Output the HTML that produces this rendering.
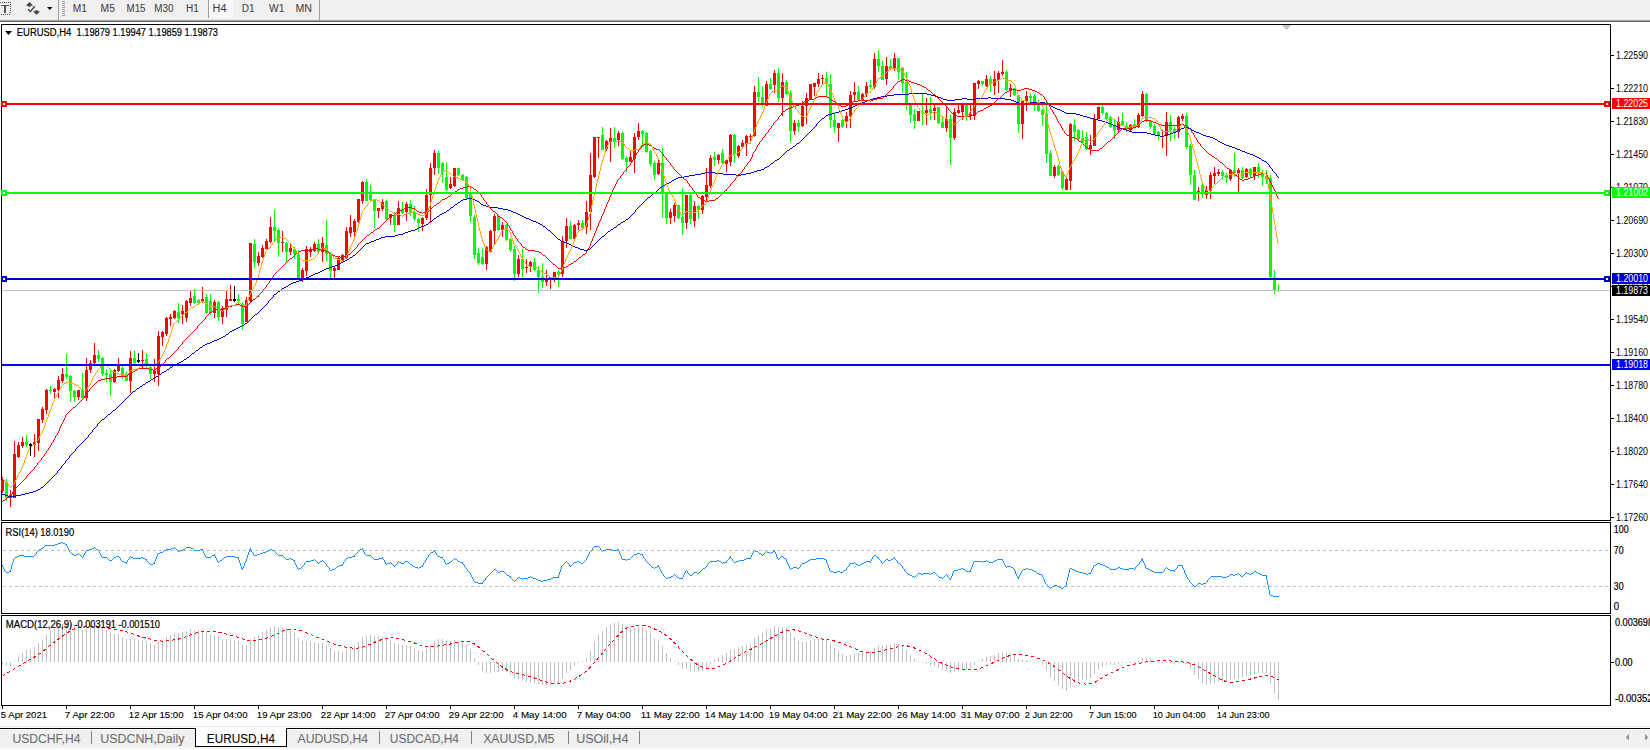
<!DOCTYPE html><html><head><meta charset="utf-8"><style>
html,body{margin:0;padding:0;width:1650px;height:750px;overflow:hidden;background:#fff}
svg{position:absolute;left:0;top:0;display:block}
text{font-family:"Liberation Sans",sans-serif}
</style></head><body>
<svg width="1650" height="750" viewBox="0 0 1650 750" shape-rendering="crispEdges">
<defs><clipPath id="cm"><rect x="2" y="25" width="1608" height="495"/></clipPath>
<clipPath id="cr"><rect x="2" y="523" width="1608" height="90"/></clipPath>
<clipPath id="cc"><rect x="2" y="616" width="1608" height="89"/></clipPath>
<clipPath id="ax"><rect x="1611" y="0" width="39" height="750"/></clipPath></defs>

<rect x="0" y="0" width="1650" height="20" fill="#f0f0f0"/>
<rect x="0" y="20" width="1650" height="1" fill="#a0a0a0"/><rect x="0" y="21" width="1650" height="1" fill="#696969"/>
<g fill="#555">
<rect x="0" y="2" width="1" height="1"/>
<rect x="2" y="2" width="1" height="1"/>
<rect x="4" y="2" width="1" height="1"/>
<rect x="6" y="2" width="1" height="1"/>
<rect x="8" y="2" width="1" height="1"/>
<rect x="10" y="2" width="1" height="1"/>
<rect x="1" y="14" width="1" height="1"/>
<rect x="3" y="14" width="1" height="1"/>
<rect x="5" y="14" width="1" height="1"/>
<rect x="7" y="14" width="1" height="1"/>
<rect x="9" y="14" width="1" height="1"/>
<rect x="10" y="4" width="1" height="1"/>
<rect x="10" y="6" width="1" height="1"/>
<rect x="10" y="8" width="1" height="1"/>
<rect x="10" y="10" width="1" height="1"/>
<rect x="10" y="12" width="1" height="1"/>
<rect x="1" y="5" width="8" height="1"/><rect x="4" y="5" width="2" height="8"/>
</g>
<path d="M25.8,5.7 L29.5,2 L33.2,5.7 Z M28.3,5.5 h2.4 v1.2 h-2.4 Z M35.2,10.2 h2.4 v1.2 h-2.4 Z M32.9,11.2 L40.1,11.2 L36.5,14.8 Z" fill="#444" shape-rendering="auto"/>
<polyline points="28.1,9.2 30.4,11.5 34.8,6.3" fill="none" stroke="#444" stroke-width="1.4" shape-rendering="auto"/>
<path d="M47,7 L52.5,7 L49.75,10 Z" fill="#000" shape-rendering="auto"/>
<rect x="58" y="0" width="1" height="20" fill="#a0a0a0"/>
<rect x="62" y="1" width="3" height="1" fill="#a0a0a0"/>
<rect x="62" y="3" width="3" height="1" fill="#a0a0a0"/>
<rect x="62" y="5" width="3" height="1" fill="#a0a0a0"/>
<rect x="62" y="7" width="3" height="1" fill="#a0a0a0"/>
<rect x="62" y="9" width="3" height="1" fill="#a0a0a0"/>
<rect x="62" y="11" width="3" height="1" fill="#a0a0a0"/>
<rect x="62" y="13" width="3" height="1" fill="#a0a0a0"/>
<rect x="62" y="15" width="3" height="1" fill="#a0a0a0"/>
<rect x="208" y="0" width="1" height="18" fill="#a0a0a0"/><rect x="209" y="0" width="24" height="18" fill="#f8f8f8"/>
<rect x="319" y="0" width="1" height="20" fill="#a0a0a0"/>
<text x="72.8" y="12" font-size="10" fill="#404040" stroke="#404040" stroke-width="0.05" textLength="14.2" lengthAdjust="spacingAndGlyphs" shape-rendering="auto" >M1</text>
<text x="100.6" y="12" font-size="10" fill="#404040" stroke="#404040" stroke-width="0.05" textLength="14.3" lengthAdjust="spacingAndGlyphs" shape-rendering="auto" >M5</text>
<text x="126.6" y="12" font-size="10" fill="#404040" stroke="#404040" stroke-width="0.05" textLength="18.9" lengthAdjust="spacingAndGlyphs" shape-rendering="auto" >M15</text>
<text x="154.3" y="12" font-size="10" fill="#404040" stroke="#404040" stroke-width="0.05" textLength="19.2" lengthAdjust="spacingAndGlyphs" shape-rendering="auto" >M30</text>
<text x="186.0" y="12" font-size="10" fill="#404040" stroke="#404040" stroke-width="0.05" textLength="12.8" lengthAdjust="spacingAndGlyphs" shape-rendering="auto" >H1</text>
<text x="212.60000000000002" y="12" font-size="10" fill="#404040" stroke="#404040" stroke-width="0.05" textLength="13.9" lengthAdjust="spacingAndGlyphs" shape-rendering="auto" >H4</text>
<text x="241.70000000000002" y="12" font-size="10" fill="#404040" stroke="#404040" stroke-width="0.05" textLength="12.8" lengthAdjust="spacingAndGlyphs" shape-rendering="auto" >D1</text>
<text x="269.1" y="12" font-size="10" fill="#404040" stroke="#404040" stroke-width="0.05" textLength="15.4" lengthAdjust="spacingAndGlyphs" shape-rendering="auto" >W1</text>
<text x="295.5" y="12" font-size="10" fill="#404040" stroke="#404040" stroke-width="0.05" textLength="16.5" lengthAdjust="spacingAndGlyphs" shape-rendering="auto" >MN</text>
<rect x="1" y="24" width="1610" height="1" fill="#000"/><rect x="1" y="520" width="1610" height="1" fill="#000"/>
<rect x="1" y="24" width="1" height="497" fill="#000"/><rect x="1610" y="24" width="1" height="497" fill="#000"/>
<rect x="1" y="522" width="1610" height="1" fill="#000"/><rect x="1" y="613" width="1610" height="1" fill="#000"/>
<rect x="1" y="522" width="1" height="92" fill="#000"/><rect x="1610" y="522" width="1" height="92" fill="#000"/>
<rect x="1" y="615" width="1610" height="1" fill="#000"/><rect x="1" y="705" width="1610" height="1" fill="#000"/>
<rect x="1" y="615" width="1" height="91" fill="#000"/><rect x="1610" y="615" width="1" height="91" fill="#000"/>
<path d="M1282,25 L1291,25 L1286.5,30 Z" fill="#c0c0c0" shape-rendering="auto"/>
<rect x="2" y="477" width="1" height="16" fill="#ff0000"/>
<rect x="1" y="480" width="3" height="11" fill="#ff0000"/>
<rect x="6" y="479" width="1" height="22" fill="#00ff00"/>
<rect x="5" y="482" width="3" height="16" fill="#00ff00"/>
<rect x="10" y="490" width="1" height="17" fill="#ff0000"/>
<rect x="9" y="495" width="3" height="3" fill="#ff0000"/>
<rect x="14" y="441" width="1" height="57" fill="#ff0000"/>
<rect x="13" y="454" width="3" height="44" fill="#ff0000"/>
<rect x="18" y="442" width="1" height="16" fill="#ff0000"/>
<rect x="17" y="445" width="3" height="12" fill="#ff0000"/>
<rect x="22" y="437" width="1" height="11" fill="#ff0000"/>
<rect x="21" y="442" width="3" height="4" fill="#ff0000"/>
<rect x="26" y="435" width="1" height="12" fill="#00ff00"/>
<rect x="25" y="442" width="3" height="3" fill="#00ff00"/>
<rect x="30" y="444" width="1" height="1" fill="#00ff00"/>
<rect x="29" y="444" width="3" height="1" fill="#00ff00"/>
<rect x="34" y="434" width="1" height="23" fill="#ff0000"/>
<rect x="33" y="442" width="3" height="3" fill="#ff0000"/>
<rect x="38" y="419" width="1" height="32" fill="#ff0000"/>
<rect x="37" y="419" width="3" height="24" fill="#ff0000"/>
<rect x="42" y="407" width="1" height="16" fill="#ff0000"/>
<rect x="41" y="409" width="3" height="11" fill="#ff0000"/>
<rect x="46" y="389" width="1" height="25" fill="#ff0000"/>
<rect x="45" y="390" width="3" height="20" fill="#ff0000"/>
<rect x="50" y="386" width="1" height="8" fill="#00ff00"/>
<rect x="49" y="390" width="3" height="1" fill="#00ff00"/>
<rect x="54" y="388" width="1" height="10" fill="#ff0000"/>
<rect x="53" y="389" width="3" height="3" fill="#ff0000"/>
<rect x="58" y="376" width="1" height="22" fill="#ff0000"/>
<rect x="57" y="380" width="3" height="10" fill="#ff0000"/>
<rect x="62" y="368" width="1" height="15" fill="#ff0000"/>
<rect x="61" y="374" width="3" height="7" fill="#ff0000"/>
<rect x="66" y="354" width="1" height="25" fill="#00ff00"/>
<rect x="65" y="374" width="3" height="3" fill="#00ff00"/>
<rect x="70" y="375" width="1" height="27" fill="#00ff00"/>
<rect x="69" y="376" width="3" height="15" fill="#00ff00"/>
<rect x="74" y="390" width="1" height="12" fill="#00ff00"/>
<rect x="73" y="391" width="3" height="6" fill="#00ff00"/>
<rect x="78" y="390" width="1" height="10" fill="#ff0000"/>
<rect x="77" y="390" width="3" height="7" fill="#ff0000"/>
<rect x="82" y="373" width="1" height="25" fill="#00ff00"/>
<rect x="81" y="390" width="3" height="8" fill="#00ff00"/>
<rect x="86" y="358" width="1" height="43" fill="#ff0000"/>
<rect x="85" y="370" width="3" height="28" fill="#ff0000"/>
<rect x="90" y="360" width="1" height="13" fill="#ff0000"/>
<rect x="89" y="363" width="3" height="7" fill="#ff0000"/>
<rect x="94" y="343" width="1" height="21" fill="#ff0000"/>
<rect x="93" y="355" width="3" height="8" fill="#ff0000"/>
<rect x="98" y="350" width="1" height="12" fill="#00ff00"/>
<rect x="97" y="355" width="3" height="4" fill="#00ff00"/>
<rect x="102" y="357" width="1" height="19" fill="#00ff00"/>
<rect x="101" y="358" width="3" height="16" fill="#00ff00"/>
<rect x="106" y="369" width="1" height="13" fill="#00ff00"/>
<rect x="105" y="373" width="3" height="2" fill="#00ff00"/>
<rect x="110" y="369" width="1" height="27" fill="#00ff00"/>
<rect x="109" y="374" width="3" height="8" fill="#00ff00"/>
<rect x="114" y="369" width="1" height="14" fill="#ff0000"/>
<rect x="113" y="370" width="3" height="12" fill="#ff0000"/>
<rect x="118" y="358" width="1" height="14" fill="#ff0000"/>
<rect x="117" y="366" width="3" height="5" fill="#ff0000"/>
<rect x="122" y="366" width="1" height="13" fill="#00ff00"/>
<rect x="121" y="368" width="3" height="9" fill="#00ff00"/>
<rect x="126" y="372" width="1" height="9" fill="#00ff00"/>
<rect x="125" y="374" width="3" height="7" fill="#00ff00"/>
<rect x="130" y="351" width="1" height="42" fill="#ff0000"/>
<rect x="129" y="358" width="3" height="23" fill="#ff0000"/>
<rect x="134" y="351" width="1" height="14" fill="#00ff00"/>
<rect x="133" y="358" width="3" height="5" fill="#00ff00"/>
<rect x="138" y="353" width="1" height="9" fill="#00ff00"/>
<rect x="137" y="361" width="3" height="1" fill="#00ff00"/>
<rect x="142" y="350" width="1" height="19" fill="#ff0000"/>
<rect x="141" y="360" width="3" height="1" fill="#ff0000"/>
<rect x="146" y="353" width="1" height="16" fill="#00ff00"/>
<rect x="145" y="359" width="3" height="5" fill="#00ff00"/>
<rect x="150" y="366" width="1" height="13" fill="#00ff00"/>
<rect x="149" y="367" width="3" height="7" fill="#00ff00"/>
<rect x="154" y="359" width="1" height="23" fill="#ff0000"/>
<rect x="153" y="371" width="3" height="3" fill="#ff0000"/>
<rect x="158" y="331" width="1" height="55" fill="#ff0000"/>
<rect x="157" y="336" width="3" height="38" fill="#ff0000"/>
<rect x="162" y="331" width="1" height="15" fill="#ff0000"/>
<rect x="161" y="332" width="3" height="5" fill="#ff0000"/>
<rect x="166" y="317" width="1" height="19" fill="#ff0000"/>
<rect x="165" y="318" width="3" height="16" fill="#ff0000"/>
<rect x="170" y="314" width="1" height="12" fill="#ff0000"/>
<rect x="169" y="317" width="3" height="2" fill="#ff0000"/>
<rect x="174" y="310" width="1" height="9" fill="#ff0000"/>
<rect x="173" y="311" width="3" height="7" fill="#ff0000"/>
<rect x="178" y="303" width="1" height="20" fill="#00ff00"/>
<rect x="177" y="312" width="3" height="6" fill="#00ff00"/>
<rect x="182" y="305" width="1" height="19" fill="#ff0000"/>
<rect x="181" y="311" width="3" height="3" fill="#ff0000"/>
<rect x="186" y="300" width="1" height="22" fill="#ff0000"/>
<rect x="185" y="301" width="3" height="17" fill="#ff0000"/>
<rect x="190" y="291" width="1" height="15" fill="#ff0000"/>
<rect x="189" y="298" width="3" height="5" fill="#ff0000"/>
<rect x="194" y="289" width="1" height="15" fill="#00ff00"/>
<rect x="193" y="296" width="3" height="7" fill="#00ff00"/>
<rect x="198" y="299" width="1" height="6" fill="#00ff00"/>
<rect x="197" y="300" width="3" height="3" fill="#00ff00"/>
<rect x="202" y="287" width="1" height="16" fill="#ff0000"/>
<rect x="201" y="299" width="3" height="3" fill="#ff0000"/>
<rect x="206" y="294" width="1" height="20" fill="#00ff00"/>
<rect x="205" y="297" width="3" height="16" fill="#00ff00"/>
<rect x="210" y="294" width="1" height="21" fill="#00ff00"/>
<rect x="209" y="301" width="3" height="12" fill="#00ff00"/>
<rect x="214" y="300" width="1" height="18" fill="#ff0000"/>
<rect x="213" y="302" width="3" height="11" fill="#ff0000"/>
<rect x="218" y="301" width="1" height="20" fill="#00ff00"/>
<rect x="217" y="302" width="3" height="15" fill="#00ff00"/>
<rect x="222" y="306" width="1" height="18" fill="#ff0000"/>
<rect x="221" y="309" width="3" height="8" fill="#ff0000"/>
<rect x="226" y="290" width="1" height="27" fill="#ff0000"/>
<rect x="225" y="299" width="3" height="11" fill="#ff0000"/>
<rect x="230" y="285" width="1" height="16" fill="#ff0000"/>
<rect x="229" y="299" width="3" height="2" fill="#ff0000"/>
<rect x="234" y="286" width="1" height="16" fill="#00ff00"/>
<rect x="233" y="299" width="3" height="1" fill="#00ff00"/>
<rect x="238" y="294" width="1" height="10" fill="#00ff00"/>
<rect x="237" y="299" width="3" height="2" fill="#00ff00"/>
<rect x="242" y="302" width="1" height="28" fill="#00ff00"/>
<rect x="241" y="304" width="3" height="20" fill="#00ff00"/>
<rect x="246" y="297" width="1" height="25" fill="#ff0000"/>
<rect x="245" y="300" width="3" height="22" fill="#ff0000"/>
<rect x="250" y="243" width="1" height="59" fill="#ff0000"/>
<rect x="249" y="243" width="3" height="58" fill="#ff0000"/>
<rect x="254" y="239" width="1" height="29" fill="#00ff00"/>
<rect x="253" y="244" width="3" height="18" fill="#00ff00"/>
<rect x="258" y="252" width="1" height="14" fill="#ff0000"/>
<rect x="257" y="256" width="3" height="7" fill="#ff0000"/>
<rect x="262" y="245" width="1" height="13" fill="#ff0000"/>
<rect x="261" y="248" width="3" height="9" fill="#ff0000"/>
<rect x="266" y="239" width="1" height="10" fill="#ff0000"/>
<rect x="265" y="241" width="3" height="8" fill="#ff0000"/>
<rect x="270" y="217" width="1" height="26" fill="#ff0000"/>
<rect x="269" y="227" width="3" height="15" fill="#ff0000"/>
<rect x="274" y="210" width="1" height="32" fill="#00ff00"/>
<rect x="273" y="227" width="3" height="4" fill="#00ff00"/>
<rect x="278" y="228" width="1" height="29" fill="#00ff00"/>
<rect x="277" y="230" width="3" height="13" fill="#00ff00"/>
<rect x="282" y="231" width="1" height="21" fill="#ff0000"/>
<rect x="281" y="242" width="3" height="1" fill="#ff0000"/>
<rect x="286" y="242" width="1" height="20" fill="#00ff00"/>
<rect x="285" y="243" width="3" height="9" fill="#00ff00"/>
<rect x="290" y="243" width="1" height="12" fill="#ff0000"/>
<rect x="289" y="248" width="3" height="4" fill="#ff0000"/>
<rect x="294" y="247" width="1" height="12" fill="#00ff00"/>
<rect x="293" y="249" width="3" height="5" fill="#00ff00"/>
<rect x="298" y="250" width="1" height="28" fill="#00ff00"/>
<rect x="297" y="254" width="3" height="24" fill="#00ff00"/>
<rect x="302" y="268" width="1" height="14" fill="#ff0000"/>
<rect x="301" y="270" width="3" height="8" fill="#ff0000"/>
<rect x="306" y="246" width="1" height="30" fill="#ff0000"/>
<rect x="305" y="249" width="3" height="22" fill="#ff0000"/>
<rect x="310" y="247" width="1" height="10" fill="#ff0000"/>
<rect x="309" y="249" width="3" height="3" fill="#ff0000"/>
<rect x="314" y="242" width="1" height="10" fill="#ff0000"/>
<rect x="313" y="244" width="3" height="7" fill="#ff0000"/>
<rect x="318" y="239" width="1" height="15" fill="#00ff00"/>
<rect x="317" y="244" width="3" height="8" fill="#00ff00"/>
<rect x="322" y="237" width="1" height="25" fill="#ff0000"/>
<rect x="321" y="243" width="3" height="9" fill="#ff0000"/>
<rect x="326" y="220" width="1" height="41" fill="#00ff00"/>
<rect x="325" y="245" width="3" height="9" fill="#00ff00"/>
<rect x="330" y="252" width="1" height="26" fill="#00ff00"/>
<rect x="329" y="254" width="3" height="17" fill="#00ff00"/>
<rect x="334" y="266" width="1" height="12" fill="#ff0000"/>
<rect x="333" y="268" width="3" height="3" fill="#ff0000"/>
<rect x="338" y="257" width="1" height="13" fill="#ff0000"/>
<rect x="337" y="258" width="3" height="12" fill="#ff0000"/>
<rect x="342" y="254" width="1" height="7" fill="#ff0000"/>
<rect x="341" y="255" width="3" height="5" fill="#ff0000"/>
<rect x="346" y="227" width="1" height="32" fill="#ff0000"/>
<rect x="345" y="231" width="3" height="27" fill="#ff0000"/>
<rect x="350" y="215" width="1" height="22" fill="#ff0000"/>
<rect x="349" y="227" width="3" height="6" fill="#ff0000"/>
<rect x="354" y="219" width="1" height="18" fill="#ff0000"/>
<rect x="353" y="221" width="3" height="11" fill="#ff0000"/>
<rect x="358" y="199" width="1" height="24" fill="#ff0000"/>
<rect x="357" y="199" width="3" height="23" fill="#ff0000"/>
<rect x="362" y="181" width="1" height="23" fill="#ff0000"/>
<rect x="361" y="182" width="3" height="19" fill="#ff0000"/>
<rect x="366" y="179" width="1" height="22" fill="#00ff00"/>
<rect x="365" y="182" width="3" height="19" fill="#00ff00"/>
<rect x="370" y="185" width="1" height="17" fill="#00ff00"/>
<rect x="369" y="192" width="3" height="8" fill="#00ff00"/>
<rect x="374" y="199" width="1" height="29" fill="#00ff00"/>
<rect x="373" y="199" width="3" height="12" fill="#00ff00"/>
<rect x="378" y="208" width="1" height="10" fill="#ff0000"/>
<rect x="377" y="208" width="3" height="3" fill="#ff0000"/>
<rect x="382" y="199" width="1" height="12" fill="#ff0000"/>
<rect x="381" y="202" width="3" height="7" fill="#ff0000"/>
<rect x="386" y="200" width="1" height="20" fill="#00ff00"/>
<rect x="385" y="201" width="3" height="18" fill="#00ff00"/>
<rect x="390" y="214" width="1" height="11" fill="#ff0000"/>
<rect x="389" y="214" width="3" height="4" fill="#ff0000"/>
<rect x="394" y="212" width="1" height="20" fill="#00ff00"/>
<rect x="393" y="215" width="3" height="10" fill="#00ff00"/>
<rect x="398" y="201" width="1" height="24" fill="#ff0000"/>
<rect x="397" y="208" width="3" height="17" fill="#ff0000"/>
<rect x="402" y="202" width="1" height="12" fill="#00ff00"/>
<rect x="401" y="209" width="3" height="4" fill="#00ff00"/>
<rect x="406" y="202" width="1" height="19" fill="#ff0000"/>
<rect x="405" y="204" width="3" height="8" fill="#ff0000"/>
<rect x="410" y="200" width="1" height="16" fill="#00ff00"/>
<rect x="409" y="204" width="3" height="8" fill="#00ff00"/>
<rect x="414" y="206" width="1" height="15" fill="#00ff00"/>
<rect x="413" y="212" width="3" height="7" fill="#00ff00"/>
<rect x="418" y="218" width="1" height="14" fill="#00ff00"/>
<rect x="417" y="219" width="3" height="4" fill="#00ff00"/>
<rect x="422" y="217" width="1" height="14" fill="#ff0000"/>
<rect x="421" y="218" width="3" height="6" fill="#ff0000"/>
<rect x="426" y="189" width="1" height="31" fill="#ff0000"/>
<rect x="425" y="195" width="3" height="23" fill="#ff0000"/>
<rect x="430" y="163" width="1" height="60" fill="#ff0000"/>
<rect x="429" y="168" width="3" height="27" fill="#ff0000"/>
<rect x="434" y="150" width="1" height="25" fill="#ff0000"/>
<rect x="433" y="153" width="3" height="15" fill="#ff0000"/>
<rect x="438" y="151" width="1" height="23" fill="#00ff00"/>
<rect x="437" y="153" width="3" height="15" fill="#00ff00"/>
<rect x="442" y="162" width="1" height="21" fill="#00ff00"/>
<rect x="441" y="163" width="3" height="9" fill="#00ff00"/>
<rect x="446" y="162" width="1" height="29" fill="#00ff00"/>
<rect x="445" y="177" width="3" height="13" fill="#00ff00"/>
<rect x="450" y="177" width="1" height="12" fill="#ff0000"/>
<rect x="449" y="184" width="3" height="4" fill="#ff0000"/>
<rect x="454" y="168" width="1" height="19" fill="#ff0000"/>
<rect x="453" y="168" width="3" height="18" fill="#ff0000"/>
<rect x="458" y="168" width="1" height="8" fill="#00ff00"/>
<rect x="457" y="168" width="3" height="7" fill="#00ff00"/>
<rect x="462" y="174" width="1" height="7" fill="#00ff00"/>
<rect x="461" y="175" width="3" height="5" fill="#00ff00"/>
<rect x="466" y="176" width="1" height="23" fill="#00ff00"/>
<rect x="465" y="177" width="3" height="21" fill="#00ff00"/>
<rect x="470" y="193" width="1" height="29" fill="#00ff00"/>
<rect x="469" y="194" width="3" height="22" fill="#00ff00"/>
<rect x="474" y="215" width="1" height="44" fill="#00ff00"/>
<rect x="473" y="217" width="3" height="38" fill="#00ff00"/>
<rect x="478" y="248" width="1" height="17" fill="#00ff00"/>
<rect x="477" y="253" width="3" height="10" fill="#00ff00"/>
<rect x="482" y="249" width="1" height="16" fill="#00ff00"/>
<rect x="481" y="257" width="3" height="7" fill="#00ff00"/>
<rect x="486" y="246" width="1" height="24" fill="#ff0000"/>
<rect x="485" y="247" width="3" height="17" fill="#ff0000"/>
<rect x="490" y="230" width="1" height="23" fill="#ff0000"/>
<rect x="489" y="231" width="3" height="21" fill="#ff0000"/>
<rect x="494" y="214" width="1" height="31" fill="#ff0000"/>
<rect x="493" y="216" width="3" height="15" fill="#ff0000"/>
<rect x="498" y="215" width="1" height="16" fill="#00ff00"/>
<rect x="497" y="216" width="3" height="14" fill="#00ff00"/>
<rect x="502" y="222" width="1" height="15" fill="#ff0000"/>
<rect x="501" y="225" width="3" height="5" fill="#ff0000"/>
<rect x="506" y="224" width="1" height="17" fill="#00ff00"/>
<rect x="505" y="225" width="3" height="15" fill="#00ff00"/>
<rect x="510" y="238" width="1" height="14" fill="#00ff00"/>
<rect x="509" y="239" width="3" height="11" fill="#00ff00"/>
<rect x="514" y="246" width="1" height="35" fill="#00ff00"/>
<rect x="513" y="249" width="3" height="25" fill="#00ff00"/>
<rect x="518" y="255" width="1" height="22" fill="#ff0000"/>
<rect x="517" y="259" width="3" height="15" fill="#ff0000"/>
<rect x="522" y="249" width="1" height="28" fill="#00ff00"/>
<rect x="521" y="259" width="3" height="10" fill="#00ff00"/>
<rect x="526" y="259" width="1" height="14" fill="#ff0000"/>
<rect x="525" y="267" width="3" height="1" fill="#ff0000"/>
<rect x="530" y="261" width="1" height="11" fill="#ff0000"/>
<rect x="529" y="262" width="3" height="5" fill="#ff0000"/>
<rect x="534" y="258" width="1" height="13" fill="#00ff00"/>
<rect x="533" y="262" width="3" height="8" fill="#00ff00"/>
<rect x="538" y="266" width="1" height="27" fill="#00ff00"/>
<rect x="537" y="270" width="3" height="7" fill="#00ff00"/>
<rect x="542" y="263" width="1" height="25" fill="#00ff00"/>
<rect x="541" y="277" width="3" height="5" fill="#00ff00"/>
<rect x="546" y="270" width="1" height="16" fill="#ff0000"/>
<rect x="545" y="279" width="3" height="3" fill="#ff0000"/>
<rect x="550" y="277" width="1" height="12" fill="#ff0000"/>
<rect x="549" y="277" width="3" height="2" fill="#ff0000"/>
<rect x="554" y="272" width="1" height="10" fill="#ff0000"/>
<rect x="553" y="272" width="3" height="5" fill="#ff0000"/>
<rect x="558" y="270" width="1" height="17" fill="#00ff00"/>
<rect x="557" y="272" width="3" height="2" fill="#00ff00"/>
<rect x="562" y="236" width="1" height="41" fill="#ff0000"/>
<rect x="561" y="241" width="3" height="33" fill="#ff0000"/>
<rect x="566" y="218" width="1" height="30" fill="#ff0000"/>
<rect x="565" y="226" width="3" height="15" fill="#ff0000"/>
<rect x="570" y="221" width="1" height="18" fill="#00ff00"/>
<rect x="569" y="226" width="3" height="13" fill="#00ff00"/>
<rect x="574" y="224" width="1" height="18" fill="#ff0000"/>
<rect x="573" y="225" width="3" height="14" fill="#ff0000"/>
<rect x="578" y="220" width="1" height="10" fill="#ff0000"/>
<rect x="577" y="223" width="3" height="2" fill="#ff0000"/>
<rect x="582" y="220" width="1" height="10" fill="#00ff00"/>
<rect x="581" y="223" width="3" height="5" fill="#00ff00"/>
<rect x="586" y="201" width="1" height="33" fill="#ff0000"/>
<rect x="585" y="212" width="3" height="15" fill="#ff0000"/>
<rect x="590" y="153" width="1" height="77" fill="#ff0000"/>
<rect x="589" y="175" width="3" height="37" fill="#ff0000"/>
<rect x="594" y="137" width="1" height="41" fill="#ff0000"/>
<rect x="593" y="137" width="3" height="40" fill="#ff0000"/>
<rect x="598" y="137" width="1" height="21" fill="#ff0000"/>
<rect x="597" y="137" width="3" height="1" fill="#ff0000"/>
<rect x="602" y="127" width="1" height="23" fill="#00ff00"/>
<rect x="601" y="135" width="3" height="15" fill="#00ff00"/>
<rect x="606" y="140" width="1" height="11" fill="#ff0000"/>
<rect x="605" y="141" width="3" height="8" fill="#ff0000"/>
<rect x="610" y="128" width="1" height="34" fill="#ff0000"/>
<rect x="609" y="138" width="3" height="4" fill="#ff0000"/>
<rect x="614" y="127" width="1" height="21" fill="#00ff00"/>
<rect x="613" y="138" width="3" height="3" fill="#00ff00"/>
<rect x="618" y="131" width="1" height="15" fill="#ff0000"/>
<rect x="617" y="133" width="3" height="7" fill="#ff0000"/>
<rect x="622" y="132" width="1" height="28" fill="#00ff00"/>
<rect x="621" y="133" width="3" height="26" fill="#00ff00"/>
<rect x="626" y="156" width="1" height="16" fill="#00ff00"/>
<rect x="625" y="158" width="3" height="4" fill="#00ff00"/>
<rect x="630" y="151" width="1" height="11" fill="#ff0000"/>
<rect x="629" y="157" width="3" height="5" fill="#ff0000"/>
<rect x="634" y="133" width="1" height="40" fill="#ff0000"/>
<rect x="633" y="137" width="3" height="22" fill="#ff0000"/>
<rect x="638" y="123" width="1" height="17" fill="#ff0000"/>
<rect x="637" y="131" width="3" height="6" fill="#ff0000"/>
<rect x="642" y="130" width="1" height="17" fill="#00ff00"/>
<rect x="641" y="131" width="3" height="3" fill="#00ff00"/>
<rect x="646" y="132" width="1" height="21" fill="#00ff00"/>
<rect x="645" y="133" width="3" height="19" fill="#00ff00"/>
<rect x="650" y="150" width="1" height="16" fill="#00ff00"/>
<rect x="649" y="151" width="3" height="13" fill="#00ff00"/>
<rect x="654" y="161" width="1" height="19" fill="#00ff00"/>
<rect x="653" y="163" width="3" height="12" fill="#00ff00"/>
<rect x="658" y="159" width="1" height="16" fill="#ff0000"/>
<rect x="657" y="163" width="3" height="11" fill="#ff0000"/>
<rect x="662" y="148" width="1" height="70" fill="#00ff00"/>
<rect x="661" y="163" width="3" height="29" fill="#00ff00"/>
<rect x="666" y="192" width="1" height="32" fill="#00ff00"/>
<rect x="665" y="193" width="3" height="25" fill="#00ff00"/>
<rect x="670" y="209" width="1" height="15" fill="#ff0000"/>
<rect x="669" y="212" width="3" height="6" fill="#ff0000"/>
<rect x="674" y="203" width="1" height="19" fill="#ff0000"/>
<rect x="673" y="205" width="3" height="11" fill="#ff0000"/>
<rect x="678" y="205" width="1" height="14" fill="#00ff00"/>
<rect x="677" y="205" width="3" height="13" fill="#00ff00"/>
<rect x="682" y="188" width="1" height="47" fill="#00ff00"/>
<rect x="681" y="217" width="3" height="6" fill="#00ff00"/>
<rect x="686" y="195" width="1" height="34" fill="#ff0000"/>
<rect x="685" y="195" width="3" height="28" fill="#ff0000"/>
<rect x="690" y="194" width="1" height="30" fill="#00ff00"/>
<rect x="689" y="195" width="3" height="24" fill="#00ff00"/>
<rect x="694" y="201" width="1" height="26" fill="#ff0000"/>
<rect x="693" y="206" width="3" height="15" fill="#ff0000"/>
<rect x="698" y="205" width="1" height="14" fill="#00ff00"/>
<rect x="697" y="206" width="3" height="4" fill="#00ff00"/>
<rect x="702" y="195" width="1" height="19" fill="#ff0000"/>
<rect x="701" y="196" width="3" height="14" fill="#ff0000"/>
<rect x="706" y="168" width="1" height="34" fill="#ff0000"/>
<rect x="705" y="185" width="3" height="12" fill="#ff0000"/>
<rect x="710" y="155" width="1" height="33" fill="#ff0000"/>
<rect x="709" y="158" width="3" height="28" fill="#ff0000"/>
<rect x="714" y="152" width="1" height="14" fill="#00ff00"/>
<rect x="713" y="157" width="3" height="3" fill="#00ff00"/>
<rect x="718" y="154" width="1" height="10" fill="#ff0000"/>
<rect x="717" y="155" width="3" height="5" fill="#ff0000"/>
<rect x="722" y="149" width="1" height="15" fill="#00ff00"/>
<rect x="721" y="153" width="3" height="10" fill="#00ff00"/>
<rect x="726" y="159" width="1" height="13" fill="#ff0000"/>
<rect x="725" y="160" width="3" height="4" fill="#ff0000"/>
<rect x="730" y="134" width="1" height="32" fill="#ff0000"/>
<rect x="729" y="135" width="3" height="27" fill="#ff0000"/>
<rect x="734" y="134" width="1" height="29" fill="#00ff00"/>
<rect x="733" y="135" width="3" height="19" fill="#00ff00"/>
<rect x="738" y="145" width="1" height="13" fill="#ff0000"/>
<rect x="737" y="146" width="3" height="10" fill="#ff0000"/>
<rect x="742" y="140" width="1" height="8" fill="#ff0000"/>
<rect x="741" y="143" width="3" height="4" fill="#ff0000"/>
<rect x="746" y="135" width="1" height="21" fill="#ff0000"/>
<rect x="745" y="136" width="3" height="8" fill="#ff0000"/>
<rect x="750" y="134" width="1" height="7" fill="#ff0000"/>
<rect x="749" y="136" width="3" height="1" fill="#ff0000"/>
<rect x="754" y="86" width="1" height="51" fill="#ff0000"/>
<rect x="753" y="92" width="3" height="44" fill="#ff0000"/>
<rect x="758" y="77" width="1" height="25" fill="#00ff00"/>
<rect x="757" y="92" width="3" height="5" fill="#00ff00"/>
<rect x="762" y="86" width="1" height="21" fill="#00ff00"/>
<rect x="761" y="97" width="3" height="8" fill="#00ff00"/>
<rect x="766" y="81" width="1" height="25" fill="#ff0000"/>
<rect x="765" y="84" width="3" height="22" fill="#ff0000"/>
<rect x="770" y="78" width="1" height="12" fill="#00ff00"/>
<rect x="769" y="84" width="3" height="5" fill="#00ff00"/>
<rect x="774" y="70" width="1" height="23" fill="#ff0000"/>
<rect x="773" y="73" width="3" height="12" fill="#ff0000"/>
<rect x="778" y="68" width="1" height="34" fill="#00ff00"/>
<rect x="777" y="73" width="3" height="25" fill="#00ff00"/>
<rect x="782" y="73" width="1" height="43" fill="#ff0000"/>
<rect x="781" y="82" width="3" height="16" fill="#ff0000"/>
<rect x="786" y="80" width="1" height="15" fill="#00ff00"/>
<rect x="785" y="82" width="3" height="12" fill="#00ff00"/>
<rect x="790" y="90" width="1" height="52" fill="#00ff00"/>
<rect x="789" y="93" width="3" height="38" fill="#00ff00"/>
<rect x="794" y="120" width="1" height="15" fill="#ff0000"/>
<rect x="793" y="123" width="3" height="8" fill="#ff0000"/>
<rect x="798" y="120" width="1" height="12" fill="#00ff00"/>
<rect x="797" y="123" width="3" height="4" fill="#00ff00"/>
<rect x="802" y="101" width="1" height="26" fill="#ff0000"/>
<rect x="801" y="106" width="3" height="20" fill="#ff0000"/>
<rect x="806" y="93" width="1" height="31" fill="#ff0000"/>
<rect x="805" y="98" width="3" height="8" fill="#ff0000"/>
<rect x="810" y="84" width="1" height="16" fill="#ff0000"/>
<rect x="809" y="84" width="3" height="15" fill="#ff0000"/>
<rect x="814" y="83" width="1" height="13" fill="#ff0000"/>
<rect x="813" y="83" width="3" height="4" fill="#ff0000"/>
<rect x="818" y="73" width="1" height="14" fill="#ff0000"/>
<rect x="817" y="79" width="3" height="5" fill="#ff0000"/>
<rect x="822" y="75" width="1" height="9" fill="#ff0000"/>
<rect x="821" y="78" width="3" height="1" fill="#ff0000"/>
<rect x="826" y="72" width="1" height="24" fill="#00ff00"/>
<rect x="825" y="78" width="3" height="6" fill="#00ff00"/>
<rect x="830" y="74" width="1" height="54" fill="#00ff00"/>
<rect x="829" y="84" width="3" height="36" fill="#00ff00"/>
<rect x="834" y="114" width="1" height="19" fill="#00ff00"/>
<rect x="833" y="120" width="3" height="7" fill="#00ff00"/>
<rect x="838" y="123" width="1" height="19" fill="#ff0000"/>
<rect x="837" y="123" width="3" height="5" fill="#ff0000"/>
<rect x="842" y="119" width="1" height="9" fill="#00ff00"/>
<rect x="841" y="120" width="3" height="7" fill="#00ff00"/>
<rect x="846" y="112" width="1" height="16" fill="#ff0000"/>
<rect x="845" y="116" width="3" height="6" fill="#ff0000"/>
<rect x="850" y="91" width="1" height="37" fill="#ff0000"/>
<rect x="849" y="95" width="3" height="21" fill="#ff0000"/>
<rect x="854" y="82" width="1" height="20" fill="#ff0000"/>
<rect x="853" y="92" width="3" height="3" fill="#ff0000"/>
<rect x="858" y="86" width="1" height="15" fill="#00ff00"/>
<rect x="857" y="92" width="3" height="8" fill="#00ff00"/>
<rect x="862" y="93" width="1" height="8" fill="#ff0000"/>
<rect x="861" y="94" width="3" height="6" fill="#ff0000"/>
<rect x="866" y="82" width="1" height="15" fill="#ff0000"/>
<rect x="865" y="86" width="3" height="8" fill="#ff0000"/>
<rect x="870" y="80" width="1" height="9" fill="#00ff00"/>
<rect x="869" y="85" width="3" height="2" fill="#00ff00"/>
<rect x="874" y="53" width="1" height="36" fill="#ff0000"/>
<rect x="873" y="59" width="3" height="28" fill="#ff0000"/>
<rect x="878" y="50" width="1" height="22" fill="#00ff00"/>
<rect x="877" y="59" width="3" height="7" fill="#00ff00"/>
<rect x="882" y="61" width="1" height="19" fill="#00ff00"/>
<rect x="881" y="66" width="3" height="14" fill="#00ff00"/>
<rect x="886" y="57" width="1" height="28" fill="#ff0000"/>
<rect x="885" y="66" width="3" height="13" fill="#ff0000"/>
<rect x="890" y="59" width="1" height="11" fill="#00ff00"/>
<rect x="889" y="66" width="3" height="3" fill="#00ff00"/>
<rect x="894" y="53" width="1" height="18" fill="#ff0000"/>
<rect x="893" y="58" width="3" height="11" fill="#ff0000"/>
<rect x="898" y="58" width="1" height="22" fill="#00ff00"/>
<rect x="897" y="58" width="3" height="14" fill="#00ff00"/>
<rect x="902" y="67" width="1" height="26" fill="#00ff00"/>
<rect x="901" y="68" width="3" height="15" fill="#00ff00"/>
<rect x="906" y="72" width="1" height="38" fill="#00ff00"/>
<rect x="905" y="82" width="3" height="21" fill="#00ff00"/>
<rect x="910" y="103" width="1" height="20" fill="#00ff00"/>
<rect x="909" y="105" width="3" height="10" fill="#00ff00"/>
<rect x="914" y="109" width="1" height="20" fill="#00ff00"/>
<rect x="913" y="114" width="3" height="7" fill="#00ff00"/>
<rect x="918" y="111" width="1" height="10" fill="#ff0000"/>
<rect x="917" y="111" width="3" height="10" fill="#ff0000"/>
<rect x="922" y="94" width="1" height="31" fill="#00ff00"/>
<rect x="921" y="112" width="3" height="1" fill="#00ff00"/>
<rect x="926" y="98" width="1" height="27" fill="#ff0000"/>
<rect x="925" y="110" width="3" height="3" fill="#ff0000"/>
<rect x="930" y="97" width="1" height="23" fill="#00ff00"/>
<rect x="929" y="109" width="3" height="4" fill="#00ff00"/>
<rect x="934" y="105" width="1" height="15" fill="#ff0000"/>
<rect x="933" y="108" width="3" height="3" fill="#ff0000"/>
<rect x="938" y="107" width="1" height="17" fill="#00ff00"/>
<rect x="937" y="107" width="3" height="16" fill="#00ff00"/>
<rect x="942" y="116" width="1" height="12" fill="#00ff00"/>
<rect x="941" y="122" width="3" height="6" fill="#00ff00"/>
<rect x="946" y="107" width="1" height="25" fill="#ff0000"/>
<rect x="945" y="119" width="3" height="9" fill="#ff0000"/>
<rect x="950" y="115" width="1" height="50" fill="#00ff00"/>
<rect x="949" y="119" width="3" height="19" fill="#00ff00"/>
<rect x="954" y="108" width="1" height="32" fill="#ff0000"/>
<rect x="953" y="112" width="3" height="26" fill="#ff0000"/>
<rect x="958" y="105" width="1" height="9" fill="#ff0000"/>
<rect x="957" y="110" width="3" height="3" fill="#ff0000"/>
<rect x="962" y="104" width="1" height="16" fill="#ff0000"/>
<rect x="961" y="105" width="3" height="7" fill="#ff0000"/>
<rect x="966" y="104" width="1" height="17" fill="#00ff00"/>
<rect x="965" y="105" width="3" height="11" fill="#00ff00"/>
<rect x="970" y="105" width="1" height="15" fill="#ff0000"/>
<rect x="969" y="114" width="3" height="2" fill="#ff0000"/>
<rect x="974" y="83" width="1" height="37" fill="#ff0000"/>
<rect x="973" y="83" width="3" height="33" fill="#ff0000"/>
<rect x="978" y="80" width="1" height="9" fill="#ff0000"/>
<rect x="977" y="81" width="3" height="3" fill="#ff0000"/>
<rect x="982" y="81" width="1" height="5" fill="#00ff00"/>
<rect x="981" y="81" width="3" height="3" fill="#00ff00"/>
<rect x="986" y="75" width="1" height="12" fill="#ff0000"/>
<rect x="985" y="79" width="3" height="7" fill="#ff0000"/>
<rect x="990" y="76" width="1" height="16" fill="#00ff00"/>
<rect x="989" y="79" width="3" height="5" fill="#00ff00"/>
<rect x="994" y="71" width="1" height="24" fill="#ff0000"/>
<rect x="993" y="79" width="3" height="7" fill="#ff0000"/>
<rect x="998" y="71" width="1" height="22" fill="#ff0000"/>
<rect x="997" y="73" width="3" height="7" fill="#ff0000"/>
<rect x="1002" y="60" width="1" height="16" fill="#ff0000"/>
<rect x="1001" y="72" width="3" height="2" fill="#ff0000"/>
<rect x="1006" y="70" width="1" height="21" fill="#00ff00"/>
<rect x="1005" y="72" width="3" height="18" fill="#00ff00"/>
<rect x="1010" y="84" width="1" height="13" fill="#ff0000"/>
<rect x="1009" y="88" width="3" height="3" fill="#ff0000"/>
<rect x="1014" y="88" width="1" height="8" fill="#00ff00"/>
<rect x="1013" y="88" width="3" height="7" fill="#00ff00"/>
<rect x="1018" y="94" width="1" height="39" fill="#00ff00"/>
<rect x="1017" y="95" width="3" height="29" fill="#00ff00"/>
<rect x="1022" y="101" width="1" height="38" fill="#ff0000"/>
<rect x="1021" y="101" width="3" height="23" fill="#ff0000"/>
<rect x="1026" y="91" width="1" height="20" fill="#ff0000"/>
<rect x="1025" y="96" width="3" height="5" fill="#ff0000"/>
<rect x="1030" y="93" width="1" height="9" fill="#00ff00"/>
<rect x="1029" y="96" width="3" height="2" fill="#00ff00"/>
<rect x="1034" y="94" width="1" height="17" fill="#00ff00"/>
<rect x="1033" y="96" width="3" height="7" fill="#00ff00"/>
<rect x="1038" y="100" width="1" height="12" fill="#00ff00"/>
<rect x="1037" y="103" width="3" height="8" fill="#00ff00"/>
<rect x="1042" y="109" width="1" height="17" fill="#00ff00"/>
<rect x="1041" y="110" width="3" height="5" fill="#00ff00"/>
<rect x="1046" y="100" width="1" height="63" fill="#00ff00"/>
<rect x="1045" y="114" width="3" height="40" fill="#00ff00"/>
<rect x="1050" y="150" width="1" height="26" fill="#00ff00"/>
<rect x="1049" y="153" width="3" height="23" fill="#00ff00"/>
<rect x="1054" y="165" width="1" height="13" fill="#ff0000"/>
<rect x="1053" y="167" width="3" height="9" fill="#ff0000"/>
<rect x="1058" y="165" width="1" height="11" fill="#00ff00"/>
<rect x="1057" y="166" width="3" height="9" fill="#00ff00"/>
<rect x="1062" y="171" width="1" height="19" fill="#00ff00"/>
<rect x="1061" y="172" width="3" height="16" fill="#00ff00"/>
<rect x="1066" y="178" width="1" height="12" fill="#ff0000"/>
<rect x="1065" y="179" width="3" height="11" fill="#ff0000"/>
<rect x="1070" y="123" width="1" height="67" fill="#ff0000"/>
<rect x="1069" y="124" width="3" height="57" fill="#ff0000"/>
<rect x="1074" y="119" width="1" height="22" fill="#00ff00"/>
<rect x="1073" y="125" width="3" height="7" fill="#00ff00"/>
<rect x="1078" y="129" width="1" height="11" fill="#00ff00"/>
<rect x="1077" y="130" width="3" height="9" fill="#00ff00"/>
<rect x="1082" y="130" width="1" height="13" fill="#00ff00"/>
<rect x="1081" y="138" width="3" height="4" fill="#00ff00"/>
<rect x="1086" y="132" width="1" height="18" fill="#00ff00"/>
<rect x="1085" y="137" width="3" height="12" fill="#00ff00"/>
<rect x="1090" y="135" width="1" height="20" fill="#ff0000"/>
<rect x="1089" y="145" width="3" height="4" fill="#ff0000"/>
<rect x="1094" y="114" width="1" height="32" fill="#ff0000"/>
<rect x="1093" y="119" width="3" height="27" fill="#ff0000"/>
<rect x="1098" y="107" width="1" height="12" fill="#ff0000"/>
<rect x="1097" y="107" width="3" height="12" fill="#ff0000"/>
<rect x="1102" y="105" width="1" height="10" fill="#00ff00"/>
<rect x="1101" y="107" width="3" height="6" fill="#00ff00"/>
<rect x="1106" y="112" width="1" height="8" fill="#00ff00"/>
<rect x="1105" y="113" width="3" height="6" fill="#00ff00"/>
<rect x="1110" y="116" width="1" height="12" fill="#00ff00"/>
<rect x="1109" y="117" width="3" height="10" fill="#00ff00"/>
<rect x="1114" y="119" width="1" height="20" fill="#00ff00"/>
<rect x="1113" y="126" width="3" height="4" fill="#00ff00"/>
<rect x="1118" y="117" width="1" height="15" fill="#ff0000"/>
<rect x="1117" y="122" width="3" height="8" fill="#ff0000"/>
<rect x="1122" y="113" width="1" height="13" fill="#00ff00"/>
<rect x="1121" y="121" width="3" height="5" fill="#00ff00"/>
<rect x="1126" y="122" width="1" height="10" fill="#00ff00"/>
<rect x="1125" y="126" width="3" height="3" fill="#00ff00"/>
<rect x="1130" y="124" width="1" height="8" fill="#ff0000"/>
<rect x="1129" y="125" width="3" height="5" fill="#ff0000"/>
<rect x="1134" y="119" width="1" height="10" fill="#00ff00"/>
<rect x="1133" y="124" width="3" height="3" fill="#00ff00"/>
<rect x="1138" y="113" width="1" height="15" fill="#ff0000"/>
<rect x="1137" y="115" width="3" height="12" fill="#ff0000"/>
<rect x="1142" y="91" width="1" height="26" fill="#ff0000"/>
<rect x="1141" y="94" width="3" height="22" fill="#ff0000"/>
<rect x="1146" y="93" width="1" height="29" fill="#00ff00"/>
<rect x="1145" y="94" width="3" height="27" fill="#00ff00"/>
<rect x="1150" y="120" width="1" height="9" fill="#00ff00"/>
<rect x="1149" y="121" width="3" height="6" fill="#00ff00"/>
<rect x="1154" y="124" width="1" height="11" fill="#00ff00"/>
<rect x="1153" y="126" width="3" height="8" fill="#00ff00"/>
<rect x="1158" y="131" width="1" height="9" fill="#00ff00"/>
<rect x="1157" y="132" width="3" height="4" fill="#00ff00"/>
<rect x="1162" y="130" width="1" height="18" fill="#ff0000"/>
<rect x="1161" y="136" width="3" height="1" fill="#ff0000"/>
<rect x="1166" y="112" width="1" height="44" fill="#ff0000"/>
<rect x="1165" y="122" width="3" height="14" fill="#ff0000"/>
<rect x="1170" y="115" width="1" height="26" fill="#00ff00"/>
<rect x="1169" y="122" width="3" height="8" fill="#00ff00"/>
<rect x="1174" y="127" width="1" height="12" fill="#00ff00"/>
<rect x="1173" y="129" width="3" height="3" fill="#00ff00"/>
<rect x="1178" y="116" width="1" height="22" fill="#ff0000"/>
<rect x="1177" y="117" width="3" height="15" fill="#ff0000"/>
<rect x="1182" y="114" width="1" height="7" fill="#ff0000"/>
<rect x="1181" y="116" width="3" height="3" fill="#ff0000"/>
<rect x="1186" y="113" width="1" height="36" fill="#00ff00"/>
<rect x="1185" y="116" width="3" height="31" fill="#00ff00"/>
<rect x="1190" y="144" width="1" height="41" fill="#00ff00"/>
<rect x="1189" y="146" width="3" height="29" fill="#00ff00"/>
<rect x="1194" y="170" width="1" height="30" fill="#00ff00"/>
<rect x="1193" y="175" width="3" height="25" fill="#00ff00"/>
<rect x="1198" y="187" width="1" height="14" fill="#ff0000"/>
<rect x="1197" y="191" width="3" height="3" fill="#ff0000"/>
<rect x="1202" y="183" width="1" height="15" fill="#00ff00"/>
<rect x="1201" y="185" width="3" height="9" fill="#00ff00"/>
<rect x="1206" y="186" width="1" height="13" fill="#ff0000"/>
<rect x="1205" y="190" width="3" height="5" fill="#ff0000"/>
<rect x="1210" y="172" width="1" height="27" fill="#ff0000"/>
<rect x="1209" y="175" width="3" height="16" fill="#ff0000"/>
<rect x="1214" y="167" width="1" height="17" fill="#ff0000"/>
<rect x="1213" y="173" width="3" height="3" fill="#ff0000"/>
<rect x="1218" y="169" width="1" height="7" fill="#ff0000"/>
<rect x="1217" y="172" width="3" height="2" fill="#ff0000"/>
<rect x="1222" y="170" width="1" height="10" fill="#00ff00"/>
<rect x="1221" y="172" width="3" height="4" fill="#00ff00"/>
<rect x="1226" y="173" width="1" height="10" fill="#00ff00"/>
<rect x="1225" y="175" width="3" height="3" fill="#00ff00"/>
<rect x="1230" y="169" width="1" height="12" fill="#ff0000"/>
<rect x="1229" y="170" width="3" height="9" fill="#ff0000"/>
<rect x="1234" y="153" width="1" height="24" fill="#00ff00"/>
<rect x="1233" y="170" width="3" height="3" fill="#00ff00"/>
<rect x="1238" y="168" width="1" height="24" fill="#ff0000"/>
<rect x="1237" y="170" width="3" height="3" fill="#ff0000"/>
<rect x="1242" y="167" width="1" height="12" fill="#00ff00"/>
<rect x="1241" y="170" width="3" height="8" fill="#00ff00"/>
<rect x="1246" y="168" width="1" height="10" fill="#ff0000"/>
<rect x="1245" y="169" width="3" height="8" fill="#ff0000"/>
<rect x="1250" y="168" width="1" height="9" fill="#00ff00"/>
<rect x="1249" y="169" width="3" height="6" fill="#00ff00"/>
<rect x="1254" y="167" width="1" height="13" fill="#ff0000"/>
<rect x="1253" y="167" width="3" height="9" fill="#ff0000"/>
<rect x="1258" y="163" width="1" height="15" fill="#00ff00"/>
<rect x="1257" y="167" width="3" height="5" fill="#00ff00"/>
<rect x="1262" y="170" width="1" height="16" fill="#00ff00"/>
<rect x="1261" y="173" width="3" height="4" fill="#00ff00"/>
<rect x="1266" y="170" width="1" height="14" fill="#00ff00"/>
<rect x="1265" y="176" width="3" height="3" fill="#00ff00"/>
<rect x="1270" y="175" width="1" height="103" fill="#00ff00"/>
<rect x="1269" y="178" width="3" height="99" fill="#00ff00"/>
<rect x="1274" y="270" width="1" height="24" fill="#00ff00"/>
<rect x="1273" y="277" width="3" height="13" fill="#00ff00"/>
<rect x="1278" y="284" width="1" height="8" fill="#00ff00"/>
<rect x="1277" y="290" width="3" height="1" fill="#00ff00"/>
<g clip-path="url(#cm)">
<path d="M2,494h1v1h-1zM3,494h1v1h-1zM4,494h1v1h-1zM5,495h1v1h-1zM6,495h1v1h-1zM7,495h1v1h-1zM8,496h1v1h-1zM9,496h1v1h-1zM10,496h1v1h-1zM11,496h1v1h-1zM12,496h1v1h-1zM13,496h1v1h-1zM14,496h1v1h-1zM15,496h1v1h-1zM16,495h1v1h-1zM17,495h1v1h-1zM18,495h1v1h-1zM19,495h1v1h-1zM20,495h1v1h-1zM21,494h1v1h-1zM22,494h1v1h-1zM23,494h1v1h-1zM24,494h1v1h-1zM25,493h1v1h-1zM26,493h1v1h-1zM27,493h1v1h-1zM28,493h1v1h-1zM29,492h1v1h-1zM30,492h1v1h-1zM31,492h1v1h-1zM32,492h1v1h-1zM33,491h1v1h-1zM34,491h1v1h-1zM35,491h1v1h-1zM36,490h1v1h-1zM37,490h1v1h-1zM38,489h1v1h-1zM39,489h1v1h-1zM40,488h1v1h-1zM41,487h1v1h-1zM42,487h1v1h-1zM43,486h1v1h-1zM44,485h1v1h-1zM45,484h1v1h-1zM46,483h1v1h-1zM47,482h1v1h-1zM48,481h1v1h-1zM49,480h1v1h-1zM50,479h1v1h-1zM51,478h1v1h-1zM52,477h1v1h-1zM53,476h1v1h-1zM54,475h1v1h-1zM55,474h1v1h-1zM56,473h1v1h-1zM57,471h1v2h-1zM58,470h1v1h-1zM59,469h1v1h-1zM60,468h1v1h-1zM61,466h1v2h-1zM62,465h1v1h-1zM63,464h1v1h-1zM64,463h1v1h-1zM65,461h1v2h-1zM66,460h1v1h-1zM67,459h1v1h-1zM68,458h1v1h-1zM69,456h1v2h-1zM70,455h1v1h-1zM71,454h1v1h-1zM72,453h1v1h-1zM73,452h1v1h-1zM74,451h1v1h-1zM75,449h1v2h-1zM76,448h1v1h-1zM77,447h1v1h-1zM78,446h1v1h-1zM79,445h1v1h-1zM80,444h1v1h-1zM81,443h1v1h-1zM82,442h1v1h-1zM83,441h1v1h-1zM84,440h1v1h-1zM85,439h1v1h-1zM86,438h1v1h-1zM87,437h1v1h-1zM88,435h1v2h-1zM89,434h1v1h-1zM90,433h1v1h-1zM91,432h1v1h-1zM92,430h1v2h-1zM93,429h1v1h-1zM94,428h1v1h-1zM95,427h1v1h-1zM96,426h1v1h-1zM97,424h1v2h-1zM98,423h1v1h-1zM99,422h1v1h-1zM100,421h1v1h-1zM101,420h1v1h-1zM102,419h1v1h-1zM103,419h1v1h-1zM104,418h1v1h-1zM105,417h1v1h-1zM106,416h1v1h-1zM107,415h1v1h-1zM108,414h1v1h-1zM109,414h1v1h-1zM110,413h1v1h-1zM111,412h1v1h-1zM112,411h1v1h-1zM113,410h1v1h-1zM114,410h1v1h-1zM115,409h1v1h-1zM116,408h1v1h-1zM117,407h1v1h-1zM118,406h1v1h-1zM119,405h1v1h-1zM120,404h1v1h-1zM121,403h1v1h-1zM122,402h1v1h-1zM123,401h1v1h-1zM124,400h1v1h-1zM125,399h1v1h-1zM126,398h1v1h-1zM127,397h1v1h-1zM128,396h1v1h-1zM129,395h1v1h-1zM130,394h1v1h-1zM131,393h1v1h-1zM132,392h1v1h-1zM133,391h1v1h-1zM134,391h1v1h-1zM135,390h1v1h-1zM136,389h1v1h-1zM137,388h1v1h-1zM138,388h1v1h-1zM139,387h1v1h-1zM140,386h1v1h-1zM141,386h1v1h-1zM142,385h1v1h-1zM143,384h1v1h-1zM144,384h1v1h-1zM145,383h1v1h-1zM146,382h1v1h-1zM147,382h1v1h-1zM148,381h1v1h-1zM149,381h1v1h-1zM150,380h1v1h-1zM151,379h1v1h-1zM152,379h1v1h-1zM153,378h1v1h-1zM154,378h1v1h-1zM155,377h1v1h-1zM156,376h1v1h-1zM157,376h1v1h-1zM158,375h1v1h-1zM159,374h1v1h-1zM160,374h1v1h-1zM161,373h1v1h-1zM162,372h1v1h-1zM163,372h1v1h-1zM164,371h1v1h-1zM165,371h1v1h-1zM166,370h1v1h-1zM167,369h1v1h-1zM168,369h1v1h-1zM169,368h1v1h-1zM170,367h1v1h-1zM171,367h1v1h-1zM172,366h1v1h-1zM173,365h1v1h-1zM174,365h1v1h-1zM175,364h1v1h-1zM176,364h1v1h-1zM177,363h1v1h-1zM178,363h1v1h-1zM179,362h1v1h-1zM180,362h1v1h-1zM181,361h1v1h-1zM182,361h1v1h-1zM183,360h1v1h-1zM184,359h1v1h-1zM185,359h1v1h-1zM186,358h1v1h-1zM187,357h1v1h-1zM188,357h1v1h-1zM189,356h1v1h-1zM190,355h1v1h-1zM191,354h1v1h-1zM192,353h1v1h-1zM193,353h1v1h-1zM194,352h1v1h-1zM195,351h1v1h-1zM196,350h1v1h-1zM197,350h1v1h-1zM198,349h1v1h-1zM199,348h1v1h-1zM200,347h1v1h-1zM201,347h1v1h-1zM202,346h1v1h-1zM203,345h1v1h-1zM204,345h1v1h-1zM205,344h1v1h-1zM206,344h1v1h-1zM207,343h1v1h-1zM208,343h1v1h-1zM209,343h1v1h-1zM210,342h1v1h-1zM211,342h1v1h-1zM212,341h1v1h-1zM213,341h1v1h-1zM214,340h1v1h-1zM215,340h1v1h-1zM216,340h1v1h-1zM217,339h1v1h-1zM218,339h1v1h-1zM219,338h1v1h-1zM220,338h1v1h-1zM221,337h1v1h-1zM222,337h1v1h-1zM223,336h1v1h-1zM224,336h1v1h-1zM225,335h1v1h-1zM226,334h1v1h-1zM227,334h1v1h-1zM228,333h1v1h-1zM229,332h1v1h-1zM230,331h1v1h-1zM231,331h1v1h-1zM232,330h1v1h-1zM233,330h1v1h-1zM234,329h1v1h-1zM235,329h1v1h-1zM236,328h1v1h-1zM237,328h1v1h-1zM238,327h1v1h-1zM239,327h1v1h-1zM240,326h1v1h-1zM241,326h1v1h-1zM242,325h1v1h-1zM243,325h1v1h-1zM244,324h1v1h-1zM245,323h1v1h-1zM246,323h1v1h-1zM247,322h1v1h-1zM248,321h1v1h-1zM249,320h1v1h-1zM250,319h1v1h-1zM251,318h1v1h-1zM252,317h1v1h-1zM253,316h1v1h-1zM254,315h1v1h-1zM255,314h1v1h-1zM256,314h1v1h-1zM257,313h1v1h-1zM258,312h1v1h-1zM259,311h1v1h-1zM260,310h1v1h-1zM261,309h1v1h-1zM262,308h1v1h-1zM263,307h1v1h-1zM264,306h1v1h-1zM265,305h1v1h-1zM266,304h1v1h-1zM267,303h1v1h-1zM268,301h1v2h-1zM269,300h1v1h-1zM270,299h1v1h-1zM271,298h1v1h-1zM272,297h1v1h-1zM273,295h1v2h-1zM274,294h1v1h-1zM275,294h1v1h-1zM276,293h1v1h-1zM277,292h1v1h-1zM278,291h1v1h-1zM279,291h1v1h-1zM280,290h1v1h-1zM281,289h1v1h-1zM282,288h1v1h-1zM283,288h1v1h-1zM284,287h1v1h-1zM285,287h1v1h-1zM286,286h1v1h-1zM287,286h1v1h-1zM288,285h1v1h-1zM289,284h1v1h-1zM290,284h1v1h-1zM291,283h1v1h-1zM292,283h1v1h-1zM293,282h1v1h-1zM294,282h1v1h-1zM295,282h1v1h-1zM296,281h1v1h-1zM297,281h1v1h-1zM298,281h1v1h-1zM299,280h1v1h-1zM300,280h1v1h-1zM301,280h1v1h-1zM302,279h1v1h-1zM303,279h1v1h-1zM304,278h1v1h-1zM305,278h1v1h-1zM306,277h1v1h-1zM307,277h1v1h-1zM308,277h1v1h-1zM309,276h1v1h-1zM310,276h1v1h-1zM311,275h1v1h-1zM312,275h1v1h-1zM313,274h1v1h-1zM314,274h1v1h-1zM315,273h1v1h-1zM316,273h1v1h-1zM317,273h1v1h-1zM318,272h1v1h-1zM319,272h1v1h-1zM320,271h1v1h-1zM321,271h1v1h-1zM322,270h1v1h-1zM323,270h1v1h-1zM324,269h1v1h-1zM325,269h1v1h-1zM326,268h1v1h-1zM327,268h1v1h-1zM328,268h1v1h-1zM329,267h1v1h-1zM330,267h1v1h-1zM331,267h1v1h-1zM332,266h1v1h-1zM333,266h1v1h-1zM334,266h1v1h-1zM335,265h1v1h-1zM336,265h1v1h-1zM337,264h1v1h-1zM338,264h1v1h-1zM339,263h1v1h-1zM340,263h1v1h-1zM341,262h1v1h-1zM342,262h1v1h-1zM343,261h1v1h-1zM344,261h1v1h-1zM345,260h1v1h-1zM346,260h1v1h-1zM347,259h1v1h-1zM348,259h1v1h-1zM349,258h1v1h-1zM350,257h1v1h-1zM351,257h1v1h-1zM352,256h1v1h-1zM353,255h1v1h-1zM354,255h1v1h-1zM355,254h1v1h-1zM356,253h1v1h-1zM357,252h1v1h-1zM358,251h1v1h-1zM359,250h1v1h-1zM360,249h1v1h-1zM361,248h1v1h-1zM362,247h1v1h-1zM363,246h1v1h-1zM364,245h1v1h-1zM365,244h1v1h-1zM366,243h1v1h-1zM367,243h1v1h-1zM368,243h1v1h-1zM369,242h1v1h-1zM370,242h1v1h-1zM371,241h1v1h-1zM372,241h1v1h-1zM373,241h1v1h-1zM374,240h1v1h-1zM375,240h1v1h-1zM376,239h1v1h-1zM377,239h1v1h-1zM378,239h1v1h-1zM379,238h1v1h-1zM380,238h1v1h-1zM381,237h1v1h-1zM382,237h1v1h-1zM383,237h1v1h-1zM384,237h1v1h-1zM385,236h1v1h-1zM386,236h1v1h-1zM387,236h1v1h-1zM388,236h1v1h-1zM389,236h1v1h-1zM390,236h1v1h-1zM391,236h1v1h-1zM392,236h1v1h-1zM393,236h1v1h-1zM394,236h1v1h-1zM395,235h1v1h-1zM396,235h1v1h-1zM397,235h1v1h-1zM398,234h1v1h-1zM399,234h1v1h-1zM400,234h1v1h-1zM401,234h1v1h-1zM402,234h1v1h-1zM403,233h1v1h-1zM404,233h1v1h-1zM405,232h1v1h-1zM406,232h1v1h-1zM407,232h1v1h-1zM408,231h1v1h-1zM409,231h1v1h-1zM410,231h1v1h-1zM411,230h1v1h-1zM412,230h1v1h-1zM413,230h1v1h-1zM414,230h1v1h-1zM415,229h1v1h-1zM416,229h1v1h-1zM417,228h1v1h-1zM418,228h1v1h-1zM419,227h1v1h-1zM420,227h1v1h-1zM421,226h1v1h-1zM422,226h1v1h-1zM423,226h1v1h-1zM424,225h1v1h-1zM425,225h1v1h-1zM426,224h1v1h-1zM427,224h1v1h-1zM428,223h1v1h-1zM429,222h1v1h-1zM430,221h1v1h-1zM431,221h1v1h-1zM432,220h1v1h-1zM433,219h1v1h-1zM434,218h1v1h-1zM435,218h1v1h-1zM436,217h1v1h-1zM437,216h1v1h-1zM438,216h1v1h-1zM439,215h1v1h-1zM440,214h1v1h-1zM441,214h1v1h-1zM442,213h1v1h-1zM443,213h1v1h-1zM444,212h1v1h-1zM445,212h1v1h-1zM446,211h1v1h-1zM447,210h1v1h-1zM448,210h1v1h-1zM449,209h1v1h-1zM450,208h1v1h-1zM451,207h1v1h-1zM452,207h1v1h-1zM453,206h1v1h-1zM454,205h1v1h-1zM455,204h1v1h-1zM456,204h1v1h-1zM457,203h1v1h-1zM458,202h1v1h-1zM459,202h1v1h-1zM460,201h1v1h-1zM461,200h1v1h-1zM462,200h1v1h-1zM463,199h1v1h-1zM464,199h1v1h-1zM465,199h1v1h-1zM466,199h1v1h-1zM467,198h1v1h-1zM468,198h1v1h-1zM469,198h1v1h-1zM470,198h1v1h-1zM471,198h1v1h-1zM472,199h1v1h-1zM473,199h1v1h-1zM474,199h1v1h-1zM475,200h1v1h-1zM476,200h1v1h-1zM477,201h1v1h-1zM478,201h1v1h-1zM479,202h1v1h-1zM480,203h1v1h-1zM481,204h1v1h-1zM482,204h1v1h-1zM483,205h1v1h-1zM484,205h1v1h-1zM485,205h1v1h-1zM486,206h1v1h-1zM487,206h1v1h-1zM488,206h1v1h-1zM489,207h1v1h-1zM490,207h1v1h-1zM491,207h1v1h-1zM492,207h1v1h-1zM493,207h1v1h-1zM494,207h1v1h-1zM495,207h1v1h-1zM496,207h1v1h-1zM497,207h1v1h-1zM498,208h1v1h-1zM499,208h1v1h-1zM500,208h1v1h-1zM501,208h1v1h-1zM502,208h1v1h-1zM503,209h1v1h-1zM504,209h1v1h-1zM505,209h1v1h-1zM506,209h1v1h-1zM507,209h1v1h-1zM508,210h1v1h-1zM509,210h1v1h-1zM510,210h1v1h-1zM511,211h1v1h-1zM512,211h1v1h-1zM513,212h1v1h-1zM514,212h1v1h-1zM515,212h1v1h-1zM516,213h1v1h-1zM517,213h1v1h-1zM518,214h1v1h-1zM519,214h1v1h-1zM520,215h1v1h-1zM521,215h1v1h-1zM522,216h1v1h-1zM523,216h1v1h-1zM524,217h1v1h-1zM525,217h1v1h-1zM526,218h1v1h-1zM527,218h1v1h-1zM528,218h1v1h-1zM529,219h1v1h-1zM530,219h1v1h-1zM531,220h1v1h-1zM532,220h1v1h-1zM533,221h1v1h-1zM534,221h1v1h-1zM535,221h1v1h-1zM536,222h1v1h-1zM537,222h1v1h-1zM538,223h1v1h-1zM539,223h1v1h-1zM540,224h1v1h-1zM541,224h1v1h-1zM542,225h1v1h-1zM543,226h1v1h-1zM544,226h1v1h-1zM545,227h1v1h-1zM546,228h1v1h-1zM547,229h1v1h-1zM548,230h1v1h-1zM549,230h1v1h-1zM550,231h1v1h-1zM551,232h1v1h-1zM552,233h1v1h-1zM553,234h1v1h-1zM554,235h1v1h-1zM555,236h1v1h-1zM556,237h1v1h-1zM557,238h1v1h-1zM558,239h1v1h-1zM559,239h1v1h-1zM560,240h1v1h-1zM561,241h1v1h-1zM562,241h1v1h-1zM563,241h1v1h-1zM564,242h1v1h-1zM565,242h1v1h-1zM566,242h1v1h-1zM567,243h1v1h-1zM568,243h1v1h-1zM569,244h1v1h-1zM570,244h1v1h-1zM571,245h1v1h-1zM572,245h1v1h-1zM573,246h1v1h-1zM574,246h1v1h-1zM575,247h1v1h-1zM576,247h1v1h-1zM577,247h1v1h-1zM578,248h1v1h-1zM579,248h1v1h-1zM580,249h1v1h-1zM581,249h1v1h-1zM582,249h1v1h-1zM583,249h1v1h-1zM584,250h1v1h-1zM585,250h1v1h-1zM586,250h1v1h-1zM587,249h1v1h-1zM588,249h1v1h-1zM589,249h1v1h-1zM590,248h1v1h-1zM591,247h1v1h-1zM592,246h1v1h-1zM593,245h1v1h-1zM594,244h1v1h-1zM595,243h1v1h-1zM596,242h1v1h-1zM597,241h1v1h-1zM598,240h1v1h-1zM599,239h1v1h-1zM600,238h1v1h-1zM601,237h1v1h-1zM602,236h1v1h-1zM603,236h1v1h-1zM604,235h1v1h-1zM605,234h1v1h-1zM606,233h1v1h-1zM607,232h1v1h-1zM608,231h1v1h-1zM609,231h1v1h-1zM610,230h1v1h-1zM611,229h1v1h-1zM612,229h1v1h-1zM613,228h1v1h-1zM614,227h1v1h-1zM615,227h1v1h-1zM616,226h1v1h-1zM617,225h1v1h-1zM618,224h1v1h-1zM619,224h1v1h-1zM620,223h1v1h-1zM621,222h1v1h-1zM622,222h1v1h-1zM623,221h1v1h-1zM624,221h1v1h-1zM625,220h1v1h-1zM626,219h1v1h-1zM627,219h1v1h-1zM628,218h1v1h-1zM629,217h1v1h-1zM630,216h1v1h-1zM631,215h1v1h-1zM632,214h1v1h-1zM633,213h1v1h-1zM634,212h1v1h-1zM635,210h1v2h-1zM636,209h1v1h-1zM637,208h1v1h-1zM638,207h1v1h-1zM639,206h1v1h-1zM640,205h1v1h-1zM641,204h1v1h-1zM642,203h1v1h-1zM643,202h1v1h-1zM644,201h1v1h-1zM645,200h1v1h-1zM646,199h1v1h-1zM647,198h1v1h-1zM648,197h1v1h-1zM649,197h1v1h-1zM650,196h1v1h-1zM651,195h1v1h-1zM652,194h1v1h-1zM653,193h1v1h-1zM654,193h1v1h-1zM655,192h1v1h-1zM656,191h1v1h-1zM657,190h1v1h-1zM658,189h1v1h-1zM659,188h1v1h-1zM660,187h1v1h-1zM661,187h1v1h-1zM662,186h1v1h-1zM663,185h1v1h-1zM664,185h1v1h-1zM665,184h1v1h-1zM666,184h1v1h-1zM667,183h1v1h-1zM668,183h1v1h-1zM669,182h1v1h-1zM670,182h1v1h-1zM671,181h1v1h-1zM672,180h1v1h-1zM673,180h1v1h-1zM674,179h1v1h-1zM675,179h1v1h-1zM676,178h1v1h-1zM677,178h1v1h-1zM678,177h1v1h-1zM679,177h1v1h-1zM680,177h1v1h-1zM681,177h1v1h-1zM682,177h1v1h-1zM683,177h1v1h-1zM684,176h1v1h-1zM685,176h1v1h-1zM686,176h1v1h-1zM687,176h1v1h-1zM688,176h1v1h-1zM689,175h1v1h-1zM690,175h1v1h-1zM691,175h1v1h-1zM692,175h1v1h-1zM693,175h1v1h-1zM694,175h1v1h-1zM695,174h1v1h-1zM696,174h1v1h-1zM697,174h1v1h-1zM698,174h1v1h-1zM699,174h1v1h-1zM700,174h1v1h-1zM701,173h1v1h-1zM702,173h1v1h-1zM703,173h1v1h-1zM704,173h1v1h-1zM705,172h1v1h-1zM706,172h1v1h-1zM707,172h1v1h-1zM708,172h1v1h-1zM709,172h1v1h-1zM710,172h1v1h-1zM711,172h1v1h-1zM712,172h1v1h-1zM713,172h1v1h-1zM714,172h1v1h-1zM715,173h1v1h-1zM716,173h1v1h-1zM717,173h1v1h-1zM718,173h1v1h-1zM719,173h1v1h-1zM720,173h1v1h-1zM721,173h1v1h-1zM722,173h1v1h-1zM723,174h1v1h-1zM724,174h1v1h-1zM725,174h1v1h-1zM726,174h1v1h-1zM727,174h1v1h-1zM728,174h1v1h-1zM729,174h1v1h-1zM730,174h1v1h-1zM731,174h1v1h-1zM732,174h1v1h-1zM733,174h1v1h-1zM734,174h1v1h-1zM735,174h1v1h-1zM736,175h1v1h-1zM737,175h1v1h-1zM738,175h1v1h-1zM739,175h1v1h-1zM740,175h1v1h-1zM741,174h1v1h-1zM742,174h1v1h-1zM743,174h1v1h-1zM744,174h1v1h-1zM745,174h1v1h-1zM746,173h1v1h-1zM747,173h1v1h-1zM748,173h1v1h-1zM749,173h1v1h-1zM750,173h1v1h-1zM751,172h1v1h-1zM752,172h1v1h-1zM753,172h1v1h-1zM754,171h1v1h-1zM755,171h1v1h-1zM756,171h1v1h-1zM757,170h1v1h-1zM758,170h1v1h-1zM759,170h1v1h-1zM760,170h1v1h-1zM761,169h1v1h-1zM762,169h1v1h-1zM763,169h1v1h-1zM764,168h1v1h-1zM765,167h1v1h-1zM766,167h1v1h-1zM767,166h1v1h-1zM768,166h1v1h-1zM769,165h1v1h-1zM770,164h1v1h-1zM771,163h1v1h-1zM772,163h1v1h-1zM773,162h1v1h-1zM774,161h1v1h-1zM775,160h1v1h-1zM776,160h1v1h-1zM777,159h1v1h-1zM778,159h1v1h-1zM779,158h1v1h-1zM780,157h1v1h-1zM781,156h1v1h-1zM782,155h1v1h-1zM783,154h1v1h-1zM784,153h1v1h-1zM785,152h1v1h-1zM786,151h1v1h-1zM787,150h1v1h-1zM788,150h1v1h-1zM789,149h1v1h-1zM790,148h1v1h-1zM791,148h1v1h-1zM792,147h1v1h-1zM793,146h1v1h-1zM794,146h1v1h-1zM795,145h1v1h-1zM796,144h1v1h-1zM797,143h1v1h-1zM798,143h1v1h-1zM799,142h1v1h-1zM800,141h1v1h-1zM801,140h1v1h-1zM802,139h1v1h-1zM803,138h1v1h-1zM804,137h1v1h-1zM805,136h1v1h-1zM806,135h1v1h-1zM807,134h1v1h-1zM808,133h1v1h-1zM809,132h1v1h-1zM810,131h1v1h-1zM811,130h1v1h-1zM812,129h1v1h-1zM813,128h1v1h-1zM814,127h1v1h-1zM815,126h1v1h-1zM816,124h1v2h-1zM817,123h1v1h-1zM818,122h1v1h-1zM819,121h1v1h-1zM820,120h1v1h-1zM821,119h1v1h-1zM822,118h1v1h-1zM823,118h1v1h-1zM824,117h1v1h-1zM825,116h1v1h-1zM826,115h1v1h-1zM827,115h1v1h-1zM828,114h1v1h-1zM829,114h1v1h-1zM830,114h1v1h-1zM831,114h1v1h-1zM832,113h1v1h-1zM833,113h1v1h-1zM834,113h1v1h-1zM835,112h1v1h-1zM836,112h1v1h-1zM837,112h1v1h-1zM838,112h1v1h-1zM839,111h1v1h-1zM840,111h1v1h-1zM841,111h1v1h-1zM842,110h1v1h-1zM843,110h1v1h-1zM844,110h1v1h-1zM845,109h1v1h-1zM846,109h1v1h-1zM847,109h1v1h-1zM848,108h1v1h-1zM849,108h1v1h-1zM850,108h1v1h-1zM851,107h1v1h-1zM852,107h1v1h-1zM853,106h1v1h-1zM854,106h1v1h-1zM855,105h1v1h-1zM856,105h1v1h-1zM857,104h1v1h-1zM858,104h1v1h-1zM859,104h1v1h-1zM860,103h1v1h-1zM861,103h1v1h-1zM862,102h1v1h-1zM863,102h1v1h-1zM864,102h1v1h-1zM865,101h1v1h-1zM866,101h1v1h-1zM867,100h1v1h-1zM868,100h1v1h-1zM869,100h1v1h-1zM870,99h1v1h-1zM871,99h1v1h-1zM872,99h1v1h-1zM873,98h1v1h-1zM874,98h1v1h-1zM875,98h1v1h-1zM876,98h1v1h-1zM877,97h1v1h-1zM878,97h1v1h-1zM879,97h1v1h-1zM880,97h1v1h-1zM881,96h1v1h-1zM882,96h1v1h-1zM883,96h1v1h-1zM884,96h1v1h-1zM885,96h1v1h-1zM886,96h1v1h-1zM887,95h1v1h-1zM888,95h1v1h-1zM889,95h1v1h-1zM890,95h1v1h-1zM891,95h1v1h-1zM892,95h1v1h-1zM893,95h1v1h-1zM894,94h1v1h-1zM895,94h1v1h-1zM896,94h1v1h-1zM897,94h1v1h-1zM898,94h1v1h-1zM899,94h1v1h-1zM900,94h1v1h-1zM901,94h1v1h-1zM902,94h1v1h-1zM903,94h1v1h-1zM904,94h1v1h-1zM905,94h1v1h-1zM906,94h1v1h-1zM907,94h1v1h-1zM908,94h1v1h-1zM909,93h1v1h-1zM910,93h1v1h-1zM911,93h1v1h-1zM912,93h1v1h-1zM913,93h1v1h-1zM914,93h1v1h-1zM915,93h1v1h-1zM916,93h1v1h-1zM917,93h1v1h-1zM918,93h1v1h-1zM919,93h1v1h-1zM920,93h1v1h-1zM921,93h1v1h-1zM922,93h1v1h-1zM923,93h1v1h-1zM924,93h1v1h-1zM925,93h1v1h-1zM926,93h1v1h-1zM927,94h1v1h-1zM928,94h1v1h-1zM929,94h1v1h-1zM930,94h1v1h-1zM931,95h1v1h-1zM932,95h1v1h-1zM933,95h1v1h-1zM934,95h1v1h-1zM935,96h1v1h-1zM936,96h1v1h-1zM937,96h1v1h-1zM938,97h1v1h-1zM939,97h1v1h-1zM940,97h1v1h-1zM941,98h1v1h-1zM942,98h1v1h-1zM943,99h1v1h-1zM944,99h1v1h-1zM945,99h1v1h-1zM946,99h1v1h-1zM947,100h1v1h-1zM948,100h1v1h-1zM949,100h1v1h-1zM950,100h1v1h-1zM951,100h1v1h-1zM952,100h1v1h-1zM953,100h1v1h-1zM954,100h1v1h-1zM955,99h1v1h-1zM956,99h1v1h-1zM957,99h1v1h-1zM958,99h1v1h-1zM959,99h1v1h-1zM960,99h1v1h-1zM961,99h1v1h-1zM962,98h1v1h-1zM963,98h1v1h-1zM964,98h1v1h-1zM965,98h1v1h-1zM966,98h1v1h-1zM967,99h1v1h-1zM968,99h1v1h-1zM969,99h1v1h-1zM970,99h1v1h-1zM971,99h1v1h-1zM972,99h1v1h-1zM973,99h1v1h-1zM974,99h1v1h-1zM975,99h1v1h-1zM976,98h1v1h-1zM977,98h1v1h-1zM978,98h1v1h-1zM979,98h1v1h-1zM980,98h1v1h-1zM981,98h1v1h-1zM982,98h1v1h-1zM983,98h1v1h-1zM984,98h1v1h-1zM985,98h1v1h-1zM986,98h1v1h-1zM987,98h1v1h-1zM988,97h1v1h-1zM989,97h1v1h-1zM990,97h1v1h-1zM991,98h1v1h-1zM992,98h1v1h-1zM993,98h1v1h-1zM994,98h1v1h-1zM995,98h1v1h-1zM996,98h1v1h-1zM997,98h1v1h-1zM998,98h1v1h-1zM999,98h1v1h-1zM1000,98h1v1h-1zM1001,98h1v1h-1zM1002,98h1v1h-1zM1003,98h1v1h-1zM1004,98h1v1h-1zM1005,99h1v1h-1zM1006,99h1v1h-1zM1007,99h1v1h-1zM1008,99h1v1h-1zM1009,99h1v1h-1zM1010,99h1v1h-1zM1011,100h1v1h-1zM1012,100h1v1h-1zM1013,100h1v1h-1zM1014,101h1v1h-1zM1015,101h1v1h-1zM1016,102h1v1h-1zM1017,102h1v1h-1zM1018,102h1v1h-1zM1019,103h1v1h-1zM1020,103h1v1h-1zM1021,103h1v1h-1zM1022,103h1v1h-1zM1023,103h1v1h-1zM1024,103h1v1h-1zM1025,103h1v1h-1zM1026,103h1v1h-1zM1027,103h1v1h-1zM1028,103h1v1h-1zM1029,102h1v1h-1zM1030,102h1v1h-1zM1031,102h1v1h-1zM1032,102h1v1h-1zM1033,102h1v1h-1zM1034,102h1v1h-1zM1035,102h1v1h-1zM1036,102h1v1h-1zM1037,102h1v1h-1zM1038,102h1v1h-1zM1039,102h1v1h-1zM1040,102h1v1h-1zM1041,102h1v1h-1zM1042,102h1v1h-1zM1043,102h1v1h-1zM1044,102h1v1h-1zM1045,103h1v1h-1zM1046,103h1v1h-1zM1047,104h1v1h-1zM1048,104h1v1h-1zM1049,105h1v1h-1zM1050,105h1v1h-1zM1051,106h1v1h-1zM1052,106h1v1h-1zM1053,107h1v1h-1zM1054,107h1v1h-1zM1055,108h1v1h-1zM1056,108h1v1h-1zM1057,109h1v1h-1zM1058,109h1v1h-1zM1059,109h1v1h-1zM1060,110h1v1h-1zM1061,110h1v1h-1zM1062,111h1v1h-1zM1063,111h1v1h-1zM1064,112h1v1h-1zM1065,112h1v1h-1zM1066,113h1v1h-1zM1067,113h1v1h-1zM1068,113h1v1h-1zM1069,113h1v1h-1zM1070,113h1v1h-1zM1071,113h1v1h-1zM1072,113h1v1h-1zM1073,113h1v1h-1zM1074,113h1v1h-1zM1075,113h1v1h-1zM1076,114h1v1h-1zM1077,114h1v1h-1zM1078,114h1v1h-1zM1079,114h1v1h-1zM1080,115h1v1h-1zM1081,115h1v1h-1zM1082,115h1v1h-1zM1083,116h1v1h-1zM1084,116h1v1h-1zM1085,116h1v1h-1zM1086,116h1v1h-1zM1087,117h1v1h-1zM1088,117h1v1h-1zM1089,117h1v1h-1zM1090,118h1v1h-1zM1091,118h1v1h-1zM1092,118h1v1h-1zM1093,118h1v1h-1zM1094,119h1v1h-1zM1095,119h1v1h-1zM1096,119h1v1h-1zM1097,119h1v1h-1zM1098,120h1v1h-1zM1099,120h1v1h-1zM1100,120h1v1h-1zM1101,120h1v1h-1zM1102,121h1v1h-1zM1103,121h1v1h-1zM1104,121h1v1h-1zM1105,122h1v1h-1zM1106,122h1v1h-1zM1107,122h1v1h-1zM1108,123h1v1h-1zM1109,123h1v1h-1zM1110,123h1v1h-1zM1111,124h1v1h-1zM1112,124h1v1h-1zM1113,125h1v1h-1zM1114,125h1v1h-1zM1115,125h1v1h-1zM1116,126h1v1h-1zM1117,126h1v1h-1zM1118,127h1v1h-1zM1119,127h1v1h-1zM1120,128h1v1h-1zM1121,128h1v1h-1zM1122,128h1v1h-1zM1123,129h1v1h-1zM1124,129h1v1h-1zM1125,129h1v1h-1zM1126,130h1v1h-1zM1127,130h1v1h-1zM1128,130h1v1h-1zM1129,131h1v1h-1zM1130,131h1v1h-1zM1131,131h1v1h-1zM1132,132h1v1h-1zM1133,132h1v1h-1zM1134,132h1v1h-1zM1135,132h1v1h-1zM1136,132h1v1h-1zM1137,132h1v1h-1zM1138,132h1v1h-1zM1139,132h1v1h-1zM1140,132h1v1h-1zM1141,132h1v1h-1zM1142,132h1v1h-1zM1143,132h1v1h-1zM1144,132h1v1h-1zM1145,132h1v1h-1zM1146,132h1v1h-1zM1147,133h1v1h-1zM1148,133h1v1h-1zM1149,133h1v1h-1zM1150,133h1v1h-1zM1151,134h1v1h-1zM1152,134h1v1h-1zM1153,134h1v1h-1zM1154,134h1v1h-1zM1155,135h1v1h-1zM1156,135h1v1h-1zM1157,135h1v1h-1zM1158,135h1v1h-1zM1159,135h1v1h-1zM1160,136h1v1h-1zM1161,136h1v1h-1zM1162,136h1v1h-1zM1163,136h1v1h-1zM1164,135h1v1h-1zM1165,135h1v1h-1zM1166,135h1v1h-1zM1167,134h1v1h-1zM1168,134h1v1h-1zM1169,134h1v1h-1zM1170,133h1v1h-1zM1171,133h1v1h-1zM1172,133h1v1h-1zM1173,132h1v1h-1zM1174,132h1v1h-1zM1175,132h1v1h-1zM1176,131h1v1h-1zM1177,131h1v1h-1zM1178,130h1v1h-1zM1179,130h1v1h-1zM1180,129h1v1h-1zM1181,128h1v1h-1zM1182,128h1v1h-1zM1183,128h1v1h-1zM1184,127h1v1h-1zM1185,127h1v1h-1zM1186,127h1v1h-1zM1187,127h1v1h-1zM1188,128h1v1h-1zM1189,128h1v1h-1zM1190,128h1v1h-1zM1191,129h1v1h-1zM1192,130h1v1h-1zM1193,130h1v1h-1zM1194,131h1v1h-1zM1195,131h1v1h-1zM1196,132h1v1h-1zM1197,132h1v1h-1zM1198,132h1v1h-1zM1199,133h1v1h-1zM1200,133h1v1h-1zM1201,134h1v1h-1zM1202,134h1v1h-1zM1203,135h1v1h-1zM1204,135h1v1h-1zM1205,135h1v1h-1zM1206,136h1v1h-1zM1207,136h1v1h-1zM1208,136h1v1h-1zM1209,136h1v1h-1zM1210,137h1v1h-1zM1211,137h1v1h-1zM1212,137h1v1h-1zM1213,138h1v1h-1zM1214,138h1v1h-1zM1215,139h1v1h-1zM1216,139h1v1h-1zM1217,140h1v1h-1zM1218,141h1v1h-1zM1219,141h1v1h-1zM1220,142h1v1h-1zM1221,142h1v1h-1zM1222,143h1v1h-1zM1223,143h1v1h-1zM1224,144h1v1h-1zM1225,144h1v1h-1zM1226,145h1v1h-1zM1227,145h1v1h-1zM1228,145h1v1h-1zM1229,146h1v1h-1zM1230,146h1v1h-1zM1231,146h1v1h-1zM1232,147h1v1h-1zM1233,147h1v1h-1zM1234,147h1v1h-1zM1235,148h1v1h-1zM1236,148h1v1h-1zM1237,149h1v1h-1zM1238,149h1v1h-1zM1239,149h1v1h-1zM1240,150h1v1h-1zM1241,150h1v1h-1zM1242,151h1v1h-1zM1243,151h1v1h-1zM1244,151h1v1h-1zM1245,152h1v1h-1zM1246,152h1v1h-1zM1247,153h1v1h-1zM1248,153h1v1h-1zM1249,153h1v1h-1zM1250,154h1v1h-1zM1251,154h1v1h-1zM1252,154h1v1h-1zM1253,155h1v1h-1zM1254,155h1v1h-1zM1255,156h1v1h-1zM1256,156h1v1h-1zM1257,157h1v1h-1zM1258,157h1v1h-1zM1259,158h1v1h-1zM1260,158h1v1h-1zM1261,159h1v1h-1zM1262,160h1v1h-1zM1263,160h1v1h-1zM1264,161h1v1h-1zM1265,161h1v1h-1zM1266,162h1v1h-1zM1267,163h1v1h-1zM1268,164h1v1h-1zM1269,165h1v2h-1zM1270,167h1v1h-1zM1271,168h1v1h-1zM1272,169h1v2h-1zM1273,171h1v1h-1zM1274,172h1v1h-1zM1275,173h1v1h-1zM1276,174h1v2h-1zM1277,176h1v1h-1zM1278,177h1v1h-1z" fill="#0000cd"/>
<path d="M2,501h1v1h-1zM3,500h1v1h-1zM4,500h1v1h-1zM5,499h1v1h-1zM6,498h1v1h-1zM7,497h1v1h-1zM8,497h1v1h-1zM9,496h1v1h-1zM10,495h1v1h-1zM11,494h1v1h-1zM12,492h1v2h-1zM13,491h1v1h-1zM14,490h1v1h-1zM15,488h1v2h-1zM16,487h1v1h-1zM17,486h1v1h-1zM18,485h1v1h-1zM19,484h1v1h-1zM20,483h1v1h-1zM21,482h1v1h-1zM22,481h1v1h-1zM23,480h1v1h-1zM24,479h1v1h-1zM25,478h1v1h-1zM26,476h1v2h-1zM27,475h1v1h-1zM28,474h1v1h-1zM29,473h1v1h-1zM30,472h1v1h-1zM31,471h1v1h-1zM32,470h1v1h-1zM33,469h1v1h-1zM34,467h1v2h-1zM35,466h1v1h-1zM36,465h1v1h-1zM37,463h1v2h-1zM38,462h1v1h-1zM39,461h1v1h-1zM40,460h1v1h-1zM41,458h1v2h-1zM42,457h1v1h-1zM43,456h1v1h-1zM44,454h1v2h-1zM45,453h1v1h-1zM46,451h1v2h-1zM47,450h1v1h-1zM48,448h1v2h-1zM49,447h1v1h-1zM50,445h1v2h-1zM51,443h1v2h-1zM52,442h1v1h-1zM53,440h1v2h-1zM54,438h1v2h-1zM55,436h1v2h-1zM56,435h1v1h-1zM57,433h1v2h-1zM58,431h1v2h-1zM59,428h1v3h-1zM60,426h1v2h-1zM61,424h1v2h-1zM62,422h1v2h-1zM63,420h1v2h-1zM64,418h1v2h-1zM65,415h1v3h-1zM66,414h1v1h-1zM67,413h1v1h-1zM68,412h1v1h-1zM69,411h1v1h-1zM70,410h1v1h-1zM71,409h1v1h-1zM72,408h1v1h-1zM73,407h1v1h-1zM74,407h1v1h-1zM75,406h1v1h-1zM76,405h1v1h-1zM77,404h1v1h-1zM78,403h1v1h-1zM79,402h1v1h-1zM80,401h1v1h-1zM81,400h1v1h-1zM82,399h1v1h-1zM83,398h1v1h-1zM84,396h1v2h-1zM85,395h1v1h-1zM86,394h1v1h-1zM87,392h1v2h-1zM88,391h1v1h-1zM89,389h1v2h-1zM90,388h1v1h-1zM91,387h1v1h-1zM92,386h1v1h-1zM93,385h1v1h-1zM94,384h1v1h-1zM95,383h1v1h-1zM96,382h1v1h-1zM97,381h1v1h-1zM98,380h1v1h-1zM99,380h1v1h-1zM100,380h1v1h-1zM101,379h1v1h-1zM102,379h1v1h-1zM103,379h1v1h-1zM104,379h1v1h-1zM105,378h1v1h-1zM106,378h1v1h-1zM107,378h1v1h-1zM108,378h1v1h-1zM109,378h1v1h-1zM110,378h1v1h-1zM111,377h1v1h-1zM112,377h1v1h-1zM113,377h1v1h-1zM114,377h1v1h-1zM115,377h1v1h-1zM116,377h1v1h-1zM117,376h1v1h-1zM118,376h1v1h-1zM119,376h1v1h-1zM120,376h1v1h-1zM121,376h1v1h-1zM122,376h1v1h-1zM123,376h1v1h-1zM124,376h1v1h-1zM125,376h1v1h-1zM126,376h1v1h-1zM127,375h1v1h-1zM128,374h1v1h-1zM129,373h1v1h-1zM130,373h1v1h-1zM131,372h1v1h-1zM132,372h1v1h-1zM133,371h1v1h-1zM134,371h1v1h-1zM135,370h1v1h-1zM136,370h1v1h-1zM137,369h1v1h-1zM138,368h1v1h-1zM139,368h1v1h-1zM140,368h1v1h-1zM141,368h1v1h-1zM142,368h1v1h-1zM143,368h1v1h-1zM144,368h1v1h-1zM145,368h1v1h-1zM146,368h1v1h-1zM147,368h1v1h-1zM148,368h1v1h-1zM149,369h1v1h-1zM150,369h1v1h-1zM151,369h1v1h-1zM152,369h1v1h-1zM153,370h1v1h-1zM154,370h1v1h-1zM155,369h1v1h-1zM156,368h1v1h-1zM157,368h1v1h-1zM158,367h1v1h-1zM159,366h1v1h-1zM160,366h1v1h-1zM161,365h1v1h-1zM162,364h1v1h-1zM163,363h1v1h-1zM164,362h1v1h-1zM165,360h1v2h-1zM166,359h1v1h-1zM167,358h1v1h-1zM168,358h1v1h-1zM169,357h1v1h-1zM170,356h1v1h-1zM171,355h1v1h-1zM172,354h1v1h-1zM173,353h1v1h-1zM174,352h1v1h-1zM175,351h1v1h-1zM176,350h1v1h-1zM177,349h1v1h-1zM178,347h1v2h-1zM179,346h1v1h-1zM180,345h1v1h-1zM181,344h1v1h-1zM182,342h1v2h-1zM183,341h1v1h-1zM184,340h1v1h-1zM185,339h1v1h-1zM186,338h1v1h-1zM187,337h1v1h-1zM188,336h1v1h-1zM189,335h1v1h-1zM190,334h1v1h-1zM191,333h1v1h-1zM192,332h1v1h-1zM193,331h1v1h-1zM194,330h1v1h-1zM195,329h1v1h-1zM196,328h1v1h-1zM197,326h1v2h-1zM198,325h1v1h-1zM199,324h1v1h-1zM200,323h1v1h-1zM201,322h1v1h-1zM202,321h1v1h-1zM203,320h1v1h-1zM204,319h1v1h-1zM205,317h1v2h-1zM206,316h1v1h-1zM207,315h1v1h-1zM208,314h1v1h-1zM209,313h1v1h-1zM210,312h1v1h-1zM211,312h1v1h-1zM212,311h1v1h-1zM213,311h1v1h-1zM214,310h1v1h-1zM215,310h1v1h-1zM216,309h1v1h-1zM217,309h1v1h-1zM218,309h1v1h-1zM219,309h1v1h-1zM220,309h1v1h-1zM221,308h1v1h-1zM222,308h1v1h-1zM223,308h1v1h-1zM224,308h1v1h-1zM225,307h1v1h-1zM226,307h1v1h-1zM227,307h1v1h-1zM228,306h1v1h-1zM229,306h1v1h-1zM230,306h1v1h-1zM231,306h1v1h-1zM232,305h1v1h-1zM233,305h1v1h-1zM234,305h1v1h-1zM235,305h1v1h-1zM236,304h1v1h-1zM237,304h1v1h-1zM238,304h1v1h-1zM239,304h1v1h-1zM240,305h1v1h-1zM241,305h1v1h-1zM242,306h1v1h-1zM243,306h1v1h-1zM244,306h1v1h-1zM245,306h1v1h-1zM246,306h1v1h-1zM247,305h1v1h-1zM248,304h1v1h-1zM249,303h1v1h-1zM250,302h1v1h-1zM251,301h1v1h-1zM252,300h1v1h-1zM253,299h1v1h-1zM254,299h1v1h-1zM255,298h1v1h-1zM256,297h1v1h-1zM257,296h1v1h-1zM258,295h1v2h-1zM259,294h1v1h-1zM260,293h1v1h-1zM261,292h1v1h-1zM262,291h1v1h-1zM263,289h1v2h-1zM264,288h1v1h-1zM265,287h1v1h-1zM266,285h1v2h-1zM267,284h1v1h-1zM268,283h1v1h-1zM269,281h1v2h-1zM270,280h1v1h-1zM271,278h1v2h-1zM272,277h1v1h-1zM273,275h1v2h-1zM274,274h1v1h-1zM275,273h1v1h-1zM276,272h1v1h-1zM277,271h1v1h-1zM278,270h1v1h-1zM279,269h1v1h-1zM280,268h1v1h-1zM281,267h1v1h-1zM282,266h1v1h-1zM283,265h1v1h-1zM284,264h1v1h-1zM285,263h1v1h-1zM286,262h1v1h-1zM287,261h1v1h-1zM288,260h1v1h-1zM289,259h1v1h-1zM290,258h1v1h-1zM291,258h1v1h-1zM292,257h1v1h-1zM293,256h1v1h-1zM294,255h1v1h-1zM295,254h1v1h-1zM296,253h1v1h-1zM297,253h1v1h-1zM298,252h1v1h-1zM299,251h1v1h-1zM300,251h1v1h-1zM301,250h1v1h-1zM302,250h1v1h-1zM303,250h1v1h-1zM304,250h1v1h-1zM305,250h1v1h-1zM306,250h1v1h-1zM307,250h1v1h-1zM308,250h1v1h-1zM309,249h1v1h-1zM310,249h1v1h-1zM311,249h1v1h-1zM312,249h1v1h-1zM313,248h1v1h-1zM314,248h1v1h-1zM315,248h1v1h-1zM316,248h1v1h-1zM317,248h1v1h-1zM318,249h1v1h-1zM319,249h1v1h-1zM320,249h1v1h-1zM321,249h1v1h-1zM322,249h1v1h-1zM323,249h1v1h-1zM324,250h1v1h-1zM325,250h1v1h-1zM326,251h1v1h-1zM327,251h1v1h-1zM328,252h1v1h-1zM329,253h1v1h-1zM330,253h1v1h-1zM331,254h1v1h-1zM332,254h1v1h-1zM333,255h1v1h-1zM334,255h1v1h-1zM335,256h1v1h-1zM336,256h1v1h-1zM337,256h1v1h-1zM338,256h1v1h-1zM339,256h1v1h-1zM340,257h1v1h-1zM341,257h1v1h-1zM342,257h1v1h-1zM343,256h1v1h-1zM344,256h1v1h-1zM345,256h1v1h-1zM346,255h1v1h-1zM347,255h1v1h-1zM348,254h1v1h-1zM349,254h1v1h-1zM350,253h1v1h-1zM351,252h1v1h-1zM352,251h1v1h-1zM353,250h1v1h-1zM354,249h1v1h-1zM355,248h1v1h-1zM356,247h1v1h-1zM357,245h1v2h-1zM358,244h1v1h-1zM359,243h1v1h-1zM360,242h1v1h-1zM361,241h1v1h-1zM362,240h1v1h-1zM363,239h1v1h-1zM364,238h1v1h-1zM365,237h1v1h-1zM366,236h1v1h-1zM367,235h1v1h-1zM368,235h1v1h-1zM369,234h1v1h-1zM370,233h1v1h-1zM371,232h1v1h-1zM372,232h1v1h-1zM373,231h1v1h-1zM374,230h1v1h-1zM375,229h1v1h-1zM376,229h1v1h-1zM377,228h1v1h-1zM378,228h1v1h-1zM379,227h1v1h-1zM380,226h1v1h-1zM381,225h1v1h-1zM382,224h1v1h-1zM383,223h1v1h-1zM384,222h1v1h-1zM385,221h1v1h-1zM386,220h1v1h-1zM387,219h1v1h-1zM388,218h1v1h-1zM389,217h1v1h-1zM390,216h1v1h-1zM391,216h1v1h-1zM392,215h1v1h-1zM393,215h1v1h-1zM394,214h1v1h-1zM395,213h1v1h-1zM396,212h1v1h-1zM397,211h1v1h-1zM398,211h1v1h-1zM399,210h1v1h-1zM400,210h1v1h-1zM401,210h1v1h-1zM402,209h1v1h-1zM403,209h1v1h-1zM404,208h1v1h-1zM405,208h1v1h-1zM406,208h1v1h-1zM407,207h1v1h-1zM408,207h1v1h-1zM409,207h1v1h-1zM410,207h1v1h-1zM411,207h1v1h-1zM412,208h1v1h-1zM413,208h1v1h-1zM414,208h1v1h-1zM415,209h1v1h-1zM416,210h1v1h-1zM417,211h1v1h-1zM418,211h1v1h-1zM419,212h1v1h-1zM420,212h1v1h-1zM421,212h1v1h-1zM422,213h1v1h-1zM423,212h1v1h-1zM424,212h1v1h-1zM425,212h1v1h-1zM426,212h1v1h-1zM427,211h1v1h-1zM428,211h1v1h-1zM429,210h1v1h-1zM430,209h1v1h-1zM431,208h1v1h-1zM432,207h1v1h-1zM433,206h1v1h-1zM434,205h1v1h-1zM435,205h1v1h-1zM436,204h1v1h-1zM437,203h1v1h-1zM438,203h1v1h-1zM439,202h1v1h-1zM440,201h1v1h-1zM441,200h1v1h-1zM442,199h1v1h-1zM443,199h1v1h-1zM444,199h1v1h-1zM445,198h1v1h-1zM446,198h1v1h-1zM447,197h1v1h-1zM448,196h1v1h-1zM449,196h1v1h-1zM450,195h1v1h-1zM451,194h1v1h-1zM452,193h1v1h-1zM453,193h1v1h-1zM454,192h1v1h-1zM455,191h1v1h-1zM456,191h1v1h-1zM457,190h1v1h-1zM458,189h1v1h-1zM459,189h1v1h-1zM460,188h1v1h-1zM461,188h1v1h-1zM462,188h1v1h-1zM463,187h1v1h-1zM464,187h1v1h-1zM465,187h1v1h-1zM466,187h1v1h-1zM467,186h1v1h-1zM468,186h1v1h-1zM469,186h1v1h-1zM470,186h1v1h-1zM471,187h1v1h-1zM472,187h1v1h-1zM473,188h1v1h-1zM474,189h1v1h-1zM475,189h1v1h-1zM476,190h1v1h-1zM477,191h1v1h-1zM478,192h1v1h-1zM479,193h1v1h-1zM480,194h1v1h-1zM481,195h1v2h-1zM482,197h1v1h-1zM483,198h1v2h-1zM484,200h1v1h-1zM485,201h1v1h-1zM486,202h1v2h-1zM487,204h1v1h-1zM488,205h1v2h-1zM489,207h1v1h-1zM490,208h1v1h-1zM491,209h1v1h-1zM492,210h1v1h-1zM493,211h1v1h-1zM494,211h1v1h-1zM495,212h1v1h-1zM496,213h1v1h-1zM497,214h1v2h-1zM498,216h1v1h-1zM499,216h1v1h-1zM500,217h1v1h-1zM501,217h1v1h-1zM502,218h1v1h-1zM503,219h1v1h-1zM504,220h1v1h-1zM505,221h1v1h-1zM506,222h1v1h-1zM507,223h1v2h-1zM508,225h1v1h-1zM509,226h1v2h-1zM510,228h1v2h-1zM511,230h1v1h-1zM512,231h1v2h-1zM513,233h1v2h-1zM514,235h1v1h-1zM515,236h1v2h-1zM516,238h1v1h-1zM517,239h1v2h-1zM518,241h1v1h-1zM519,242h1v1h-1zM520,243h1v1h-1zM521,244h1v2h-1zM522,246h1v1h-1zM523,247h1v1h-1zM524,247h1v1h-1zM525,248h1v1h-1zM526,249h1v1h-1zM527,249h1v1h-1zM528,250h1v1h-1zM529,250h1v1h-1zM530,250h1v1h-1zM531,250h1v1h-1zM532,250h1v1h-1zM533,250h1v1h-1zM534,250h1v1h-1zM535,251h1v1h-1zM536,251h1v1h-1zM537,251h1v1h-1zM538,251h1v1h-1zM539,252h1v1h-1zM540,252h1v1h-1zM541,253h1v1h-1zM542,254h1v1h-1zM543,255h1v1h-1zM544,255h1v1h-1zM545,256h1v1h-1zM546,257h1v1h-1zM547,258h1v1h-1zM548,259h1v1h-1zM549,260h1v1h-1zM550,261h1v1h-1zM551,262h1v1h-1zM552,263h1v1h-1zM553,264h1v1h-1zM554,264h1v1h-1zM555,265h1v1h-1zM556,266h1v1h-1zM557,267h1v1h-1zM558,268h1v1h-1zM559,268h1v1h-1zM560,268h1v1h-1zM561,268h1v1h-1zM562,268h1v1h-1zM563,268h1v1h-1zM564,267h1v1h-1zM565,267h1v1h-1zM566,266h1v1h-1zM567,266h1v1h-1zM568,265h1v1h-1zM569,264h1v1h-1zM570,264h1v1h-1zM571,263h1v1h-1zM572,263h1v1h-1zM573,262h1v1h-1zM574,261h1v1h-1zM575,261h1v1h-1zM576,260h1v1h-1zM577,259h1v1h-1zM578,258h1v1h-1zM579,257h1v1h-1zM580,257h1v1h-1zM581,256h1v1h-1zM582,255h1v1h-1zM583,254h1v1h-1zM584,254h1v1h-1zM585,253h1v1h-1zM586,251h1v2h-1zM587,249h1v2h-1zM588,248h1v1h-1zM589,246h1v2h-1zM590,243h1v3h-1zM591,241h1v2h-1zM592,238h1v3h-1zM593,236h1v2h-1zM594,233h1v3h-1zM595,231h1v2h-1zM596,228h1v3h-1zM597,226h1v2h-1zM598,223h1v3h-1zM599,221h1v2h-1zM600,219h1v2h-1zM601,216h1v3h-1zM602,214h1v2h-1zM603,212h1v2h-1zM604,209h1v3h-1zM605,207h1v2h-1zM606,204h1v3h-1zM607,202h1v2h-1zM608,200h1v2h-1zM609,197h1v3h-1zM610,195h1v2h-1zM611,192h1v3h-1zM612,190h1v2h-1zM613,188h1v2h-1zM614,186h1v2h-1zM615,184h1v2h-1zM616,182h1v2h-1zM617,180h1v2h-1zM618,179h1v1h-1zM619,178h1v1h-1zM620,176h1v2h-1zM621,175h1v1h-1zM622,174h1v1h-1zM623,172h1v2h-1zM624,171h1v1h-1zM625,170h1v1h-1zM626,168h1v2h-1zM627,167h1v1h-1zM628,166h1v1h-1zM629,165h1v1h-1zM630,163h1v2h-1zM631,162h1v1h-1zM632,160h1v2h-1zM633,159h1v1h-1zM634,157h1v2h-1zM635,155h1v2h-1zM636,153h1v2h-1zM637,152h1v1h-1zM638,150h1v2h-1zM639,149h1v1h-1zM640,148h1v1h-1zM641,146h1v2h-1zM642,145h1v1h-1zM643,145h1v1h-1zM644,144h1v1h-1zM645,144h1v1h-1zM646,143h1v1h-1zM647,144h1v1h-1zM648,144h1v1h-1zM649,145h1v1h-1zM650,145h1v1h-1zM651,146h1v1h-1zM652,147h1v1h-1zM653,147h1v1h-1zM654,148h1v1h-1zM655,148h1v1h-1zM656,149h1v1h-1zM657,149h1v1h-1zM658,149h1v1h-1zM659,150h1v1h-1zM660,151h1v1h-1zM661,152h1v1h-1zM662,153h1v1h-1zM663,154h1v2h-1zM664,156h1v1h-1zM665,157h1v1h-1zM666,158h1v2h-1zM667,160h1v1h-1zM668,161h1v1h-1zM669,162h1v1h-1zM670,163h1v2h-1zM671,165h1v1h-1zM672,166h1v1h-1zM673,167h1v2h-1zM674,169h1v1h-1zM675,170h1v1h-1zM676,171h1v1h-1zM677,172h1v1h-1zM678,173h1v1h-1zM679,174h1v1h-1zM680,175h1v1h-1zM681,176h1v1h-1zM682,177h1v1h-1zM683,178h1v1h-1zM684,179h1v1h-1zM685,179h1v1h-1zM686,180h1v1h-1zM687,181h1v2h-1zM688,183h1v1h-1zM689,184h1v2h-1zM690,186h1v1h-1zM691,187h1v1h-1zM692,188h1v2h-1zM693,190h1v1h-1zM694,191h1v1h-1zM695,192h1v2h-1zM696,194h1v1h-1zM697,195h1v2h-1zM698,197h1v1h-1zM699,197h1v1h-1zM700,198h1v1h-1zM701,199h1v1h-1zM702,200h1v1h-1zM703,200h1v1h-1zM704,200h1v1h-1zM705,201h1v1h-1zM706,201h1v1h-1zM707,201h1v1h-1zM708,201h1v1h-1zM709,200h1v1h-1zM710,200h1v1h-1zM711,200h1v1h-1zM712,200h1v1h-1zM713,200h1v1h-1zM714,200h1v1h-1zM715,199h1v1h-1zM716,198h1v1h-1zM717,198h1v1h-1zM718,197h1v1h-1zM719,196h1v1h-1zM720,195h1v1h-1zM721,194h1v1h-1zM722,193h1v1h-1zM723,192h1v1h-1zM724,191h1v1h-1zM725,190h1v1h-1zM726,189h1v2h-1zM727,188h1v1h-1zM728,187h1v1h-1zM729,186h1v1h-1zM730,184h1v2h-1zM731,183h1v1h-1zM732,182h1v1h-1zM733,181h1v1h-1zM734,180h1v1h-1zM735,178h1v2h-1zM736,177h1v1h-1zM737,175h1v2h-1zM738,174h1v1h-1zM739,174h1v1h-1zM740,173h1v1h-1zM741,172h1v1h-1zM742,170h1v2h-1zM743,169h1v1h-1zM744,167h1v2h-1zM745,166h1v1h-1zM746,165h1v1h-1zM747,163h1v2h-1zM748,162h1v1h-1zM749,161h1v1h-1zM750,159h1v2h-1zM751,157h1v2h-1zM752,154h1v3h-1zM753,152h1v2h-1zM754,151h1v1h-1zM755,149h1v2h-1zM756,147h1v2h-1zM757,145h1v2h-1zM758,144h1v1h-1zM759,142h1v2h-1zM760,141h1v1h-1zM761,140h1v1h-1zM762,138h1v2h-1zM763,137h1v1h-1zM764,136h1v1h-1zM765,134h1v2h-1zM766,133h1v1h-1zM767,132h1v1h-1zM768,130h1v2h-1zM769,129h1v1h-1zM770,128h1v1h-1zM771,126h1v2h-1zM772,125h1v1h-1zM773,123h1v2h-1zM774,122h1v1h-1zM775,121h1v1h-1zM776,120h1v1h-1zM777,119h1v1h-1zM778,117h1v2h-1zM779,116h1v1h-1zM780,115h1v1h-1zM781,113h1v2h-1zM782,112h1v1h-1zM783,111h1v1h-1zM784,111h1v1h-1zM785,110h1v1h-1zM786,109h1v1h-1zM787,109h1v1h-1zM788,108h1v1h-1zM789,108h1v1h-1zM790,108h1v1h-1zM791,107h1v1h-1zM792,107h1v1h-1zM793,106h1v1h-1zM794,106h1v1h-1zM795,106h1v1h-1zM796,105h1v1h-1zM797,105h1v1h-1zM798,105h1v1h-1zM799,104h1v1h-1zM800,104h1v1h-1zM801,103h1v1h-1zM802,103h1v1h-1zM803,102h1v1h-1zM804,101h1v1h-1zM805,101h1v1h-1zM806,100h1v1h-1zM807,100h1v1h-1zM808,100h1v1h-1zM809,99h1v1h-1zM810,99h1v1h-1zM811,99h1v1h-1zM812,99h1v1h-1zM813,99h1v1h-1zM814,98h1v1h-1zM815,98h1v1h-1zM816,97h1v1h-1zM817,97h1v1h-1zM818,96h1v1h-1zM819,96h1v1h-1zM820,96h1v1h-1zM821,96h1v1h-1zM822,96h1v1h-1zM823,96h1v1h-1zM824,96h1v1h-1zM825,96h1v1h-1zM826,96h1v1h-1zM827,97h1v1h-1zM828,97h1v1h-1zM829,98h1v1h-1zM830,99h1v1h-1zM831,100h1v1h-1zM832,100h1v1h-1zM833,101h1v1h-1zM834,101h1v1h-1zM835,102h1v1h-1zM836,103h1v1h-1zM837,103h1v1h-1zM838,104h1v1h-1zM839,105h1v1h-1zM840,105h1v1h-1zM841,106h1v1h-1zM842,106h1v1h-1zM843,106h1v1h-1zM844,106h1v1h-1zM845,106h1v1h-1zM846,105h1v1h-1zM847,105h1v1h-1zM848,104h1v1h-1zM849,104h1v1h-1zM850,103h1v1h-1zM851,103h1v1h-1zM852,102h1v1h-1zM853,101h1v1h-1zM854,101h1v1h-1zM855,101h1v1h-1zM856,101h1v1h-1zM857,101h1v1h-1zM858,100h1v1h-1zM859,100h1v1h-1zM860,100h1v1h-1zM861,100h1v1h-1zM862,100h1v1h-1zM863,100h1v1h-1zM864,100h1v1h-1zM865,100h1v1h-1zM866,100h1v1h-1zM867,100h1v1h-1zM868,100h1v1h-1zM869,100h1v1h-1zM870,101h1v1h-1zM871,100h1v1h-1zM872,100h1v1h-1zM873,99h1v1h-1zM874,99h1v1h-1zM875,99h1v1h-1zM876,99h1v1h-1zM877,98h1v1h-1zM878,98h1v1h-1zM879,98h1v1h-1zM880,98h1v1h-1zM881,98h1v1h-1zM882,98h1v1h-1zM883,97h1v1h-1zM884,96h1v1h-1zM885,95h1v1h-1zM886,94h1v1h-1zM887,93h1v1h-1zM888,92h1v1h-1zM889,91h1v1h-1zM890,90h1v1h-1zM891,89h1v1h-1zM892,88h1v1h-1zM893,86h1v2h-1zM894,85h1v1h-1zM895,84h1v1h-1zM896,83h1v1h-1zM897,82h1v1h-1zM898,81h1v1h-1zM899,81h1v1h-1zM900,80h1v1h-1zM901,80h1v1h-1zM902,79h1v1h-1zM903,79h1v1h-1zM904,79h1v1h-1zM905,80h1v1h-1zM906,80h1v1h-1zM907,80h1v1h-1zM908,80h1v1h-1zM909,81h1v1h-1zM910,81h1v1h-1zM911,82h1v1h-1zM912,82h1v1h-1zM913,82h1v1h-1zM914,83h1v1h-1zM915,83h1v1h-1zM916,83h1v1h-1zM917,84h1v1h-1zM918,84h1v1h-1zM919,84h1v1h-1zM920,85h1v1h-1zM921,85h1v1h-1zM922,86h1v1h-1zM923,86h1v1h-1zM924,87h1v1h-1zM925,87h1v1h-1zM926,88h1v1h-1zM927,89h1v1h-1zM928,90h1v1h-1zM929,90h1v1h-1zM930,91h1v1h-1zM931,92h1v1h-1zM932,93h1v1h-1zM933,94h1v1h-1zM934,94h1v1h-1zM935,95h1v1h-1zM936,96h1v1h-1zM937,97h1v1h-1zM938,98h1v1h-1zM939,99h1v1h-1zM940,100h1v1h-1zM941,101h1v1h-1zM942,102h1v1h-1zM943,103h1v1h-1zM944,104h1v1h-1zM945,105h1v1h-1zM946,106h1v1h-1zM947,107h1v1h-1zM948,108h1v2h-1zM949,110h1v1h-1zM950,111h1v1h-1zM951,112h1v1h-1zM952,113h1v1h-1zM953,113h1v1h-1zM954,114h1v1h-1zM955,115h1v1h-1zM956,115h1v1h-1zM957,116h1v1h-1zM958,116h1v1h-1zM959,116h1v1h-1zM960,116h1v1h-1zM961,116h1v1h-1zM962,116h1v1h-1zM963,116h1v1h-1zM964,116h1v1h-1zM965,116h1v1h-1zM966,116h1v1h-1zM967,116h1v1h-1zM968,116h1v1h-1zM969,116h1v1h-1zM970,116h1v1h-1zM971,115h1v1h-1zM972,115h1v1h-1zM973,114h1v1h-1zM974,114h1v1h-1zM975,113h1v1h-1zM976,113h1v1h-1zM977,112h1v1h-1zM978,111h1v1h-1zM979,111h1v1h-1zM980,110h1v1h-1zM981,110h1v1h-1zM982,110h1v1h-1zM983,109h1v1h-1zM984,108h1v1h-1zM985,108h1v1h-1zM986,107h1v1h-1zM987,107h1v1h-1zM988,106h1v1h-1zM989,106h1v1h-1zM990,105h1v1h-1zM991,105h1v1h-1zM992,104h1v1h-1zM993,103h1v1h-1zM994,102h1v1h-1zM995,101h1v1h-1zM996,100h1v1h-1zM997,99h1v1h-1zM998,98h1v1h-1zM999,98h1v1h-1zM1000,97h1v1h-1zM1001,96h1v1h-1zM1002,95h1v1h-1zM1003,94h1v1h-1zM1004,93h1v1h-1zM1005,92h1v1h-1zM1006,92h1v1h-1zM1007,91h1v1h-1zM1008,91h1v1h-1zM1009,90h1v1h-1zM1010,90h1v1h-1zM1011,90h1v1h-1zM1012,89h1v1h-1zM1013,89h1v1h-1zM1014,89h1v1h-1zM1015,89h1v1h-1zM1016,89h1v1h-1zM1017,90h1v1h-1zM1018,90h1v1h-1zM1019,90h1v1h-1zM1020,90h1v1h-1zM1021,89h1v1h-1zM1022,89h1v1h-1zM1023,89h1v1h-1zM1024,88h1v1h-1zM1025,88h1v1h-1zM1026,88h1v1h-1zM1027,88h1v1h-1zM1028,88h1v1h-1zM1029,89h1v1h-1zM1030,89h1v1h-1zM1031,89h1v1h-1zM1032,90h1v1h-1zM1033,90h1v1h-1zM1034,90h1v1h-1zM1035,91h1v1h-1zM1036,91h1v1h-1zM1037,92h1v1h-1zM1038,92h1v1h-1zM1039,93h1v1h-1zM1040,94h1v1h-1zM1041,94h1v1h-1zM1042,95h1v1h-1zM1043,96h1v1h-1zM1044,97h1v2h-1zM1045,99h1v1h-1zM1046,100h1v2h-1zM1047,102h1v1h-1zM1048,103h1v2h-1zM1049,105h1v2h-1zM1050,107h1v2h-1zM1051,109h1v1h-1zM1052,110h1v2h-1zM1053,112h1v2h-1zM1054,114h1v1h-1zM1055,115h1v2h-1zM1056,117h1v2h-1zM1057,119h1v2h-1zM1058,121h1v2h-1zM1059,123h1v1h-1zM1060,124h1v2h-1zM1061,126h1v2h-1zM1062,128h1v2h-1zM1063,130h1v1h-1zM1064,131h1v2h-1zM1065,133h1v1h-1zM1066,134h1v1h-1zM1067,135h1v1h-1zM1068,135h1v1h-1zM1069,136h1v1h-1zM1070,136h1v1h-1zM1071,137h1v1h-1zM1072,137h1v1h-1zM1073,137h1v1h-1zM1074,137h1v1h-1zM1075,138h1v1h-1zM1076,138h1v1h-1zM1077,139h1v1h-1zM1078,140h1v1h-1zM1079,141h1v1h-1zM1080,141h1v1h-1zM1081,142h1v1h-1zM1082,143h1v1h-1zM1083,144h1v1h-1zM1084,145h1v1h-1zM1085,146h1v1h-1zM1086,147h1v1h-1zM1087,147h1v1h-1zM1088,148h1v1h-1zM1089,149h1v1h-1zM1090,150h1v1h-1zM1091,150h1v1h-1zM1092,150h1v1h-1zM1093,150h1v1h-1zM1094,150h1v1h-1zM1095,150h1v1h-1zM1096,150h1v1h-1zM1097,150h1v1h-1zM1098,150h1v1h-1zM1099,149h1v1h-1zM1100,148h1v1h-1zM1101,148h1v1h-1zM1102,147h1v1h-1zM1103,146h1v1h-1zM1104,145h1v1h-1zM1105,144h1v1h-1zM1106,143h1v1h-1zM1107,142h1v1h-1zM1108,141h1v1h-1zM1109,141h1v1h-1zM1110,140h1v1h-1zM1111,139h1v1h-1zM1112,138h1v1h-1zM1113,137h1v1h-1zM1114,136h1v2h-1zM1115,135h1v1h-1zM1116,134h1v1h-1zM1117,133h1v1h-1zM1118,132h1v1h-1zM1119,131h1v1h-1zM1120,130h1v1h-1zM1121,129h1v1h-1zM1122,128h1v1h-1zM1123,128h1v1h-1zM1124,128h1v1h-1zM1125,128h1v1h-1zM1126,129h1v1h-1zM1127,128h1v1h-1zM1128,128h1v1h-1zM1129,128h1v1h-1zM1130,128h1v1h-1zM1131,128h1v1h-1zM1132,128h1v1h-1zM1133,127h1v1h-1zM1134,127h1v1h-1zM1135,127h1v1h-1zM1136,126h1v1h-1zM1137,126h1v1h-1zM1138,125h1v1h-1zM1139,124h1v1h-1zM1140,123h1v1h-1zM1141,122h1v1h-1zM1142,121h1v1h-1zM1143,121h1v1h-1zM1144,120h1v1h-1zM1145,120h1v1h-1zM1146,120h1v1h-1zM1147,120h1v1h-1zM1148,120h1v1h-1zM1149,120h1v1h-1zM1150,120h1v1h-1zM1151,121h1v1h-1zM1152,121h1v1h-1zM1153,122h1v1h-1zM1154,122h1v1h-1zM1155,122h1v1h-1zM1156,123h1v1h-1zM1157,123h1v1h-1zM1158,124h1v1h-1zM1159,124h1v1h-1zM1160,124h1v1h-1zM1161,125h1v1h-1zM1162,125h1v1h-1zM1163,125h1v1h-1zM1164,125h1v1h-1zM1165,125h1v1h-1zM1166,125h1v1h-1zM1167,125h1v1h-1zM1168,125h1v1h-1zM1169,125h1v1h-1zM1170,125h1v1h-1zM1171,125h1v1h-1zM1172,125h1v1h-1zM1173,125h1v1h-1zM1174,125h1v1h-1zM1175,125h1v1h-1zM1176,125h1v1h-1zM1177,125h1v1h-1zM1178,125h1v1h-1zM1179,124h1v1h-1zM1180,124h1v1h-1zM1181,124h1v1h-1zM1182,124h1v1h-1zM1183,124h1v1h-1zM1184,125h1v1h-1zM1185,125h1v1h-1zM1186,125h1v1h-1zM1187,126h1v1h-1zM1188,127h1v1h-1zM1189,128h1v1h-1zM1190,129h1v1h-1zM1191,130h1v2h-1zM1192,132h1v1h-1zM1193,133h1v2h-1zM1194,135h1v2h-1zM1195,137h1v1h-1zM1196,138h1v2h-1zM1197,140h1v2h-1zM1198,142h1v1h-1zM1199,143h1v1h-1zM1200,144h1v2h-1zM1201,146h1v1h-1zM1202,147h1v1h-1zM1203,148h1v1h-1zM1204,149h1v1h-1zM1205,150h1v1h-1zM1206,151h1v1h-1zM1207,152h1v1h-1zM1208,153h1v1h-1zM1209,154h1v1h-1zM1210,154h1v1h-1zM1211,155h1v1h-1zM1212,156h1v1h-1zM1213,156h1v1h-1zM1214,157h1v1h-1zM1215,158h1v1h-1zM1216,158h1v1h-1zM1217,159h1v1h-1zM1218,160h1v1h-1zM1219,161h1v1h-1zM1220,162h1v1h-1zM1221,162h1v1h-1zM1222,163h1v1h-1zM1223,164h1v1h-1zM1224,165h1v1h-1zM1225,166h1v1h-1zM1226,167h1v1h-1zM1227,168h1v1h-1zM1228,168h1v1h-1zM1229,169h1v1h-1zM1230,170h1v1h-1zM1231,171h1v1h-1zM1232,172h1v1h-1zM1233,173h1v1h-1zM1234,174h1v1h-1zM1235,175h1v1h-1zM1236,175h1v1h-1zM1237,176h1v1h-1zM1238,177h1v1h-1zM1239,178h1v1h-1zM1240,179h1v1h-1zM1241,179h1v1h-1zM1242,180h1v1h-1zM1243,180h1v1h-1zM1244,179h1v1h-1zM1245,179h1v1h-1zM1246,179h1v1h-1zM1247,179h1v1h-1zM1248,178h1v1h-1zM1249,178h1v1h-1zM1250,177h1v1h-1zM1251,177h1v1h-1zM1252,177h1v1h-1zM1253,176h1v1h-1zM1254,176h1v1h-1zM1255,175h1v1h-1zM1256,175h1v1h-1zM1257,175h1v1h-1zM1258,174h1v1h-1zM1259,174h1v1h-1zM1260,174h1v1h-1zM1261,173h1v1h-1zM1262,173h1v1h-1zM1263,173h1v1h-1zM1264,173h1v1h-1zM1265,173h1v1h-1zM1266,173h1v2h-1zM1267,175h1v2h-1zM1268,177h1v2h-1zM1269,179h1v2h-1zM1270,181h1v2h-1zM1271,183h1v2h-1zM1272,185h1v2h-1zM1273,187h1v2h-1zM1274,189h1v2h-1zM1275,191h1v2h-1zM1276,193h1v3h-1zM1277,196h1v2h-1zM1278,198h1v1h-1z" fill="#ff0000"/>
<path d="M2,478h1v1h-1zM3,479h1v1h-1zM4,480h1v1h-1zM5,481h1v1h-1zM6,481h1v2h-1zM7,483h1v1h-1zM8,484h1v2h-1zM9,486h1v1h-1zM10,487h1v1h-1zM11,486h1v1h-1zM12,485h1v1h-1zM13,484h1v1h-1zM14,482h1v2h-1zM15,480h1v2h-1zM16,478h1v2h-1zM17,475h1v3h-1zM18,474h1v1h-1zM19,472h1v2h-1zM20,470h1v2h-1zM21,468h1v2h-1zM22,465h1v3h-1zM23,463h1v2h-1zM24,460h1v3h-1zM25,457h1v3h-1zM26,455h1v2h-1zM27,452h1v3h-1zM28,450h1v2h-1zM29,447h1v3h-1zM30,446h1v1h-1zM31,446h1v1h-1zM32,445h1v1h-1zM33,444h1v1h-1zM34,444h1v1h-1zM35,442h1v2h-1zM36,441h1v1h-1zM37,440h1v1h-1zM38,438h1v2h-1zM39,436h1v2h-1zM40,435h1v1h-1zM41,433h1v2h-1zM42,430h1v3h-1zM43,428h1v2h-1zM44,425h1v3h-1zM45,422h1v3h-1zM46,419h1v3h-1zM47,417h1v2h-1zM48,414h1v3h-1zM49,411h1v3h-1zM50,409h1v2h-1zM51,406h1v3h-1zM52,403h1v3h-1zM53,401h1v2h-1zM54,399h1v2h-1zM55,397h1v2h-1zM56,395h1v2h-1zM57,393h1v2h-1zM58,391h1v2h-1zM59,389h1v2h-1zM60,388h1v1h-1zM61,386h1v2h-1zM62,385h1v1h-1zM63,384h1v1h-1zM64,383h1v1h-1zM65,383h1v1h-1zM66,382h1v1h-1zM67,382h1v1h-1zM68,382h1v1h-1zM69,382h1v1h-1zM70,382h1v1h-1zM71,383h1v1h-1zM72,383h1v1h-1zM73,383h1v1h-1zM74,384h1v1h-1zM75,384h1v1h-1zM76,385h1v1h-1zM77,385h1v1h-1zM78,386h1v1h-1zM79,387h1v1h-1zM80,388h1v1h-1zM81,389h1v2h-1zM82,391h1v1h-1zM83,390h1v1h-1zM84,390h1v1h-1zM85,390h1v1h-1zM86,389h1v1h-1zM87,387h1v2h-1zM88,386h1v1h-1zM89,385h1v1h-1zM90,383h1v2h-1zM91,380h1v3h-1zM92,378h1v2h-1zM93,376h1v2h-1zM94,375h1v1h-1zM95,373h1v2h-1zM96,372h1v1h-1zM97,370h1v2h-1zM98,369h1v1h-1zM99,368h1v1h-1zM100,366h1v2h-1zM101,365h1v1h-1zM102,364h1v1h-1zM103,364h1v1h-1zM104,365h1v1h-1zM105,365h1v1h-1zM106,365h1v1h-1zM107,366h1v1h-1zM108,367h1v1h-1zM109,368h1v1h-1zM110,369h1v1h-1zM111,370h1v1h-1zM112,371h1v1h-1zM113,371h1v1h-1zM114,372h1v1h-1zM115,372h1v1h-1zM116,373h1v1h-1zM117,373h1v1h-1zM118,373h1v1h-1zM119,374h1v1h-1zM120,374h1v1h-1zM121,374h1v1h-1zM122,374h1v1h-1zM123,374h1v1h-1zM124,375h1v1h-1zM125,375h1v1h-1zM126,375h1v1h-1zM127,374h1v1h-1zM128,373h1v1h-1zM129,371h1v2h-1zM130,370h1v1h-1zM131,370h1v1h-1zM132,370h1v1h-1zM133,369h1v1h-1zM134,369h1v1h-1zM135,369h1v1h-1zM136,369h1v1h-1zM137,368h1v1h-1zM138,368h1v1h-1zM139,367h1v1h-1zM140,366h1v1h-1zM141,366h1v1h-1zM142,365h1v1h-1zM143,364h1v1h-1zM144,363h1v1h-1zM145,362h1v1h-1zM146,361h1v1h-1zM147,362h1v1h-1zM148,363h1v1h-1zM149,364h1v1h-1zM150,365h1v1h-1zM151,365h1v1h-1zM152,365h1v1h-1zM153,366h1v1h-1zM154,366h1v1h-1zM155,365h1v1h-1zM156,363h1v2h-1zM157,362h1v1h-1zM158,361h1v1h-1zM159,359h1v2h-1zM160,358h1v1h-1zM161,356h1v2h-1zM162,354h1v2h-1zM163,352h1v2h-1zM164,350h1v2h-1zM165,347h1v3h-1zM166,344h1v3h-1zM167,342h1v2h-1zM168,339h1v3h-1zM169,336h1v3h-1zM170,333h1v3h-1zM171,330h1v3h-1zM172,327h1v3h-1zM173,324h1v3h-1zM174,323h1v1h-1zM175,322h1v1h-1zM176,321h1v1h-1zM177,320h1v1h-1zM178,319h1v1h-1zM179,318h1v1h-1zM180,317h1v1h-1zM181,316h1v1h-1zM182,315h1v1h-1zM183,314h1v1h-1zM184,313h1v1h-1zM185,312h1v1h-1zM186,312h1v1h-1zM187,311h1v1h-1zM188,310h1v1h-1zM189,309h1v1h-1zM190,308h1v1h-1zM191,307h1v1h-1zM192,307h1v1h-1zM193,307h1v1h-1zM194,306h1v1h-1zM195,305h1v1h-1zM196,305h1v1h-1zM197,304h1v1h-1zM198,303h1v1h-1zM199,303h1v1h-1zM200,302h1v1h-1zM201,301h1v1h-1zM202,301h1v1h-1zM203,301h1v1h-1zM204,302h1v1h-1zM205,303h1v1h-1zM206,303h1v1h-1zM207,304h1v1h-1zM208,305h1v1h-1zM209,305h1v1h-1zM210,306h1v1h-1zM211,306h1v1h-1zM212,306h1v1h-1zM213,306h1v1h-1zM214,306h1v1h-1zM215,307h1v1h-1zM216,307h1v1h-1zM217,308h1v1h-1zM218,309h1v1h-1zM219,309h1v1h-1zM220,310h1v1h-1zM221,310h1v1h-1zM222,311h1v1h-1zM223,310h1v1h-1zM224,309h1v1h-1zM225,309h1v1h-1zM226,308h1v1h-1zM227,307h1v1h-1zM228,307h1v1h-1zM229,306h1v1h-1zM230,305h1v1h-1zM231,305h1v1h-1zM232,305h1v1h-1zM233,305h1v1h-1zM234,305h1v1h-1zM235,304h1v1h-1zM236,303h1v1h-1zM237,302h1v1h-1zM238,302h1v1h-1zM239,302h1v1h-1zM240,303h1v1h-1zM241,304h1v1h-1zM242,305h1v1h-1zM243,305h1v1h-1zM244,305h1v1h-1zM245,305h1v1h-1zM246,303h1v3h-1zM247,300h1v3h-1zM248,297h1v3h-1zM249,295h1v2h-1zM250,293h1v2h-1zM251,291h1v2h-1zM252,289h1v2h-1zM253,287h1v2h-1zM254,285h1v2h-1zM255,283h1v2h-1zM256,280h1v3h-1zM257,278h1v2h-1zM258,274h1v4h-1zM259,270h1v4h-1zM260,267h1v3h-1zM261,263h1v4h-1zM262,260h1v3h-1zM263,257h1v3h-1zM264,254h1v3h-1zM265,251h1v3h-1zM266,250h1v1h-1zM267,249h1v1h-1zM268,248h1v1h-1zM269,248h1v1h-1zM270,246h1v2h-1zM271,245h1v1h-1zM272,243h1v2h-1zM273,242h1v1h-1zM274,241h1v1h-1zM275,240h1v1h-1zM276,239h1v1h-1zM277,239h1v1h-1zM278,238h1v1h-1zM279,238h1v1h-1zM280,237h1v1h-1zM281,237h1v1h-1zM282,237h1v1h-1zM283,237h1v1h-1zM284,238h1v1h-1zM285,238h1v1h-1zM286,239h1v1h-1zM287,240h1v1h-1zM288,241h1v1h-1zM289,242h1v1h-1zM290,243h1v1h-1zM291,244h1v2h-1zM292,246h1v1h-1zM293,247h1v1h-1zM294,248h1v2h-1zM295,250h1v1h-1zM296,251h1v2h-1zM297,253h1v2h-1zM298,255h1v1h-1zM299,256h1v2h-1zM300,258h1v1h-1zM301,259h1v1h-1zM302,260h1v1h-1zM303,260h1v1h-1zM304,260h1v1h-1zM305,260h1v1h-1zM306,260h1v1h-1zM307,260h1v1h-1zM308,260h1v1h-1zM309,260h1v1h-1zM310,260h1v1h-1zM311,259h1v1h-1zM312,259h1v1h-1zM313,258h1v1h-1zM314,258h1v1h-1zM315,256h1v2h-1zM316,255h1v1h-1zM317,254h1v1h-1zM318,252h1v2h-1zM319,251h1v1h-1zM320,250h1v1h-1zM321,248h1v2h-1zM322,247h1v1h-1zM323,248h1v1h-1zM324,248h1v1h-1zM325,248h1v1h-1zM326,248h1v2h-1zM327,250h1v1h-1zM328,251h1v1h-1zM329,252h1v1h-1zM330,253h1v1h-1zM331,254h1v1h-1zM332,255h1v1h-1zM333,256h1v2h-1zM334,258h1v1h-1zM335,258h1v1h-1zM336,258h1v1h-1zM337,259h1v1h-1zM338,259h1v1h-1zM339,259h1v1h-1zM340,260h1v1h-1zM341,261h1v1h-1zM342,261h1v1h-1zM343,260h1v1h-1zM344,259h1v1h-1zM345,258h1v1h-1zM346,255h1v3h-1zM347,253h1v2h-1zM348,251h1v2h-1zM349,249h1v2h-1zM350,246h1v3h-1zM351,244h1v2h-1zM352,242h1v2h-1zM353,239h1v3h-1zM354,236h1v3h-1zM355,233h1v3h-1zM356,231h1v2h-1zM357,228h1v3h-1zM358,224h1v4h-1zM359,220h1v4h-1zM360,217h1v3h-1zM361,213h1v4h-1zM362,211h1v2h-1zM363,210h1v1h-1zM364,208h1v2h-1zM365,207h1v1h-1zM366,206h1v1h-1zM367,204h1v2h-1zM368,203h1v1h-1zM369,202h1v1h-1zM370,201h1v1h-1zM371,200h1v1h-1zM372,200h1v1h-1zM373,199h1v1h-1zM374,199h1v1h-1zM375,199h1v1h-1zM376,199h1v1h-1zM377,200h1v1h-1zM378,200h1v1h-1zM379,201h1v1h-1zM380,202h1v1h-1zM381,203h1v1h-1zM382,204h1v1h-1zM383,205h1v1h-1zM384,206h1v1h-1zM385,207h1v1h-1zM386,208h1v1h-1zM387,209h1v1h-1zM388,209h1v1h-1zM389,210h1v1h-1zM390,211h1v1h-1zM391,211h1v1h-1zM392,212h1v1h-1zM393,213h1v1h-1zM394,214h1v1h-1zM395,214h1v1h-1zM396,214h1v1h-1zM397,214h1v1h-1zM398,214h1v1h-1zM399,214h1v1h-1zM400,215h1v1h-1zM401,215h1v1h-1zM402,216h1v1h-1zM403,215h1v1h-1zM404,214h1v1h-1zM405,214h1v1h-1zM406,213h1v1h-1zM407,213h1v1h-1zM408,213h1v1h-1zM409,213h1v1h-1zM410,212h1v1h-1zM411,212h1v1h-1zM412,212h1v1h-1zM413,211h1v1h-1zM414,211h1v1h-1zM415,212h1v1h-1zM416,213h1v1h-1zM417,213h1v1h-1zM418,214h1v1h-1zM419,214h1v1h-1zM420,215h1v1h-1zM421,215h1v1h-1zM422,215h1v1h-1zM423,215h1v1h-1zM424,214h1v1h-1zM425,214h1v1h-1zM426,212h1v2h-1zM427,210h1v2h-1zM428,208h1v2h-1zM429,206h1v2h-1zM430,202h1v4h-1zM431,199h1v3h-1zM432,196h1v3h-1zM433,192h1v4h-1zM434,190h1v2h-1zM435,187h1v3h-1zM436,184h1v3h-1zM437,181h1v3h-1zM438,179h1v2h-1zM439,177h1v2h-1zM440,175h1v2h-1zM441,172h1v3h-1zM442,171h1v1h-1zM443,171h1v1h-1zM444,171h1v1h-1zM445,170h1v1h-1zM446,170h1v1h-1zM447,171h1v1h-1zM448,172h1v1h-1zM449,173h1v1h-1zM450,173h1v1h-1zM451,174h1v1h-1zM452,175h1v1h-1zM453,176h1v1h-1zM454,176h1v1h-1zM455,177h1v1h-1zM456,177h1v1h-1zM457,177h1v1h-1zM458,178h1v1h-1zM459,178h1v1h-1zM460,179h1v1h-1zM461,179h1v1h-1zM462,179h1v1h-1zM463,180h1v1h-1zM464,180h1v1h-1zM465,181h1v1h-1zM466,181h1v2h-1zM467,183h1v1h-1zM468,184h1v2h-1zM469,186h1v1h-1zM470,187h1v5h-1zM471,192h1v4h-1zM472,196h1v4h-1zM473,200h1v5h-1zM474,205h1v4h-1zM475,209h1v5h-1zM476,214h1v4h-1zM477,218h1v4h-1zM478,222h1v5h-1zM479,227h1v4h-1zM480,231h1v4h-1zM481,235h1v4h-1zM482,239h1v3h-1zM483,242h1v2h-1zM484,244h1v3h-1zM485,247h1v2h-1zM486,249h1v1h-1zM487,250h1v1h-1zM488,251h1v1h-1zM489,251h1v1h-1zM490,251h1v2h-1zM491,249h1v2h-1zM492,247h1v2h-1zM493,245h1v2h-1zM494,244h1v1h-1zM495,242h1v2h-1zM496,240h1v2h-1zM497,239h1v1h-1zM498,237h1v2h-1zM499,235h1v2h-1zM500,233h1v2h-1zM501,231h1v2h-1zM502,230h1v1h-1zM503,229h1v1h-1zM504,229h1v1h-1zM505,229h1v1h-1zM506,228h1v1h-1zM507,229h1v1h-1zM508,230h1v1h-1zM509,231h1v1h-1zM510,232h1v3h-1zM511,235h1v3h-1zM512,238h1v3h-1zM513,241h1v3h-1zM514,244h1v1h-1zM515,245h1v2h-1zM516,247h1v1h-1zM517,248h1v2h-1zM518,250h1v2h-1zM519,252h1v2h-1zM520,254h1v2h-1zM521,256h1v2h-1zM522,258h1v2h-1zM523,260h1v1h-1zM524,261h1v1h-1zM525,262h1v2h-1zM526,264h1v1h-1zM527,264h1v1h-1zM528,265h1v1h-1zM529,266h1v1h-1zM530,266h1v1h-1zM531,266h1v1h-1zM532,266h1v1h-1zM533,266h1v1h-1zM534,265h1v1h-1zM535,266h1v1h-1zM536,267h1v1h-1zM537,268h1v1h-1zM538,269h1v1h-1zM539,270h1v1h-1zM540,270h1v1h-1zM541,271h1v1h-1zM542,272h1v1h-1zM543,272h1v1h-1zM544,273h1v1h-1zM545,273h1v1h-1zM546,274h1v1h-1zM547,275h1v1h-1zM548,275h1v1h-1zM549,276h1v1h-1zM550,277h1v1h-1zM551,277h1v1h-1zM552,277h1v1h-1zM553,277h1v1h-1zM554,277h1v1h-1zM555,277h1v1h-1zM556,277h1v1h-1zM557,277h1v1h-1zM558,276h1v2h-1zM559,274h1v2h-1zM560,272h1v2h-1zM561,270h1v2h-1zM562,267h1v3h-1zM563,264h1v3h-1zM564,262h1v2h-1zM565,259h1v3h-1zM566,257h1v2h-1zM567,255h1v2h-1zM568,253h1v2h-1zM569,251h1v2h-1zM570,249h1v2h-1zM571,247h1v2h-1zM572,244h1v3h-1zM573,242h1v2h-1zM574,239h1v3h-1zM575,237h1v2h-1zM576,234h1v3h-1zM577,232h1v2h-1zM578,231h1v1h-1zM579,230h1v1h-1zM580,230h1v1h-1zM581,229h1v1h-1zM582,228h1v1h-1zM583,228h1v1h-1zM584,227h1v1h-1zM585,226h1v1h-1zM586,223h1v3h-1zM587,220h1v3h-1zM588,217h1v3h-1zM589,214h1v3h-1zM590,209h1v5h-1zM591,205h1v4h-1zM592,200h1v5h-1zM593,196h1v4h-1zM594,192h1v4h-1zM595,187h1v5h-1zM596,183h1v4h-1zM597,179h1v4h-1zM598,175h1v4h-1zM599,171h1v4h-1zM600,167h1v4h-1zM601,163h1v4h-1zM602,160h1v3h-1zM603,156h1v4h-1zM604,153h1v3h-1zM605,149h1v4h-1zM606,147h1v2h-1zM607,145h1v2h-1zM608,143h1v2h-1zM609,142h1v1h-1zM610,141h1v1h-1zM611,141h1v1h-1zM612,141h1v1h-1zM613,141h1v1h-1zM614,141h1v1h-1zM615,141h1v1h-1zM616,141h1v1h-1zM617,141h1v1h-1zM618,141h1v1h-1zM619,141h1v1h-1zM620,141h1v1h-1zM621,142h1v1h-1zM622,142h1v1h-1zM623,143h1v1h-1zM624,144h1v2h-1zM625,146h1v1h-1zM626,147h1v1h-1zM627,148h1v1h-1zM628,148h1v1h-1zM629,149h1v1h-1zM630,150h1v1h-1zM631,150h1v1h-1zM632,150h1v1h-1zM633,150h1v1h-1zM634,150h1v1h-1zM635,149h1v1h-1zM636,149h1v1h-1zM637,149h1v1h-1zM638,149h1v1h-1zM639,148h1v1h-1zM640,146h1v2h-1zM641,145h1v1h-1zM642,144h1v1h-1zM643,144h1v1h-1zM644,143h1v1h-1zM645,143h1v1h-1zM646,142h1v1h-1zM647,143h1v1h-1zM648,143h1v1h-1zM649,143h1v1h-1zM650,144h1v1h-1zM651,145h1v2h-1zM652,147h1v2h-1zM653,149h1v2h-1zM654,151h1v2h-1zM655,153h1v1h-1zM656,154h1v2h-1zM657,156h1v2h-1zM658,158h1v2h-1zM659,160h1v3h-1zM660,163h1v3h-1zM661,166h1v3h-1zM662,169h1v3h-1zM663,172h1v4h-1zM664,176h1v3h-1zM665,179h1v3h-1zM666,182h1v3h-1zM667,185h1v2h-1zM668,187h1v3h-1zM669,190h1v2h-1zM670,192h1v2h-1zM671,194h1v1h-1zM672,195h1v2h-1zM673,197h1v1h-1zM674,198h1v3h-1zM675,201h1v3h-1zM676,204h1v2h-1zM677,206h1v3h-1zM678,209h1v2h-1zM679,211h1v1h-1zM680,212h1v2h-1zM681,214h1v1h-1zM682,215h1v1h-1zM683,214h1v1h-1zM684,213h1v1h-1zM685,212h1v1h-1zM686,211h1v1h-1zM687,211h1v1h-1zM688,211h1v1h-1zM689,212h1v1h-1zM690,212h1v1h-1zM691,212h1v1h-1zM692,212h1v1h-1zM693,212h1v1h-1zM694,212h1v1h-1zM695,212h1v1h-1zM696,211h1v1h-1zM697,211h1v1h-1zM698,210h1v2h-1zM699,209h1v1h-1zM700,208h1v1h-1zM701,206h1v2h-1zM702,205h1v1h-1zM703,205h1v1h-1zM704,204h1v1h-1zM705,204h1v1h-1zM706,201h1v3h-1zM707,198h1v3h-1zM708,195h1v3h-1zM709,192h1v3h-1zM710,190h1v2h-1zM711,187h1v3h-1zM712,185h1v2h-1zM713,183h1v2h-1zM714,180h1v3h-1zM715,177h1v3h-1zM716,175h1v2h-1zM717,172h1v3h-1zM718,170h1v2h-1zM719,169h1v1h-1zM720,167h1v2h-1zM721,165h1v2h-1zM722,164h1v1h-1zM723,163h1v1h-1zM724,161h1v2h-1zM725,160h1v1h-1zM726,159h1v1h-1zM727,158h1v1h-1zM728,157h1v1h-1zM729,156h1v1h-1zM730,155h1v1h-1zM731,154h1v1h-1zM732,154h1v1h-1zM733,154h1v1h-1zM734,153h1v1h-1zM735,153h1v1h-1zM736,153h1v1h-1zM737,152h1v1h-1zM738,152h1v1h-1zM739,151h1v1h-1zM740,150h1v1h-1zM741,149h1v1h-1zM742,147h1v2h-1zM743,146h1v1h-1zM744,145h1v1h-1zM745,144h1v1h-1zM746,143h1v1h-1zM747,143h1v1h-1zM748,143h1v1h-1zM749,143h1v1h-1zM750,141h1v3h-1zM751,138h1v3h-1zM752,135h1v3h-1zM753,132h1v3h-1zM754,129h1v3h-1zM755,127h1v2h-1zM756,124h1v3h-1zM757,122h1v2h-1zM758,120h1v2h-1zM759,118h1v2h-1zM760,116h1v2h-1zM761,114h1v2h-1zM762,112h1v2h-1zM763,109h1v3h-1zM764,106h1v3h-1zM765,104h1v2h-1zM766,101h1v3h-1zM767,99h1v2h-1zM768,97h1v2h-1zM769,94h1v3h-1zM770,93h1v1h-1zM771,92h1v1h-1zM772,91h1v1h-1zM773,91h1v1h-1zM774,90h1v1h-1zM775,90h1v1h-1zM776,90h1v1h-1zM777,90h1v1h-1zM778,90h1v1h-1zM779,88h1v2h-1zM780,87h1v1h-1zM781,86h1v1h-1zM782,85h1v1h-1zM783,86h1v1h-1zM784,86h1v1h-1zM785,87h1v1h-1zM786,87h1v2h-1zM787,89h1v2h-1zM788,91h1v3h-1zM789,94h1v2h-1zM790,96h1v2h-1zM791,98h1v3h-1zM792,101h1v2h-1zM793,103h1v3h-1zM794,106h1v1h-1zM795,107h1v2h-1zM796,109h1v1h-1zM797,110h1v1h-1zM798,111h1v2h-1zM799,113h1v1h-1zM800,114h1v1h-1zM801,115h1v1h-1zM802,116h1v1h-1zM803,116h1v1h-1zM804,117h1v1h-1zM805,117h1v1h-1zM806,116h1v2h-1zM807,113h1v3h-1zM808,111h1v2h-1zM809,109h1v2h-1zM810,107h1v2h-1zM811,105h1v2h-1zM812,103h1v2h-1zM813,101h1v2h-1zM814,98h1v3h-1zM815,96h1v2h-1zM816,93h1v3h-1zM817,91h1v2h-1zM818,90h1v1h-1zM819,88h1v2h-1zM820,87h1v1h-1zM821,85h1v2h-1zM822,84h1v1h-1zM823,84h1v1h-1zM824,83h1v1h-1zM825,82h1v1h-1zM826,82h1v1h-1zM827,83h1v2h-1zM828,85h1v2h-1zM829,87h1v2h-1zM830,89h1v2h-1zM831,91h1v2h-1zM832,93h1v2h-1zM833,95h1v3h-1zM834,98h1v2h-1zM835,100h1v2h-1zM836,102h1v2h-1zM837,104h1v2h-1zM838,106h1v3h-1zM839,109h1v2h-1zM840,111h1v3h-1zM841,114h1v2h-1zM842,116h1v2h-1zM843,118h1v1h-1zM844,119h1v2h-1zM845,121h1v2h-1zM846,122h1v2h-1zM847,121h1v1h-1zM848,120h1v1h-1zM849,119h1v1h-1zM850,117h1v2h-1zM851,115h1v2h-1zM852,113h1v2h-1zM853,112h1v1h-1zM854,110h1v2h-1zM855,109h1v1h-1zM856,108h1v1h-1zM857,107h1v1h-1zM858,105h1v2h-1zM859,104h1v1h-1zM860,102h1v2h-1zM861,100h1v2h-1zM862,99h1v1h-1zM863,97h1v2h-1zM864,96h1v1h-1zM865,94h1v2h-1zM866,93h1v1h-1zM867,93h1v1h-1zM868,93h1v1h-1zM869,92h1v1h-1zM870,91h1v2h-1zM871,90h1v1h-1zM872,88h1v2h-1zM873,86h1v2h-1zM874,85h1v1h-1zM875,83h1v2h-1zM876,81h1v2h-1zM877,79h1v2h-1zM878,78h1v1h-1zM879,78h1v1h-1zM880,77h1v1h-1zM881,76h1v1h-1zM882,76h1v1h-1zM883,75h1v1h-1zM884,74h1v1h-1zM885,73h1v1h-1zM886,72h1v1h-1zM887,71h1v1h-1zM888,70h1v1h-1zM889,69h1v1h-1zM890,68h1v1h-1zM891,68h1v1h-1zM892,68h1v1h-1zM893,68h1v1h-1zM894,68h1v1h-1zM895,68h1v1h-1zM896,68h1v1h-1zM897,69h1v1h-1zM898,69h1v1h-1zM899,69h1v1h-1zM900,69h1v1h-1zM901,69h1v1h-1zM902,70h1v1h-1zM903,71h1v2h-1zM904,73h1v2h-1zM905,75h1v2h-1zM906,77h1v2h-1zM907,79h1v3h-1zM908,82h1v2h-1zM909,84h1v2h-1zM910,86h1v3h-1zM911,89h1v4h-1zM912,93h1v3h-1zM913,96h1v3h-1zM914,99h1v2h-1zM915,101h1v2h-1zM916,103h1v2h-1zM917,105h1v2h-1zM918,107h1v1h-1zM919,108h1v2h-1zM920,110h1v1h-1zM921,111h1v2h-1zM922,113h1v1h-1zM923,113h1v1h-1zM924,113h1v1h-1zM925,114h1v1h-1zM926,114h1v1h-1zM927,114h1v1h-1zM928,114h1v1h-1zM929,114h1v1h-1zM930,114h1v1h-1zM931,113h1v1h-1zM932,112h1v1h-1zM933,112h1v1h-1zM934,111h1v1h-1zM935,112h1v1h-1zM936,112h1v1h-1zM937,113h1v1h-1zM938,113h1v1h-1zM939,114h1v1h-1zM940,115h1v1h-1zM941,116h1v1h-1zM942,116h1v1h-1zM943,117h1v1h-1zM944,117h1v1h-1zM945,118h1v1h-1zM946,118h1v1h-1zM947,119h1v2h-1zM948,121h1v1h-1zM949,122h1v1h-1zM950,123h1v1h-1zM951,123h1v1h-1zM952,124h1v1h-1zM953,124h1v1h-1zM954,124h1v1h-1zM955,123h1v1h-1zM956,123h1v1h-1zM957,122h1v1h-1zM958,121h1v1h-1zM959,120h1v1h-1zM960,119h1v1h-1zM961,118h1v1h-1zM962,117h1v1h-1zM963,117h1v1h-1zM964,116h1v1h-1zM965,116h1v1h-1zM966,116h1v1h-1zM967,115h1v1h-1zM968,114h1v1h-1zM969,112h1v2h-1zM970,111h1v1h-1zM971,109h1v2h-1zM972,108h1v1h-1zM973,107h1v1h-1zM974,105h1v2h-1zM975,104h1v1h-1zM976,102h1v2h-1zM977,101h1v1h-1zM978,100h1v1h-1zM979,99h1v1h-1zM980,98h1v1h-1zM981,97h1v1h-1zM982,95h1v2h-1zM983,93h1v2h-1zM984,91h1v2h-1zM985,89h1v2h-1zM986,88h1v1h-1zM987,86h1v2h-1zM988,85h1v1h-1zM989,83h1v2h-1zM990,82h1v1h-1zM991,82h1v1h-1zM992,82h1v1h-1zM993,82h1v1h-1zM994,81h1v1h-1zM995,81h1v1h-1zM996,81h1v1h-1zM997,80h1v1h-1zM998,80h1v1h-1zM999,79h1v1h-1zM1000,79h1v1h-1zM1001,78h1v1h-1zM1002,77h1v1h-1zM1003,78h1v1h-1zM1004,78h1v1h-1zM1005,79h1v1h-1zM1006,80h1v1h-1zM1007,80h1v1h-1zM1008,80h1v1h-1zM1009,80h1v1h-1zM1010,80h1v1h-1zM1011,81h1v1h-1zM1012,82h1v1h-1zM1013,83h1v1h-1zM1014,84h1v2h-1zM1015,86h1v3h-1zM1016,89h1v2h-1zM1017,91h1v3h-1zM1018,94h1v1h-1zM1019,95h1v2h-1zM1020,97h1v1h-1zM1021,98h1v2h-1zM1022,100h1v1h-1zM1023,100h1v1h-1zM1024,100h1v1h-1zM1025,100h1v1h-1zM1026,101h1v1h-1zM1027,101h1v1h-1zM1028,102h1v1h-1zM1029,102h1v1h-1zM1030,103h1v1h-1zM1031,103h1v1h-1zM1032,104h1v1h-1zM1033,104h1v1h-1zM1034,104h1v1h-1zM1035,104h1v1h-1zM1036,103h1v1h-1zM1037,102h1v1h-1zM1038,102h1v1h-1zM1039,102h1v1h-1zM1040,103h1v1h-1zM1041,104h1v1h-1zM1042,105h1v2h-1zM1043,107h1v3h-1zM1044,110h1v3h-1zM1045,113h1v3h-1zM1046,116h1v4h-1zM1047,120h1v4h-1zM1048,124h1v4h-1zM1049,128h1v4h-1zM1050,132h1v3h-1zM1051,135h1v3h-1zM1052,138h1v3h-1zM1053,141h1v4h-1zM1054,145h1v3h-1zM1055,148h1v3h-1zM1056,151h1v3h-1zM1057,154h1v3h-1zM1058,157h1v4h-1zM1059,161h1v4h-1zM1060,165h1v3h-1zM1061,168h1v4h-1zM1062,172h1v1h-1zM1063,173h1v1h-1zM1064,174h1v2h-1zM1065,176h1v1h-1zM1066,175h1v3h-1zM1067,173h1v2h-1zM1068,170h1v3h-1zM1069,168h1v2h-1zM1070,166h1v2h-1zM1071,164h1v2h-1zM1072,162h1v2h-1zM1073,161h1v1h-1zM1074,159h1v2h-1zM1075,157h1v2h-1zM1076,155h1v2h-1zM1077,153h1v2h-1zM1078,151h1v2h-1zM1079,149h1v2h-1zM1080,146h1v3h-1zM1081,144h1v2h-1zM1082,143h1v1h-1zM1083,141h1v2h-1zM1084,140h1v1h-1zM1085,138h1v2h-1zM1086,137h1v1h-1zM1087,138h1v1h-1zM1088,139h1v1h-1zM1089,140h1v1h-1zM1090,141h1v1h-1zM1091,141h1v1h-1zM1092,140h1v1h-1zM1093,139h1v1h-1zM1094,138h1v2h-1zM1095,137h1v1h-1zM1096,135h1v2h-1zM1097,133h1v2h-1zM1098,132h1v1h-1zM1099,130h1v2h-1zM1100,129h1v1h-1zM1101,128h1v1h-1zM1102,126h1v2h-1zM1103,125h1v1h-1zM1104,123h1v2h-1zM1105,122h1v1h-1zM1106,121h1v1h-1zM1107,120h1v1h-1zM1108,119h1v1h-1zM1109,118h1v1h-1zM1110,117h1v1h-1zM1111,118h1v1h-1zM1112,118h1v1h-1zM1113,119h1v1h-1zM1114,119h1v1h-1zM1115,120h1v1h-1zM1116,121h1v1h-1zM1117,121h1v1h-1zM1118,122h1v1h-1zM1119,123h1v1h-1zM1120,124h1v1h-1zM1121,124h1v1h-1zM1122,125h1v1h-1zM1123,125h1v1h-1zM1124,126h1v1h-1zM1125,126h1v1h-1zM1126,127h1v1h-1zM1127,127h1v1h-1zM1128,127h1v1h-1zM1129,127h1v1h-1zM1130,126h1v1h-1zM1131,126h1v1h-1zM1132,126h1v1h-1zM1133,126h1v1h-1zM1134,126h1v1h-1zM1135,125h1v1h-1zM1136,125h1v1h-1zM1137,125h1v1h-1zM1138,124h1v1h-1zM1139,122h1v2h-1zM1140,121h1v1h-1zM1141,119h1v2h-1zM1142,118h1v1h-1zM1143,118h1v1h-1zM1144,117h1v1h-1zM1145,117h1v1h-1zM1146,116h1v1h-1zM1147,117h1v1h-1zM1148,117h1v1h-1zM1149,117h1v1h-1zM1150,117h1v1h-1zM1151,117h1v1h-1zM1152,118h1v1h-1zM1153,118h1v1h-1zM1154,118h1v1h-1zM1155,119h1v1h-1zM1156,120h1v1h-1zM1157,121h1v1h-1zM1158,122h1v3h-1zM1159,125h1v2h-1zM1160,127h1v2h-1zM1161,129h1v2h-1zM1162,131h1v1h-1zM1163,131h1v1h-1zM1164,131h1v1h-1zM1165,131h1v1h-1zM1166,131h1v1h-1zM1167,131h1v1h-1zM1168,131h1v1h-1zM1169,131h1v1h-1zM1170,132h1v1h-1zM1171,132h1v1h-1zM1172,131h1v1h-1zM1173,131h1v1h-1zM1174,131h1v1h-1zM1175,130h1v1h-1zM1176,129h1v1h-1zM1177,128h1v1h-1zM1178,127h1v1h-1zM1179,126h1v1h-1zM1180,125h1v1h-1zM1181,124h1v1h-1zM1182,123h1v2h-1zM1183,125h1v1h-1zM1184,126h1v1h-1zM1185,127h1v1h-1zM1186,128h1v3h-1zM1187,131h1v2h-1zM1188,133h1v2h-1zM1189,135h1v2h-1zM1190,137h1v4h-1zM1191,141h1v3h-1zM1192,144h1v4h-1zM1193,148h1v3h-1zM1194,151h1v4h-1zM1195,155h1v3h-1zM1196,158h1v4h-1zM1197,162h1v4h-1zM1198,166h1v4h-1zM1199,170h1v4h-1zM1200,174h1v3h-1zM1201,177h1v4h-1zM1202,181h1v3h-1zM1203,184h1v2h-1zM1204,186h1v2h-1zM1205,188h1v2h-1zM1206,190h1v1h-1zM1207,190h1v1h-1zM1208,190h1v1h-1zM1209,190h1v1h-1zM1210,190h1v1h-1zM1211,188h1v2h-1zM1212,187h1v1h-1zM1213,186h1v1h-1zM1214,185h1v1h-1zM1215,184h1v1h-1zM1216,183h1v1h-1zM1217,182h1v1h-1zM1218,181h1v1h-1zM1219,180h1v1h-1zM1220,179h1v1h-1zM1221,178h1v1h-1zM1222,177h1v1h-1zM1223,177h1v1h-1zM1224,176h1v1h-1zM1225,175h1v1h-1zM1226,175h1v1h-1zM1227,175h1v1h-1zM1228,174h1v1h-1zM1229,174h1v1h-1zM1230,174h1v1h-1zM1231,174h1v1h-1zM1232,174h1v1h-1zM1233,174h1v1h-1zM1234,174h1v1h-1zM1235,174h1v1h-1zM1236,174h1v1h-1zM1237,173h1v1h-1zM1238,173h1v1h-1zM1239,173h1v1h-1zM1240,174h1v1h-1zM1241,174h1v1h-1zM1242,174h1v1h-1zM1243,173h1v1h-1zM1244,173h1v1h-1zM1245,172h1v1h-1zM1246,172h1v1h-1zM1247,172h1v1h-1zM1248,172h1v1h-1zM1249,173h1v1h-1zM1250,173h1v1h-1zM1251,173h1v1h-1zM1252,172h1v1h-1zM1253,172h1v1h-1zM1254,172h1v1h-1zM1255,172h1v1h-1zM1256,172h1v1h-1zM1257,172h1v1h-1zM1258,172h1v1h-1zM1259,172h1v1h-1zM1260,172h1v1h-1zM1261,172h1v1h-1zM1262,172h1v1h-1zM1263,173h1v1h-1zM1264,173h1v1h-1zM1265,173h1v1h-1zM1266,174h1v5h-1zM1267,179h1v5h-1zM1268,184h1v5h-1zM1269,189h1v5h-1zM1270,194h1v7h-1zM1271,201h1v6h-1zM1272,207h1v6h-1zM1273,213h1v6h-1zM1274,219h1v6h-1zM1275,225h1v6h-1zM1276,231h1v6h-1zM1277,237h1v6h-1zM1278,243h1v1h-1z" fill="#ffa500"/>
</g>
<rect x="2" y="290" width="1608" height="1" fill="#c0c0c0"/>
<rect x="2" y="103" width="1608" height="2" fill="#ff0000"/>
<rect x="1" y="101" width="6" height="6" fill="#ff0000"/><rect x="3" y="103" width="2" height="2" fill="#fff"/>
<rect x="1604" y="101" width="6" height="6" fill="#ff0000"/><rect x="1606" y="103" width="2" height="2" fill="#fff"/>
<rect x="2" y="192" width="1608" height="2" fill="#00ff00"/>
<rect x="1" y="190" width="6" height="6" fill="#00ff00"/><rect x="3" y="192" width="2" height="2" fill="#fff"/>
<rect x="1604" y="190" width="6" height="6" fill="#00ff00"/><rect x="1606" y="192" width="2" height="2" fill="#fff"/>
<rect x="2" y="278" width="1608" height="2" fill="#0000cd"/>
<rect x="1" y="276" width="6" height="6" fill="#0000cd"/><rect x="3" y="278" width="2" height="2" fill="#fff"/>
<rect x="1604" y="276" width="6" height="6" fill="#0000cd"/><rect x="1606" y="278" width="2" height="2" fill="#fff"/>
<rect x="2" y="364" width="1608" height="2" fill="#0000ff"/>
<rect x="30" y="443" width="1" height="13" fill="#000"/>
<rect x="29" y="444" width="3" height="2" fill="#000"/>
<rect x="138" y="353" width="1" height="10" fill="#000"/>
<rect x="137" y="360" width="3" height="2" fill="#000"/>
<rect x="234" y="286" width="1" height="16" fill="#000"/>
<rect x="233" y="299" width="3" height="2" fill="#000"/>
<path d="M5,31 L12,31 L8.5,35 Z" fill="#000" shape-rendering="auto"/>
<text x="16.8" y="36" font-size="10" fill="#000" stroke="#000" stroke-width="0.2" textLength="54.5" lengthAdjust="spacingAndGlyphs" shape-rendering="auto" >EURUSD,H4</text>
<text x="76.5" y="36" font-size="10" fill="#000" stroke="#000" stroke-width="0.2" textLength="33.5" lengthAdjust="spacingAndGlyphs" shape-rendering="auto" >1.19879</text>
<text x="112.5" y="36" font-size="10" fill="#000" stroke="#000" stroke-width="0.2" textLength="33.5" lengthAdjust="spacingAndGlyphs" shape-rendering="auto" >1.19947</text>
<text x="148.5" y="36" font-size="10" fill="#000" stroke="#000" stroke-width="0.2" textLength="33.5" lengthAdjust="spacingAndGlyphs" shape-rendering="auto" >1.19859</text>
<text x="184.5" y="36" font-size="10" fill="#000" stroke="#000" stroke-width="0.2" textLength="33.5" lengthAdjust="spacingAndGlyphs" shape-rendering="auto" >1.19873</text>
<rect x="1611" y="55" width="3" height="1" fill="#000"/>
<text x="1616" y="59" font-size="10" fill="#000" textLength="32" lengthAdjust="spacingAndGlyphs" shape-rendering="auto">1.22590</text>
<rect x="1611" y="88" width="3" height="1" fill="#000"/>
<text x="1616" y="92" font-size="10" fill="#000" textLength="32" lengthAdjust="spacingAndGlyphs" shape-rendering="auto">1.22210</text>
<rect x="1611" y="121" width="3" height="1" fill="#000"/>
<text x="1616" y="125" font-size="10" fill="#000" textLength="32" lengthAdjust="spacingAndGlyphs" shape-rendering="auto">1.21830</text>
<rect x="1611" y="154" width="3" height="1" fill="#000"/>
<text x="1616" y="158" font-size="10" fill="#000" textLength="32" lengthAdjust="spacingAndGlyphs" shape-rendering="auto">1.21450</text>
<rect x="1611" y="187" width="3" height="1" fill="#000"/>
<text x="1616" y="191" font-size="10" fill="#000" textLength="32" lengthAdjust="spacingAndGlyphs" shape-rendering="auto">1.21070</text>
<rect x="1611" y="220" width="3" height="1" fill="#000"/>
<text x="1616" y="224" font-size="10" fill="#000" textLength="32" lengthAdjust="spacingAndGlyphs" shape-rendering="auto">1.20690</text>
<rect x="1611" y="253" width="3" height="1" fill="#000"/>
<text x="1616" y="257" font-size="10" fill="#000" textLength="32" lengthAdjust="spacingAndGlyphs" shape-rendering="auto">1.20300</text>
<rect x="1611" y="286" width="3" height="1" fill="#000"/>
<text x="1616" y="290" font-size="10" fill="#000" textLength="32" lengthAdjust="spacingAndGlyphs" shape-rendering="auto">1.19920</text>
<rect x="1611" y="319" width="3" height="1" fill="#000"/>
<text x="1616" y="323" font-size="10" fill="#000" textLength="32" lengthAdjust="spacingAndGlyphs" shape-rendering="auto">1.19540</text>
<rect x="1611" y="352" width="3" height="1" fill="#000"/>
<text x="1616" y="356" font-size="10" fill="#000" textLength="32" lengthAdjust="spacingAndGlyphs" shape-rendering="auto">1.19160</text>
<rect x="1611" y="385" width="3" height="1" fill="#000"/>
<text x="1616" y="389" font-size="10" fill="#000" textLength="32" lengthAdjust="spacingAndGlyphs" shape-rendering="auto">1.18780</text>
<rect x="1611" y="418" width="3" height="1" fill="#000"/>
<text x="1616" y="422" font-size="10" fill="#000" textLength="32" lengthAdjust="spacingAndGlyphs" shape-rendering="auto">1.18400</text>
<rect x="1611" y="451" width="3" height="1" fill="#000"/>
<text x="1616" y="455" font-size="10" fill="#000" textLength="32" lengthAdjust="spacingAndGlyphs" shape-rendering="auto">1.18020</text>
<rect x="1611" y="484" width="3" height="1" fill="#000"/>
<text x="1616" y="488" font-size="10" fill="#000" textLength="32" lengthAdjust="spacingAndGlyphs" shape-rendering="auto">1.17640</text>
<rect x="1611" y="517" width="3" height="1" fill="#000"/>
<text x="1616" y="521" font-size="10" fill="#000" textLength="32" lengthAdjust="spacingAndGlyphs" shape-rendering="auto">1.17260</text>
<rect x="1612" y="98" width="38" height="11" fill="#ff0000"/>
<text x="1616" y="107" font-size="10" fill="#fff" textLength="32" lengthAdjust="spacingAndGlyphs" shape-rendering="auto">1.22025</text>
<rect x="1612" y="187" width="38" height="11" fill="#00ff00"/>
<text x="1616" y="196" font-size="10" fill="#fff" textLength="32" lengthAdjust="spacingAndGlyphs" shape-rendering="auto">1.21002</text>
<rect x="1612" y="273" width="38" height="11" fill="#0000cd"/>
<text x="1616" y="282" font-size="10" fill="#fff" textLength="32" lengthAdjust="spacingAndGlyphs" shape-rendering="auto">1.20010</text>
<rect x="1612" y="285" width="38" height="11" fill="#000000"/>
<text x="1616" y="294" font-size="10" fill="#fff" textLength="32" lengthAdjust="spacingAndGlyphs" shape-rendering="auto">1.19873</text>
<rect x="1612" y="359" width="38" height="11" fill="#0000ff"/>
<text x="1616" y="368" font-size="10" fill="#fff" textLength="32" lengthAdjust="spacingAndGlyphs" shape-rendering="auto">1.19018</text>
<text x="5.6" y="536" font-size="10" fill="#000" stroke="#000" stroke-width="0.2" textLength="68.5" lengthAdjust="spacingAndGlyphs" shape-rendering="auto" >RSI(14) 18.0190</text>
<line x1="3" y1="550.5" x2="1610" y2="550.5" stroke="#c0c0c0" stroke-dasharray="3,3"/>
<line x1="3" y1="586.5" x2="1610" y2="586.5" stroke="#c0c0c0" stroke-dasharray="3,3"/>
<g clip-path="url(#cr)" shape-rendering="auto"><path d="M2,565h1v2h-1zM3,567h1v2h-1zM4,569h1v2h-1zM5,571h1v1h-1zM6,572h1v1h-1zM7,572h1v1h-1zM8,572h1v1h-1zM9,571h1v1h-1zM10,569h1v3h-1zM11,565h1v4h-1zM12,562h1v3h-1zM13,559h1v3h-1zM14,558h1v1h-1zM15,557h1v1h-1zM16,557h1v1h-1zM17,556h1v1h-1zM18,556h1v1h-1zM19,555h1v1h-1zM20,555h1v1h-1zM21,555h1v1h-1zM22,555h1v1h-1zM23,555h1v1h-1zM24,556h1v1h-1zM25,556h1v1h-1zM26,556h1v1h-1zM27,556h1v1h-1zM28,556h1v1h-1zM29,556h1v1h-1zM30,556h1v1h-1zM31,556h1v1h-1zM32,556h1v1h-1zM33,556h1v1h-1zM34,555h1v1h-1zM35,554h1v1h-1zM36,552h1v2h-1zM37,551h1v1h-1zM38,550h1v1h-1zM39,549h1v1h-1zM40,549h1v1h-1zM41,548h1v1h-1zM42,548h1v1h-1zM43,547h1v1h-1zM44,546h1v1h-1zM45,545h1v1h-1zM46,545h1v1h-1zM47,545h1v1h-1zM48,545h1v1h-1zM49,545h1v1h-1zM50,545h1v1h-1zM51,545h1v1h-1zM52,545h1v1h-1zM53,545h1v1h-1zM54,545h1v1h-1zM55,544h1v1h-1zM56,544h1v1h-1zM57,544h1v1h-1zM58,543h1v1h-1zM59,543h1v1h-1zM60,543h1v1h-1zM61,542h1v1h-1zM62,542h1v1h-1zM63,543h1v1h-1zM64,543h1v1h-1zM65,544h1v1h-1zM66,544h1v2h-1zM67,546h1v2h-1zM68,548h1v2h-1zM69,550h1v2h-1zM70,552h1v1h-1zM71,553h1v1h-1zM72,554h1v1h-1zM73,554h1v1h-1zM74,555h1v1h-1zM75,555h1v1h-1zM76,554h1v1h-1zM77,554h1v1h-1zM78,553h1v1h-1zM79,554h1v1h-1zM80,555h1v1h-1zM81,556h1v1h-1zM82,557h1v1h-1zM83,555h1v2h-1zM84,553h1v2h-1zM85,551h1v2h-1zM86,550h1v1h-1zM87,550h1v1h-1zM88,550h1v1h-1zM89,549h1v1h-1zM90,549h1v1h-1zM91,549h1v1h-1zM92,548h1v1h-1zM93,548h1v1h-1zM94,547h1v1h-1zM95,548h1v1h-1zM96,549h1v1h-1zM97,549h1v1h-1zM98,550h1v1h-1zM99,551h1v2h-1zM100,553h1v2h-1zM101,555h1v2h-1zM102,557h1v1h-1zM103,557h1v1h-1zM104,557h1v1h-1zM105,557h1v1h-1zM106,557h1v1h-1zM107,558h1v1h-1zM108,559h1v1h-1zM109,560h1v1h-1zM110,560h1v1h-1zM111,560h1v1h-1zM112,559h1v1h-1zM113,558h1v1h-1zM114,557h1v1h-1zM115,557h1v1h-1zM116,556h1v1h-1zM117,556h1v1h-1zM118,556h1v1h-1zM119,557h1v1h-1zM120,558h1v2h-1zM121,560h1v1h-1zM122,561h1v1h-1zM123,561h1v1h-1zM124,562h1v1h-1zM125,562h1v1h-1zM126,562h1v2h-1zM127,560h1v2h-1zM128,559h1v1h-1zM129,557h1v2h-1zM130,556h1v1h-1zM131,557h1v1h-1zM132,557h1v1h-1zM133,558h1v1h-1zM134,558h1v1h-1zM135,558h1v1h-1zM136,558h1v1h-1zM137,558h1v1h-1zM138,558h1v1h-1zM139,558h1v1h-1zM140,558h1v1h-1zM141,557h1v1h-1zM142,557h1v1h-1zM143,558h1v1h-1zM144,558h1v1h-1zM145,559h1v1h-1zM146,559h1v2h-1zM147,561h1v1h-1zM148,562h1v1h-1zM149,563h1v1h-1zM150,564h1v1h-1zM151,564h1v1h-1zM152,564h1v1h-1zM153,563h1v1h-1zM154,561h1v3h-1zM155,559h1v2h-1zM156,556h1v3h-1zM157,554h1v2h-1zM158,553h1v1h-1zM159,553h1v1h-1zM160,552h1v1h-1zM161,552h1v1h-1zM162,552h1v1h-1zM163,551h1v1h-1zM164,550h1v1h-1zM165,550h1v1h-1zM166,549h1v1h-1zM167,549h1v1h-1zM168,549h1v1h-1zM169,549h1v1h-1zM170,549h1v1h-1zM171,548h1v1h-1zM172,548h1v1h-1zM173,548h1v1h-1zM174,547h1v1h-1zM175,548h1v1h-1zM176,549h1v1h-1zM177,550h1v1h-1zM178,551h1v1h-1zM179,551h1v1h-1zM180,550h1v1h-1zM181,550h1v1h-1zM182,550h1v1h-1zM183,549h1v1h-1zM184,549h1v1h-1zM185,548h1v1h-1zM186,547h1v1h-1zM187,547h1v1h-1zM188,547h1v1h-1zM189,547h1v1h-1zM190,547h1v1h-1zM191,548h1v1h-1zM192,548h1v1h-1zM193,549h1v1h-1zM194,550h1v1h-1zM195,550h1v1h-1zM196,550h1v1h-1zM197,550h1v1h-1zM198,550h1v1h-1zM199,550h1v1h-1zM200,549h1v1h-1zM201,549h1v1h-1zM202,549h1v2h-1zM203,551h1v2h-1zM204,553h1v2h-1zM205,555h1v2h-1zM206,557h1v1h-1zM207,557h1v1h-1zM208,557h1v1h-1zM209,557h1v1h-1zM210,557h1v1h-1zM211,556h1v1h-1zM212,555h1v1h-1zM213,555h1v1h-1zM214,554h1v2h-1zM215,556h1v2h-1zM216,558h1v2h-1zM217,560h1v2h-1zM218,562h1v1h-1zM219,561h1v1h-1zM220,560h1v1h-1zM221,560h1v1h-1zM222,559h1v1h-1zM223,558h1v1h-1zM224,557h1v1h-1zM225,557h1v1h-1zM226,556h1v1h-1zM227,556h1v1h-1zM228,556h1v1h-1zM229,556h1v1h-1zM230,556h1v1h-1zM231,556h1v1h-1zM232,556h1v1h-1zM233,556h1v1h-1zM234,556h1v1h-1zM235,557h1v1h-1zM236,557h1v1h-1zM237,557h1v1h-1zM238,557h1v3h-1zM239,560h1v3h-1zM240,563h1v3h-1zM241,566h1v3h-1zM242,568h1v2h-1zM243,566h1v2h-1zM244,563h1v3h-1zM245,561h1v2h-1zM246,558h1v3h-1zM247,555h1v3h-1zM248,552h1v3h-1zM249,549h1v3h-1zM250,548h1v2h-1zM251,550h1v2h-1zM252,552h1v1h-1zM253,553h1v2h-1zM254,555h1v1h-1zM255,555h1v1h-1zM256,555h1v1h-1zM257,554h1v1h-1zM258,554h1v1h-1zM259,554h1v1h-1zM260,553h1v1h-1zM261,553h1v1h-1zM262,553h1v1h-1zM263,552h1v1h-1zM264,552h1v1h-1zM265,552h1v1h-1zM266,551h1v1h-1zM267,551h1v1h-1zM268,550h1v1h-1zM269,550h1v1h-1zM270,549h1v1h-1zM271,549h1v1h-1zM272,550h1v1h-1zM273,550h1v1h-1zM274,551h1v1h-1zM275,552h1v1h-1zM276,553h1v1h-1zM277,554h1v1h-1zM278,555h1v1h-1zM279,555h1v1h-1zM280,555h1v1h-1zM281,555h1v1h-1zM282,555h1v1h-1zM283,556h1v1h-1zM284,557h1v1h-1zM285,558h1v1h-1zM286,559h1v1h-1zM287,559h1v1h-1zM288,559h1v1h-1zM289,558h1v1h-1zM290,558h1v1h-1zM291,559h1v1h-1zM292,559h1v1h-1zM293,560h1v1h-1zM294,560h1v3h-1zM295,563h1v2h-1zM296,565h1v2h-1zM297,567h1v2h-1zM298,569h1v1h-1zM299,568h1v1h-1zM300,568h1v1h-1zM301,567h1v1h-1zM302,566h1v1h-1zM303,565h1v1h-1zM304,563h1v2h-1zM305,562h1v1h-1zM306,561h1v1h-1zM307,561h1v1h-1zM308,561h1v1h-1zM309,561h1v1h-1zM310,561h1v1h-1zM311,560h1v1h-1zM312,560h1v1h-1zM313,560h1v1h-1zM314,559h1v1h-1zM315,560h1v1h-1zM316,561h1v1h-1zM317,562h1v1h-1zM318,563h1v1h-1zM319,562h1v1h-1zM320,561h1v1h-1zM321,561h1v1h-1zM322,560h1v1h-1zM323,561h1v1h-1zM324,562h1v1h-1zM325,563h1v1h-1zM326,564h1v2h-1zM327,566h1v1h-1zM328,567h1v1h-1zM329,568h1v2h-1zM330,570h1v1h-1zM331,570h1v1h-1zM332,569h1v1h-1zM333,569h1v1h-1zM334,569h1v1h-1zM335,568h1v1h-1zM336,567h1v1h-1zM337,566h1v1h-1zM338,566h1v1h-1zM339,565h1v1h-1zM340,565h1v1h-1zM341,565h1v1h-1zM342,564h1v2h-1zM343,562h1v2h-1zM344,561h1v1h-1zM345,559h1v2h-1zM346,558h1v1h-1zM347,558h1v1h-1zM348,557h1v1h-1zM349,557h1v1h-1zM350,557h1v1h-1zM351,557h1v1h-1zM352,556h1v1h-1zM353,556h1v1h-1zM354,555h1v2h-1zM355,554h1v1h-1zM356,553h1v1h-1zM357,552h1v1h-1zM358,551h1v1h-1zM359,550h1v1h-1zM360,549h1v1h-1zM361,549h1v1h-1zM362,548h1v2h-1zM363,550h1v2h-1zM364,552h1v2h-1zM365,554h1v1h-1zM366,555h1v1h-1zM367,555h1v1h-1zM368,555h1v1h-1zM369,555h1v1h-1zM370,555h1v1h-1zM371,556h1v1h-1zM372,557h1v1h-1zM373,558h1v1h-1zM374,559h1v1h-1zM375,559h1v1h-1zM376,559h1v1h-1zM377,559h1v1h-1zM378,559h1v1h-1zM379,558h1v1h-1zM380,558h1v1h-1zM381,558h1v1h-1zM382,557h1v2h-1zM383,559h1v1h-1zM384,560h1v2h-1zM385,562h1v2h-1zM386,564h1v1h-1zM387,563h1v1h-1zM388,563h1v1h-1zM389,563h1v1h-1zM390,562h1v1h-1zM391,563h1v1h-1zM392,564h1v1h-1zM393,565h1v1h-1zM394,566h1v1h-1zM395,565h1v1h-1zM396,564h1v1h-1zM397,562h1v2h-1zM398,561h1v1h-1zM399,562h1v1h-1zM400,562h1v1h-1zM401,563h1v1h-1zM402,563h1v1h-1zM403,563h1v1h-1zM404,562h1v1h-1zM405,561h1v1h-1zM406,561h1v1h-1zM407,561h1v1h-1zM408,562h1v1h-1zM409,563h1v1h-1zM410,564h1v1h-1zM411,564h1v1h-1zM412,565h1v1h-1zM413,566h1v1h-1zM414,566h1v1h-1zM415,567h1v1h-1zM416,567h1v1h-1zM417,567h1v1h-1zM418,568h1v1h-1zM419,567h1v1h-1zM420,567h1v1h-1zM421,566h1v1h-1zM422,565h1v2h-1zM423,563h1v2h-1zM424,562h1v1h-1zM425,560h1v2h-1zM426,558h1v2h-1zM427,557h1v1h-1zM428,555h1v2h-1zM429,554h1v1h-1zM430,553h1v1h-1zM431,552h1v1h-1zM432,552h1v1h-1zM433,551h1v1h-1zM434,550h1v2h-1zM435,552h1v1h-1zM436,553h1v2h-1zM437,555h1v1h-1zM438,556h1v1h-1zM439,556h1v1h-1zM440,557h1v1h-1zM441,557h1v1h-1zM442,557h1v2h-1zM443,559h1v1h-1zM444,560h1v2h-1zM445,562h1v2h-1zM446,564h1v1h-1zM447,563h1v1h-1zM448,563h1v1h-1zM449,562h1v1h-1zM450,562h1v1h-1zM451,561h1v1h-1zM452,560h1v1h-1zM453,559h1v1h-1zM454,558h1v1h-1zM455,559h1v1h-1zM456,559h1v1h-1zM457,560h1v1h-1zM458,561h1v1h-1zM459,561h1v1h-1zM460,562h1v1h-1zM461,562h1v1h-1zM462,562h1v2h-1zM463,564h1v1h-1zM464,565h1v2h-1zM465,567h1v1h-1zM466,568h1v1h-1zM467,569h1v2h-1zM468,571h1v1h-1zM469,572h1v1h-1zM470,573h1v2h-1zM471,575h1v2h-1zM472,577h1v2h-1zM473,579h1v2h-1zM474,581h1v1h-1zM475,582h1v1h-1zM476,582h1v1h-1zM477,582h1v1h-1zM478,583h1v1h-1zM479,583h1v1h-1zM480,583h1v1h-1zM481,583h1v1h-1zM482,582h1v2h-1zM483,581h1v1h-1zM484,580h1v1h-1zM485,578h1v2h-1zM486,577h1v1h-1zM487,576h1v1h-1zM488,575h1v1h-1zM489,574h1v1h-1zM490,573h1v1h-1zM491,572h1v1h-1zM492,571h1v1h-1zM493,570h1v1h-1zM494,569h1v1h-1zM495,569h1v1h-1zM496,570h1v1h-1zM497,571h1v1h-1zM498,572h1v1h-1zM499,572h1v1h-1zM500,571h1v1h-1zM501,571h1v1h-1zM502,571h1v1h-1zM503,571h1v1h-1zM504,572h1v1h-1zM505,573h1v1h-1zM506,574h1v1h-1zM507,575h1v1h-1zM508,575h1v1h-1zM509,576h1v1h-1zM510,576h1v2h-1zM511,578h1v1h-1zM512,579h1v1h-1zM513,580h1v1h-1zM514,581h1v1h-1zM515,580h1v1h-1zM516,579h1v1h-1zM517,578h1v1h-1zM518,577h1v1h-1zM519,577h1v1h-1zM520,578h1v1h-1zM521,578h1v1h-1zM522,579h1v1h-1zM523,578h1v1h-1zM524,578h1v1h-1zM525,578h1v1h-1zM526,578h1v1h-1zM527,578h1v1h-1zM528,577h1v1h-1zM529,577h1v1h-1zM530,576h1v1h-1zM531,577h1v1h-1zM532,577h1v1h-1zM533,578h1v1h-1zM534,578h1v1h-1zM535,578h1v1h-1zM536,579h1v1h-1zM537,579h1v1h-1zM538,580h1v1h-1zM539,580h1v1h-1zM540,580h1v1h-1zM541,581h1v1h-1zM542,581h1v1h-1zM543,580h1v1h-1zM544,580h1v1h-1zM545,580h1v1h-1zM546,580h1v1h-1zM547,579h1v1h-1zM548,579h1v1h-1zM549,579h1v1h-1zM550,579h1v1h-1zM551,578h1v1h-1zM552,578h1v1h-1zM553,577h1v1h-1zM554,577h1v1h-1zM555,577h1v1h-1zM556,577h1v1h-1zM557,577h1v1h-1zM558,575h1v3h-1zM559,572h1v3h-1zM560,569h1v3h-1zM561,566h1v3h-1zM562,565h1v1h-1zM563,564h1v1h-1zM564,563h1v1h-1zM565,562h1v1h-1zM566,561h1v1h-1zM567,562h1v1h-1zM568,563h1v1h-1zM569,564h1v2h-1zM570,566h1v1h-1zM571,565h1v1h-1zM572,564h1v1h-1zM573,563h1v1h-1zM574,562h1v1h-1zM575,562h1v1h-1zM576,562h1v1h-1zM577,561h1v1h-1zM578,561h1v1h-1zM579,562h1v1h-1zM580,562h1v1h-1zM581,563h1v1h-1zM582,563h1v1h-1zM583,562h1v1h-1zM584,561h1v1h-1zM585,560h1v1h-1zM586,558h1v2h-1zM587,556h1v2h-1zM588,554h1v2h-1zM589,552h1v2h-1zM590,551h1v1h-1zM591,550h1v1h-1zM592,548h1v2h-1zM593,547h1v1h-1zM594,546h1v1h-1zM595,546h1v1h-1zM596,546h1v1h-1zM597,546h1v1h-1zM598,546h1v1h-1zM599,547h1v1h-1zM600,548h1v2h-1zM601,550h1v1h-1zM602,551h1v1h-1zM603,550h1v1h-1zM604,550h1v1h-1zM605,550h1v1h-1zM606,549h1v1h-1zM607,549h1v1h-1zM608,549h1v1h-1zM609,549h1v1h-1zM610,549h1v1h-1zM611,549h1v1h-1zM612,550h1v1h-1zM613,550h1v1h-1zM614,550h1v1h-1zM615,550h1v1h-1zM616,550h1v1h-1zM617,549h1v1h-1zM618,549h1v2h-1zM619,551h1v3h-1zM620,554h1v2h-1zM621,556h1v3h-1zM622,559h1v1h-1zM623,559h1v1h-1zM624,559h1v1h-1zM625,559h1v1h-1zM626,560h1v1h-1zM627,559h1v1h-1zM628,559h1v1h-1zM629,559h1v1h-1zM630,558h1v1h-1zM631,557h1v1h-1zM632,556h1v1h-1zM633,555h1v1h-1zM634,554h1v1h-1zM635,554h1v1h-1zM636,554h1v1h-1zM637,553h1v1h-1zM638,553h1v1h-1zM639,553h1v1h-1zM640,554h1v1h-1zM641,554h1v1h-1zM642,554h1v2h-1zM643,556h1v2h-1zM644,558h1v1h-1zM645,559h1v2h-1zM646,561h1v1h-1zM647,562h1v1h-1zM648,563h1v1h-1zM649,564h1v1h-1zM650,565h1v1h-1zM651,566h1v1h-1zM652,567h1v1h-1zM653,567h1v1h-1zM654,568h1v1h-1zM655,567h1v1h-1zM656,567h1v1h-1zM657,566h1v1h-1zM658,565h1v2h-1zM659,567h1v2h-1zM660,569h1v2h-1zM661,571h1v2h-1zM662,573h1v1h-1zM663,574h1v2h-1zM664,576h1v1h-1zM665,577h1v1h-1zM666,578h1v1h-1zM667,578h1v1h-1zM668,577h1v1h-1zM669,577h1v1h-1zM670,577h1v1h-1zM671,576h1v1h-1zM672,576h1v1h-1zM673,575h1v1h-1zM674,574h1v1h-1zM675,575h1v1h-1zM676,576h1v1h-1zM677,577h1v1h-1zM678,577h1v1h-1zM679,578h1v1h-1zM680,578h1v1h-1zM681,578h1v1h-1zM682,577h1v2h-1zM683,575h1v2h-1zM684,573h1v2h-1zM685,571h1v2h-1zM686,570h1v1h-1zM687,571h1v2h-1zM688,573h1v1h-1zM689,574h1v1h-1zM690,575h1v1h-1zM691,575h1v1h-1zM692,574h1v1h-1zM693,573h1v1h-1zM694,572h1v1h-1zM695,572h1v1h-1zM696,572h1v1h-1zM697,573h1v1h-1zM698,573h1v1h-1zM699,572h1v1h-1zM700,571h1v1h-1zM701,570h1v1h-1zM702,569h1v1h-1zM703,568h1v1h-1zM704,568h1v1h-1zM705,567h1v1h-1zM706,566h1v1h-1zM707,564h1v2h-1zM708,563h1v1h-1zM709,562h1v1h-1zM710,561h1v1h-1zM711,561h1v1h-1zM712,561h1v1h-1zM713,561h1v1h-1zM714,561h1v1h-1zM715,561h1v1h-1zM716,561h1v1h-1zM717,560h1v1h-1zM718,560h1v1h-1zM719,561h1v1h-1zM720,561h1v1h-1zM721,562h1v1h-1zM722,563h1v1h-1zM723,562h1v1h-1zM724,562h1v1h-1zM725,562h1v1h-1zM726,561h1v2h-1zM727,560h1v1h-1zM728,559h1v1h-1zM729,557h1v2h-1zM730,556h1v2h-1zM731,558h1v1h-1zM732,559h1v2h-1zM733,561h1v1h-1zM734,562h1v1h-1zM735,562h1v1h-1zM736,561h1v1h-1zM737,561h1v1h-1zM738,561h1v1h-1zM739,560h1v1h-1zM740,560h1v1h-1zM741,560h1v1h-1zM742,560h1v1h-1zM743,560h1v1h-1zM744,559h1v1h-1zM745,559h1v1h-1zM746,558h1v1h-1zM747,558h1v1h-1zM748,558h1v1h-1zM749,558h1v1h-1zM750,557h1v2h-1zM751,555h1v2h-1zM752,553h1v2h-1zM753,551h1v2h-1zM754,550h1v1h-1zM755,551h1v1h-1zM756,551h1v1h-1zM757,551h1v1h-1zM758,552h1v1h-1zM759,553h1v1h-1zM760,553h1v1h-1zM761,554h1v1h-1zM762,555h1v1h-1zM763,554h1v1h-1zM764,553h1v1h-1zM765,552h1v1h-1zM766,551h1v1h-1zM767,552h1v1h-1zM768,552h1v1h-1zM769,552h1v1h-1zM770,553h1v1h-1zM771,552h1v1h-1zM772,552h1v1h-1zM773,551h1v1h-1zM774,550h1v2h-1zM775,552h1v2h-1zM776,554h1v3h-1zM777,557h1v2h-1zM778,559h1v1h-1zM779,558h1v1h-1zM780,557h1v1h-1zM781,556h1v1h-1zM782,556h1v1h-1zM783,557h1v1h-1zM784,558h1v1h-1zM785,558h1v1h-1zM786,559h1v3h-1zM787,562h1v2h-1zM788,564h1v2h-1zM789,566h1v3h-1zM790,569h1v1h-1zM791,568h1v1h-1zM792,568h1v1h-1zM793,567h1v1h-1zM794,567h1v1h-1zM795,567h1v1h-1zM796,567h1v1h-1zM797,568h1v1h-1zM798,568h1v1h-1zM799,567h1v1h-1zM800,565h1v2h-1zM801,564h1v1h-1zM802,563h1v1h-1zM803,563h1v1h-1zM804,563h1v1h-1zM805,562h1v1h-1zM806,562h1v1h-1zM807,561h1v1h-1zM808,560h1v1h-1zM809,560h1v1h-1zM810,559h1v1h-1zM811,559h1v1h-1zM812,559h1v1h-1zM813,559h1v1h-1zM814,559h1v1h-1zM815,559h1v1h-1zM816,558h1v1h-1zM817,558h1v1h-1zM818,558h1v1h-1zM819,558h1v1h-1zM820,558h1v1h-1zM821,558h1v1h-1zM822,558h1v1h-1zM823,558h1v1h-1zM824,559h1v1h-1zM825,559h1v1h-1zM826,560h1v3h-1zM827,563h1v2h-1zM828,565h1v3h-1zM829,568h1v3h-1zM830,571h1v1h-1zM831,571h1v1h-1zM832,571h1v1h-1zM833,572h1v1h-1zM834,572h1v1h-1zM835,572h1v1h-1zM836,572h1v1h-1zM837,571h1v1h-1zM838,571h1v1h-1zM839,571h1v1h-1zM840,572h1v1h-1zM841,572h1v1h-1zM842,572h1v1h-1zM843,571h1v1h-1zM844,570h1v1h-1zM845,570h1v1h-1zM846,568h1v2h-1zM847,567h1v1h-1zM848,566h1v1h-1zM849,564h1v2h-1zM850,563h1v1h-1zM851,563h1v1h-1zM852,563h1v1h-1zM853,563h1v1h-1zM854,562h1v1h-1zM855,563h1v1h-1zM856,564h1v1h-1zM857,564h1v1h-1zM858,565h1v1h-1zM859,565h1v1h-1zM860,564h1v1h-1zM861,564h1v1h-1zM862,563h1v1h-1zM863,563h1v1h-1zM864,562h1v1h-1zM865,562h1v1h-1zM866,561h1v1h-1zM867,561h1v1h-1zM868,561h1v1h-1zM869,561h1v1h-1zM870,561h1v2h-1zM871,559h1v2h-1zM872,557h1v2h-1zM873,556h1v1h-1zM874,555h1v1h-1zM875,555h1v1h-1zM876,556h1v1h-1zM877,557h1v1h-1zM878,557h1v2h-1zM879,559h1v1h-1zM880,560h1v1h-1zM881,561h1v2h-1zM882,563h1v1h-1zM883,562h1v1h-1zM884,561h1v1h-1zM885,560h1v1h-1zM886,559h1v1h-1zM887,559h1v1h-1zM888,560h1v1h-1zM889,560h1v1h-1zM890,560h1v1h-1zM891,559h1v1h-1zM892,559h1v1h-1zM893,558h1v1h-1zM894,557h1v2h-1zM895,559h1v1h-1zM896,560h1v1h-1zM897,561h1v2h-1zM898,563h1v1h-1zM899,563h1v1h-1zM900,564h1v1h-1zM901,565h1v1h-1zM902,566h1v2h-1zM903,568h1v1h-1zM904,569h1v2h-1zM905,571h1v1h-1zM906,572h1v1h-1zM907,573h1v1h-1zM908,574h1v1h-1zM909,574h1v1h-1zM910,575h1v1h-1zM911,575h1v1h-1zM912,576h1v1h-1zM913,576h1v1h-1zM914,577h1v1h-1zM915,576h1v1h-1zM916,575h1v1h-1zM917,574h1v1h-1zM918,573h1v1h-1zM919,573h1v1h-1zM920,573h1v1h-1zM921,574h1v1h-1zM922,574h1v1h-1zM923,573h1v1h-1zM924,573h1v1h-1zM925,573h1v1h-1zM926,573h1v1h-1zM927,573h1v1h-1zM928,573h1v1h-1zM929,573h1v1h-1zM930,574h1v1h-1zM931,573h1v1h-1zM932,573h1v1h-1zM933,572h1v1h-1zM934,572h1v1h-1zM935,573h1v1h-1zM936,574h1v1h-1zM937,575h1v1h-1zM938,576h1v1h-1zM939,577h1v1h-1zM940,577h1v1h-1zM941,577h1v1h-1zM942,578h1v1h-1zM943,577h1v1h-1zM944,576h1v1h-1zM945,575h1v1h-1zM946,574h1v1h-1zM947,575h1v2h-1zM948,577h1v1h-1zM949,578h1v1h-1zM950,578h1v2h-1zM951,576h1v2h-1zM952,573h1v3h-1zM953,571h1v2h-1zM954,570h1v1h-1zM955,570h1v1h-1zM956,570h1v1h-1zM957,570h1v1h-1zM958,569h1v1h-1zM959,569h1v1h-1zM960,569h1v1h-1zM961,568h1v1h-1zM962,568h1v1h-1zM963,569h1v1h-1zM964,569h1v1h-1zM965,570h1v1h-1zM966,571h1v1h-1zM967,571h1v1h-1zM968,571h1v1h-1zM969,571h1v1h-1zM970,569h1v3h-1zM971,567h1v2h-1zM972,564h1v3h-1zM973,562h1v2h-1zM974,561h1v1h-1zM975,561h1v1h-1zM976,561h1v1h-1zM977,561h1v1h-1zM978,561h1v1h-1zM979,561h1v1h-1zM980,561h1v1h-1zM981,561h1v1h-1zM982,562h1v1h-1zM983,561h1v1h-1zM984,561h1v1h-1zM985,561h1v1h-1zM986,560h1v1h-1zM987,561h1v1h-1zM988,561h1v1h-1zM989,562h1v1h-1zM990,562h1v1h-1zM991,562h1v1h-1zM992,562h1v1h-1zM993,561h1v1h-1zM994,561h1v1h-1zM995,560h1v1h-1zM996,560h1v1h-1zM997,559h1v1h-1zM998,559h1v1h-1zM999,559h1v1h-1zM1000,559h1v1h-1zM1001,559h1v1h-1zM1002,559h1v2h-1zM1003,561h1v2h-1zM1004,563h1v2h-1zM1005,565h1v2h-1zM1006,567h1v1h-1zM1007,566h1v1h-1zM1008,566h1v1h-1zM1009,566h1v1h-1zM1010,566h1v1h-1zM1011,567h1v1h-1zM1012,567h1v1h-1zM1013,568h1v1h-1zM1014,569h1v2h-1zM1015,571h1v3h-1zM1016,574h1v2h-1zM1017,576h1v2h-1zM1018,577h1v2h-1zM1019,575h1v2h-1zM1020,573h1v2h-1zM1021,571h1v2h-1zM1022,570h1v1h-1zM1023,569h1v1h-1zM1024,569h1v1h-1zM1025,569h1v1h-1zM1026,568h1v1h-1zM1027,568h1v1h-1zM1028,569h1v1h-1zM1029,569h1v1h-1zM1030,569h1v1h-1zM1031,569h1v1h-1zM1032,570h1v1h-1zM1033,570h1v1h-1zM1034,571h1v1h-1zM1035,571h1v1h-1zM1036,572h1v1h-1zM1037,573h1v1h-1zM1038,573h1v1h-1zM1039,574h1v1h-1zM1040,574h1v1h-1zM1041,574h1v1h-1zM1042,575h1v2h-1zM1043,577h1v2h-1zM1044,579h1v3h-1zM1045,582h1v2h-1zM1046,584h1v1h-1zM1047,585h1v1h-1zM1048,586h1v1h-1zM1049,587h1v1h-1zM1050,588h1v1h-1zM1051,587h1v1h-1zM1052,586h1v1h-1zM1053,586h1v1h-1zM1054,585h1v1h-1zM1055,585h1v1h-1zM1056,585h1v1h-1zM1057,586h1v1h-1zM1058,586h1v1h-1zM1059,587h1v1h-1zM1060,587h1v1h-1zM1061,588h1v1h-1zM1062,588h1v1h-1zM1063,587h1v1h-1zM1064,586h1v1h-1zM1065,586h1v1h-1zM1066,581h1v5h-1zM1067,577h1v4h-1zM1068,573h1v4h-1zM1069,569h1v4h-1zM1070,568h1v1h-1zM1071,568h1v1h-1zM1072,569h1v1h-1zM1073,569h1v1h-1zM1074,570h1v1h-1zM1075,570h1v1h-1zM1076,571h1v1h-1zM1077,571h1v1h-1zM1078,571h1v1h-1zM1079,572h1v1h-1zM1080,572h1v1h-1zM1081,572h1v1h-1zM1082,572h1v1h-1zM1083,573h1v1h-1zM1084,573h1v1h-1zM1085,573h1v1h-1zM1086,574h1v1h-1zM1087,574h1v1h-1zM1088,573h1v1h-1zM1089,573h1v1h-1zM1090,572h1v2h-1zM1091,570h1v2h-1zM1092,568h1v2h-1zM1093,566h1v2h-1zM1094,565h1v1h-1zM1095,565h1v1h-1zM1096,564h1v1h-1zM1097,563h1v1h-1zM1098,563h1v1h-1zM1099,563h1v1h-1zM1100,564h1v1h-1zM1101,564h1v1h-1zM1102,564h1v1h-1zM1103,565h1v1h-1zM1104,565h1v1h-1zM1105,566h1v1h-1zM1106,566h1v1h-1zM1107,567h1v1h-1zM1108,567h1v1h-1zM1109,568h1v1h-1zM1110,569h1v1h-1zM1111,569h1v1h-1zM1112,569h1v1h-1zM1113,569h1v1h-1zM1114,569h1v1h-1zM1115,569h1v1h-1zM1116,568h1v1h-1zM1117,568h1v1h-1zM1118,567h1v1h-1zM1119,567h1v1h-1zM1120,568h1v1h-1zM1121,568h1v1h-1zM1122,568h1v1h-1zM1123,569h1v1h-1zM1124,569h1v1h-1zM1125,569h1v1h-1zM1126,569h1v1h-1zM1127,569h1v1h-1zM1128,569h1v1h-1zM1129,568h1v1h-1zM1130,568h1v1h-1zM1131,568h1v1h-1zM1132,568h1v1h-1zM1133,568h1v1h-1zM1134,569h1v1h-1zM1135,567h1v2h-1zM1136,566h1v1h-1zM1137,565h1v1h-1zM1138,564h1v1h-1zM1139,562h1v2h-1zM1140,561h1v1h-1zM1141,559h1v2h-1zM1142,558h1v3h-1zM1143,561h1v2h-1zM1144,563h1v2h-1zM1145,565h1v3h-1zM1146,568h1v1h-1zM1147,568h1v1h-1zM1148,569h1v1h-1zM1149,569h1v1h-1zM1150,570h1v1h-1zM1151,570h1v1h-1zM1152,571h1v1h-1zM1153,571h1v1h-1zM1154,572h1v1h-1zM1155,572h1v1h-1zM1156,572h1v1h-1zM1157,572h1v1h-1zM1158,572h1v1h-1zM1159,572h1v1h-1zM1160,572h1v1h-1zM1161,572h1v1h-1zM1162,572h1v1h-1zM1163,571h1v1h-1zM1164,569h1v2h-1zM1165,568h1v1h-1zM1166,567h1v1h-1zM1167,568h1v1h-1zM1168,569h1v1h-1zM1169,569h1v1h-1zM1170,570h1v1h-1zM1171,570h1v1h-1zM1172,570h1v1h-1zM1173,570h1v1h-1zM1174,570h1v2h-1zM1175,569h1v1h-1zM1176,568h1v1h-1zM1177,566h1v2h-1zM1178,565h1v1h-1zM1179,565h1v1h-1zM1180,565h1v1h-1zM1181,565h1v1h-1zM1182,565h1v3h-1zM1183,568h1v2h-1zM1184,570h1v3h-1zM1185,573h1v2h-1zM1186,575h1v2h-1zM1187,577h1v2h-1zM1188,579h1v1h-1zM1189,580h1v2h-1zM1190,582h1v1h-1zM1191,583h1v1h-1zM1192,584h1v1h-1zM1193,585h1v1h-1zM1194,586h1v1h-1zM1195,586h1v1h-1zM1196,585h1v1h-1zM1197,584h1v1h-1zM1198,583h1v1h-1zM1199,583h1v1h-1zM1200,583h1v1h-1zM1201,584h1v1h-1zM1202,584h1v1h-1zM1203,583h1v1h-1zM1204,583h1v1h-1zM1205,583h1v1h-1zM1206,582h1v1h-1zM1207,580h1v2h-1zM1208,579h1v1h-1zM1209,578h1v1h-1zM1210,577h1v1h-1zM1211,576h1v1h-1zM1212,576h1v1h-1zM1213,576h1v1h-1zM1214,576h1v1h-1zM1215,576h1v1h-1zM1216,576h1v1h-1zM1217,576h1v1h-1zM1218,576h1v1h-1zM1219,576h1v1h-1zM1220,576h1v1h-1zM1221,576h1v1h-1zM1222,577h1v1h-1zM1223,577h1v1h-1zM1224,577h1v1h-1zM1225,577h1v1h-1zM1226,577h1v1h-1zM1227,576h1v1h-1zM1228,576h1v1h-1zM1229,575h1v1h-1zM1230,574h1v1h-1zM1231,574h1v1h-1zM1232,574h1v1h-1zM1233,575h1v1h-1zM1234,575h1v1h-1zM1235,574h1v1h-1zM1236,574h1v1h-1zM1237,574h1v1h-1zM1238,573h1v1h-1zM1239,574h1v1h-1zM1240,575h1v1h-1zM1241,576h1v1h-1zM1242,576h1v1h-1zM1243,575h1v1h-1zM1244,574h1v1h-1zM1245,573h1v1h-1zM1246,572h1v1h-1zM1247,573h1v1h-1zM1248,573h1v1h-1zM1249,574h1v1h-1zM1250,574h1v1h-1zM1251,573h1v1h-1zM1252,573h1v1h-1zM1253,572h1v1h-1zM1254,571h1v1h-1zM1255,571h1v1h-1zM1256,572h1v1h-1zM1257,572h1v1h-1zM1258,573h1v1h-1zM1259,573h1v1h-1zM1260,574h1v1h-1zM1261,574h1v1h-1zM1262,575h1v1h-1zM1263,575h1v1h-1zM1264,575h1v1h-1zM1265,575h1v1h-1zM1266,575h1v5h-1zM1267,580h1v5h-1zM1268,585h1v5h-1zM1269,590h1v5h-1zM1270,595h1v1h-1zM1271,595h1v1h-1zM1272,595h1v1h-1zM1273,596h1v1h-1zM1274,596h1v1h-1zM1275,596h1v1h-1zM1276,596h1v1h-1zM1277,596h1v1h-1zM1278,596h1v1h-1z" fill="#1e90ff"/></g>
<text x="1613.8" y="533" font-size="10" fill="#000" stroke="#000" stroke-width="0.2" textLength="14.8" lengthAdjust="spacingAndGlyphs" shape-rendering="auto" >100</text>
<text x="1613.8" y="554" font-size="10" fill="#000" stroke="#000" stroke-width="0.2" textLength="9.8" lengthAdjust="spacingAndGlyphs" shape-rendering="auto" >70</text>
<text x="1613.8" y="590" font-size="10" fill="#000" stroke="#000" stroke-width="0.2" textLength="9.8" lengthAdjust="spacingAndGlyphs" shape-rendering="auto" >30</text>
<text x="1613.8" y="610" font-size="10" fill="#000" stroke="#000" stroke-width="0.2" textLength="5.3" lengthAdjust="spacingAndGlyphs" shape-rendering="auto" >0</text>
<g clip-path="url(#cc)"><rect x="2" y="662" width="1" height="3" fill="#c0c0c0"/>
<rect x="6" y="662" width="1" height="4" fill="#c0c0c0"/>
<rect x="10" y="662" width="1" height="4" fill="#c0c0c0"/>
<rect x="14" y="661" width="1" height="1" fill="#c0c0c0"/>
<rect x="18" y="657" width="1" height="5" fill="#c0c0c0"/>
<rect x="22" y="653" width="1" height="9" fill="#c0c0c0"/>
<rect x="26" y="650" width="1" height="12" fill="#c0c0c0"/>
<rect x="30" y="649" width="1" height="13" fill="#c0c0c0"/>
<rect x="34" y="647" width="1" height="15" fill="#c0c0c0"/>
<rect x="38" y="643" width="1" height="19" fill="#c0c0c0"/>
<rect x="42" y="640" width="1" height="22" fill="#c0c0c0"/>
<rect x="46" y="635" width="1" height="27" fill="#c0c0c0"/>
<rect x="50" y="631" width="1" height="31" fill="#c0c0c0"/>
<rect x="54" y="629" width="1" height="33" fill="#c0c0c0"/>
<rect x="58" y="626" width="1" height="36" fill="#c0c0c0"/>
<rect x="62" y="624" width="1" height="38" fill="#c0c0c0"/>
<rect x="66" y="623" width="1" height="39" fill="#c0c0c0"/>
<rect x="70" y="624" width="1" height="38" fill="#c0c0c0"/>
<rect x="74" y="626" width="1" height="36" fill="#c0c0c0"/>
<rect x="78" y="628" width="1" height="34" fill="#c0c0c0"/>
<rect x="82" y="630" width="1" height="32" fill="#c0c0c0"/>
<rect x="86" y="629" width="1" height="33" fill="#c0c0c0"/>
<rect x="90" y="628" width="1" height="34" fill="#c0c0c0"/>
<rect x="94" y="626" width="1" height="36" fill="#c0c0c0"/>
<rect x="98" y="626" width="1" height="36" fill="#c0c0c0"/>
<rect x="102" y="628" width="1" height="34" fill="#c0c0c0"/>
<rect x="106" y="630" width="1" height="32" fill="#c0c0c0"/>
<rect x="110" y="633" width="1" height="29" fill="#c0c0c0"/>
<rect x="114" y="634" width="1" height="28" fill="#c0c0c0"/>
<rect x="118" y="634" width="1" height="28" fill="#c0c0c0"/>
<rect x="122" y="637" width="1" height="25" fill="#c0c0c0"/>
<rect x="126" y="639" width="1" height="23" fill="#c0c0c0"/>
<rect x="130" y="639" width="1" height="23" fill="#c0c0c0"/>
<rect x="134" y="639" width="1" height="23" fill="#c0c0c0"/>
<rect x="138" y="640" width="1" height="22" fill="#c0c0c0"/>
<rect x="142" y="640" width="1" height="22" fill="#c0c0c0"/>
<rect x="146" y="641" width="1" height="21" fill="#c0c0c0"/>
<rect x="150" y="643" width="1" height="19" fill="#c0c0c0"/>
<rect x="154" y="645" width="1" height="17" fill="#c0c0c0"/>
<rect x="158" y="642" width="1" height="20" fill="#c0c0c0"/>
<rect x="162" y="640" width="1" height="22" fill="#c0c0c0"/>
<rect x="166" y="637" width="1" height="25" fill="#c0c0c0"/>
<rect x="170" y="635" width="1" height="27" fill="#c0c0c0"/>
<rect x="174" y="633" width="1" height="29" fill="#c0c0c0"/>
<rect x="178" y="633" width="1" height="29" fill="#c0c0c0"/>
<rect x="182" y="632" width="1" height="30" fill="#c0c0c0"/>
<rect x="186" y="631" width="1" height="31" fill="#c0c0c0"/>
<rect x="190" y="629" width="1" height="33" fill="#c0c0c0"/>
<rect x="194" y="630" width="1" height="32" fill="#c0c0c0"/>
<rect x="198" y="630" width="1" height="32" fill="#c0c0c0"/>
<rect x="202" y="630" width="1" height="32" fill="#c0c0c0"/>
<rect x="206" y="632" width="1" height="30" fill="#c0c0c0"/>
<rect x="210" y="634" width="1" height="28" fill="#c0c0c0"/>
<rect x="214" y="635" width="1" height="27" fill="#c0c0c0"/>
<rect x="218" y="637" width="1" height="25" fill="#c0c0c0"/>
<rect x="222" y="639" width="1" height="23" fill="#c0c0c0"/>
<rect x="226" y="639" width="1" height="23" fill="#c0c0c0"/>
<rect x="230" y="639" width="1" height="23" fill="#c0c0c0"/>
<rect x="234" y="640" width="1" height="22" fill="#c0c0c0"/>
<rect x="238" y="641" width="1" height="21" fill="#c0c0c0"/>
<rect x="242" y="645" width="1" height="17" fill="#c0c0c0"/>
<rect x="246" y="645" width="1" height="17" fill="#c0c0c0"/>
<rect x="250" y="639" width="1" height="23" fill="#c0c0c0"/>
<rect x="254" y="637" width="1" height="25" fill="#c0c0c0"/>
<rect x="258" y="635" width="1" height="27" fill="#c0c0c0"/>
<rect x="262" y="632" width="1" height="30" fill="#c0c0c0"/>
<rect x="266" y="630" width="1" height="32" fill="#c0c0c0"/>
<rect x="270" y="627" width="1" height="35" fill="#c0c0c0"/>
<rect x="274" y="626" width="1" height="36" fill="#c0c0c0"/>
<rect x="278" y="627" width="1" height="35" fill="#c0c0c0"/>
<rect x="282" y="627" width="1" height="35" fill="#c0c0c0"/>
<rect x="286" y="629" width="1" height="33" fill="#c0c0c0"/>
<rect x="290" y="631" width="1" height="31" fill="#c0c0c0"/>
<rect x="294" y="633" width="1" height="29" fill="#c0c0c0"/>
<rect x="298" y="638" width="1" height="24" fill="#c0c0c0"/>
<rect x="302" y="641" width="1" height="21" fill="#c0c0c0"/>
<rect x="306" y="641" width="1" height="21" fill="#c0c0c0"/>
<rect x="310" y="642" width="1" height="20" fill="#c0c0c0"/>
<rect x="314" y="642" width="1" height="20" fill="#c0c0c0"/>
<rect x="318" y="643" width="1" height="19" fill="#c0c0c0"/>
<rect x="322" y="643" width="1" height="19" fill="#c0c0c0"/>
<rect x="326" y="645" width="1" height="17" fill="#c0c0c0"/>
<rect x="330" y="648" width="1" height="14" fill="#c0c0c0"/>
<rect x="334" y="651" width="1" height="11" fill="#c0c0c0"/>
<rect x="338" y="651" width="1" height="11" fill="#c0c0c0"/>
<rect x="342" y="652" width="1" height="10" fill="#c0c0c0"/>
<rect x="346" y="650" width="1" height="12" fill="#c0c0c0"/>
<rect x="350" y="648" width="1" height="14" fill="#c0c0c0"/>
<rect x="354" y="646" width="1" height="16" fill="#c0c0c0"/>
<rect x="358" y="642" width="1" height="20" fill="#c0c0c0"/>
<rect x="362" y="637" width="1" height="25" fill="#c0c0c0"/>
<rect x="366" y="636" width="1" height="26" fill="#c0c0c0"/>
<rect x="370" y="635" width="1" height="27" fill="#c0c0c0"/>
<rect x="374" y="636" width="1" height="26" fill="#c0c0c0"/>
<rect x="378" y="637" width="1" height="25" fill="#c0c0c0"/>
<rect x="382" y="637" width="1" height="25" fill="#c0c0c0"/>
<rect x="386" y="639" width="1" height="23" fill="#c0c0c0"/>
<rect x="390" y="641" width="1" height="21" fill="#c0c0c0"/>
<rect x="394" y="643" width="1" height="19" fill="#c0c0c0"/>
<rect x="398" y="644" width="1" height="18" fill="#c0c0c0"/>
<rect x="402" y="645" width="1" height="17" fill="#c0c0c0"/>
<rect x="406" y="645" width="1" height="17" fill="#c0c0c0"/>
<rect x="410" y="646" width="1" height="16" fill="#c0c0c0"/>
<rect x="414" y="648" width="1" height="14" fill="#c0c0c0"/>
<rect x="418" y="650" width="1" height="12" fill="#c0c0c0"/>
<rect x="422" y="651" width="1" height="11" fill="#c0c0c0"/>
<rect x="426" y="649" width="1" height="13" fill="#c0c0c0"/>
<rect x="430" y="645" width="1" height="17" fill="#c0c0c0"/>
<rect x="434" y="641" width="1" height="21" fill="#c0c0c0"/>
<rect x="438" y="639" width="1" height="23" fill="#c0c0c0"/>
<rect x="442" y="639" width="1" height="23" fill="#c0c0c0"/>
<rect x="446" y="640" width="1" height="22" fill="#c0c0c0"/>
<rect x="450" y="641" width="1" height="21" fill="#c0c0c0"/>
<rect x="454" y="640" width="1" height="22" fill="#c0c0c0"/>
<rect x="458" y="641" width="1" height="21" fill="#c0c0c0"/>
<rect x="462" y="642" width="1" height="20" fill="#c0c0c0"/>
<rect x="466" y="645" width="1" height="17" fill="#c0c0c0"/>
<rect x="470" y="650" width="1" height="12" fill="#c0c0c0"/>
<rect x="474" y="658" width="1" height="4" fill="#c0c0c0"/>
<rect x="478" y="662" width="1" height="3" fill="#c0c0c0"/>
<rect x="482" y="662" width="1" height="9" fill="#c0c0c0"/>
<rect x="486" y="662" width="1" height="11" fill="#c0c0c0"/>
<rect x="490" y="662" width="1" height="11" fill="#c0c0c0"/>
<rect x="494" y="662" width="1" height="10" fill="#c0c0c0"/>
<rect x="498" y="662" width="1" height="10" fill="#c0c0c0"/>
<rect x="502" y="662" width="1" height="9" fill="#c0c0c0"/>
<rect x="506" y="662" width="1" height="10" fill="#c0c0c0"/>
<rect x="510" y="662" width="1" height="12" fill="#c0c0c0"/>
<rect x="514" y="662" width="1" height="16" fill="#c0c0c0"/>
<rect x="518" y="662" width="1" height="17" fill="#c0c0c0"/>
<rect x="522" y="662" width="1" height="19" fill="#c0c0c0"/>
<rect x="526" y="662" width="1" height="20" fill="#c0c0c0"/>
<rect x="530" y="662" width="1" height="20" fill="#c0c0c0"/>
<rect x="534" y="662" width="1" height="21" fill="#c0c0c0"/>
<rect x="538" y="662" width="1" height="22" fill="#c0c0c0"/>
<rect x="542" y="662" width="1" height="23" fill="#c0c0c0"/>
<rect x="546" y="662" width="1" height="23" fill="#c0c0c0"/>
<rect x="550" y="662" width="1" height="23" fill="#c0c0c0"/>
<rect x="554" y="662" width="1" height="22" fill="#c0c0c0"/>
<rect x="558" y="662" width="1" height="21" fill="#c0c0c0"/>
<rect x="562" y="662" width="1" height="17" fill="#c0c0c0"/>
<rect x="566" y="662" width="1" height="11" fill="#c0c0c0"/>
<rect x="570" y="662" width="1" height="8" fill="#c0c0c0"/>
<rect x="574" y="662" width="1" height="4" fill="#c0c0c0"/>
<rect x="578" y="662" width="1" height="1" fill="#c0c0c0"/>
<rect x="582" y="661" width="1" height="1" fill="#c0c0c0"/>
<rect x="586" y="658" width="1" height="4" fill="#c0c0c0"/>
<rect x="590" y="651" width="1" height="11" fill="#c0c0c0"/>
<rect x="594" y="642" width="1" height="20" fill="#c0c0c0"/>
<rect x="598" y="635" width="1" height="27" fill="#c0c0c0"/>
<rect x="602" y="631" width="1" height="31" fill="#c0c0c0"/>
<rect x="606" y="627" width="1" height="35" fill="#c0c0c0"/>
<rect x="610" y="625" width="1" height="37" fill="#c0c0c0"/>
<rect x="614" y="623" width="1" height="39" fill="#c0c0c0"/>
<rect x="618" y="622" width="1" height="40" fill="#c0c0c0"/>
<rect x="622" y="624" width="1" height="38" fill="#c0c0c0"/>
<rect x="626" y="626" width="1" height="36" fill="#c0c0c0"/>
<rect x="630" y="628" width="1" height="34" fill="#c0c0c0"/>
<rect x="634" y="628" width="1" height="34" fill="#c0c0c0"/>
<rect x="638" y="627" width="1" height="35" fill="#c0c0c0"/>
<rect x="642" y="627" width="1" height="35" fill="#c0c0c0"/>
<rect x="646" y="630" width="1" height="32" fill="#c0c0c0"/>
<rect x="650" y="633" width="1" height="29" fill="#c0c0c0"/>
<rect x="654" y="638" width="1" height="24" fill="#c0c0c0"/>
<rect x="658" y="640" width="1" height="22" fill="#c0c0c0"/>
<rect x="662" y="646" width="1" height="16" fill="#c0c0c0"/>
<rect x="666" y="653" width="1" height="9" fill="#c0c0c0"/>
<rect x="670" y="658" width="1" height="4" fill="#c0c0c0"/>
<rect x="674" y="661" width="1" height="1" fill="#c0c0c0"/>
<rect x="678" y="662" width="1" height="3" fill="#c0c0c0"/>
<rect x="682" y="662" width="1" height="7" fill="#c0c0c0"/>
<rect x="686" y="662" width="1" height="7" fill="#c0c0c0"/>
<rect x="690" y="662" width="1" height="9" fill="#c0c0c0"/>
<rect x="694" y="662" width="1" height="9" fill="#c0c0c0"/>
<rect x="698" y="662" width="1" height="10" fill="#c0c0c0"/>
<rect x="702" y="662" width="1" height="9" fill="#c0c0c0"/>
<rect x="706" y="662" width="1" height="6" fill="#c0c0c0"/>
<rect x="710" y="662" width="1" height="2" fill="#c0c0c0"/>
<rect x="714" y="660" width="1" height="2" fill="#c0c0c0"/>
<rect x="718" y="657" width="1" height="5" fill="#c0c0c0"/>
<rect x="722" y="655" width="1" height="7" fill="#c0c0c0"/>
<rect x="726" y="653" width="1" height="9" fill="#c0c0c0"/>
<rect x="730" y="650" width="1" height="12" fill="#c0c0c0"/>
<rect x="734" y="649" width="1" height="13" fill="#c0c0c0"/>
<rect x="738" y="647" width="1" height="15" fill="#c0c0c0"/>
<rect x="742" y="646" width="1" height="16" fill="#c0c0c0"/>
<rect x="746" y="645" width="1" height="17" fill="#c0c0c0"/>
<rect x="750" y="644" width="1" height="18" fill="#c0c0c0"/>
<rect x="754" y="638" width="1" height="24" fill="#c0c0c0"/>
<rect x="758" y="635" width="1" height="27" fill="#c0c0c0"/>
<rect x="762" y="633" width="1" height="29" fill="#c0c0c0"/>
<rect x="766" y="630" width="1" height="32" fill="#c0c0c0"/>
<rect x="770" y="629" width="1" height="33" fill="#c0c0c0"/>
<rect x="774" y="626" width="1" height="36" fill="#c0c0c0"/>
<rect x="778" y="627" width="1" height="35" fill="#c0c0c0"/>
<rect x="782" y="627" width="1" height="35" fill="#c0c0c0"/>
<rect x="786" y="628" width="1" height="34" fill="#c0c0c0"/>
<rect x="790" y="633" width="1" height="29" fill="#c0c0c0"/>
<rect x="794" y="637" width="1" height="25" fill="#c0c0c0"/>
<rect x="798" y="641" width="1" height="21" fill="#c0c0c0"/>
<rect x="802" y="642" width="1" height="20" fill="#c0c0c0"/>
<rect x="806" y="642" width="1" height="20" fill="#c0c0c0"/>
<rect x="810" y="640" width="1" height="22" fill="#c0c0c0"/>
<rect x="814" y="639" width="1" height="23" fill="#c0c0c0"/>
<rect x="818" y="639" width="1" height="23" fill="#c0c0c0"/>
<rect x="822" y="638" width="1" height="24" fill="#c0c0c0"/>
<rect x="826" y="639" width="1" height="23" fill="#c0c0c0"/>
<rect x="830" y="643" width="1" height="19" fill="#c0c0c0"/>
<rect x="834" y="648" width="1" height="14" fill="#c0c0c0"/>
<rect x="838" y="651" width="1" height="11" fill="#c0c0c0"/>
<rect x="842" y="654" width="1" height="8" fill="#c0c0c0"/>
<rect x="846" y="656" width="1" height="6" fill="#c0c0c0"/>
<rect x="850" y="655" width="1" height="7" fill="#c0c0c0"/>
<rect x="854" y="653" width="1" height="9" fill="#c0c0c0"/>
<rect x="858" y="653" width="1" height="9" fill="#c0c0c0"/>
<rect x="862" y="653" width="1" height="9" fill="#c0c0c0"/>
<rect x="866" y="652" width="1" height="10" fill="#c0c0c0"/>
<rect x="870" y="651" width="1" height="11" fill="#c0c0c0"/>
<rect x="874" y="648" width="1" height="14" fill="#c0c0c0"/>
<rect x="878" y="646" width="1" height="16" fill="#c0c0c0"/>
<rect x="882" y="646" width="1" height="16" fill="#c0c0c0"/>
<rect x="886" y="645" width="1" height="17" fill="#c0c0c0"/>
<rect x="890" y="645" width="1" height="17" fill="#c0c0c0"/>
<rect x="894" y="643" width="1" height="19" fill="#c0c0c0"/>
<rect x="898" y="644" width="1" height="18" fill="#c0c0c0"/>
<rect x="902" y="646" width="1" height="16" fill="#c0c0c0"/>
<rect x="906" y="650" width="1" height="12" fill="#c0c0c0"/>
<rect x="910" y="655" width="1" height="7" fill="#c0c0c0"/>
<rect x="914" y="659" width="1" height="3" fill="#c0c0c0"/>
<rect x="918" y="661" width="1" height="1" fill="#c0c0c0"/>
<rect x="922" y="662" width="1" height="1" fill="#c0c0c0"/>
<rect x="926" y="662" width="1" height="2" fill="#c0c0c0"/>
<rect x="930" y="662" width="1" height="4" fill="#c0c0c0"/>
<rect x="934" y="662" width="1" height="4" fill="#c0c0c0"/>
<rect x="938" y="662" width="1" height="6" fill="#c0c0c0"/>
<rect x="942" y="662" width="1" height="8" fill="#c0c0c0"/>
<rect x="946" y="662" width="1" height="9" fill="#c0c0c0"/>
<rect x="950" y="662" width="1" height="11" fill="#c0c0c0"/>
<rect x="954" y="662" width="1" height="10" fill="#c0c0c0"/>
<rect x="958" y="662" width="1" height="9" fill="#c0c0c0"/>
<rect x="962" y="662" width="1" height="7" fill="#c0c0c0"/>
<rect x="966" y="662" width="1" height="7" fill="#c0c0c0"/>
<rect x="970" y="662" width="1" height="6" fill="#c0c0c0"/>
<rect x="974" y="662" width="1" height="3" fill="#c0c0c0"/>
<rect x="978" y="661" width="1" height="1" fill="#c0c0c0"/>
<rect x="982" y="659" width="1" height="3" fill="#c0c0c0"/>
<rect x="986" y="657" width="1" height="5" fill="#c0c0c0"/>
<rect x="990" y="656" width="1" height="6" fill="#c0c0c0"/>
<rect x="994" y="655" width="1" height="7" fill="#c0c0c0"/>
<rect x="998" y="653" width="1" height="9" fill="#c0c0c0"/>
<rect x="1002" y="652" width="1" height="10" fill="#c0c0c0"/>
<rect x="1006" y="653" width="1" height="9" fill="#c0c0c0"/>
<rect x="1010" y="653" width="1" height="9" fill="#c0c0c0"/>
<rect x="1014" y="655" width="1" height="7" fill="#c0c0c0"/>
<rect x="1018" y="659" width="1" height="3" fill="#c0c0c0"/>
<rect x="1022" y="660" width="1" height="2" fill="#c0c0c0"/>
<rect x="1026" y="660" width="1" height="2" fill="#c0c0c0"/>
<rect x="1030" y="661" width="1" height="1" fill="#c0c0c0"/>
<rect x="1034" y="662" width="1" height="1" fill="#c0c0c0"/>
<rect x="1038" y="662" width="1" height="1" fill="#c0c0c0"/>
<rect x="1042" y="662" width="1" height="3" fill="#c0c0c0"/>
<rect x="1046" y="662" width="1" height="8" fill="#c0c0c0"/>
<rect x="1050" y="662" width="1" height="15" fill="#c0c0c0"/>
<rect x="1054" y="662" width="1" height="19" fill="#c0c0c0"/>
<rect x="1058" y="662" width="1" height="23" fill="#c0c0c0"/>
<rect x="1062" y="662" width="1" height="27" fill="#c0c0c0"/>
<rect x="1066" y="662" width="1" height="29" fill="#c0c0c0"/>
<rect x="1070" y="662" width="1" height="24" fill="#c0c0c0"/>
<rect x="1074" y="662" width="1" height="21" fill="#c0c0c0"/>
<rect x="1078" y="662" width="1" height="19" fill="#c0c0c0"/>
<rect x="1082" y="662" width="1" height="18" fill="#c0c0c0"/>
<rect x="1086" y="662" width="1" height="17" fill="#c0c0c0"/>
<rect x="1090" y="662" width="1" height="16" fill="#c0c0c0"/>
<rect x="1094" y="662" width="1" height="12" fill="#c0c0c0"/>
<rect x="1098" y="662" width="1" height="8" fill="#c0c0c0"/>
<rect x="1102" y="662" width="1" height="5" fill="#c0c0c0"/>
<rect x="1106" y="662" width="1" height="3" fill="#c0c0c0"/>
<rect x="1110" y="662" width="1" height="3" fill="#c0c0c0"/>
<rect x="1114" y="662" width="1" height="3" fill="#c0c0c0"/>
<rect x="1118" y="662" width="1" height="2" fill="#c0c0c0"/>
<rect x="1122" y="662" width="1" height="1" fill="#c0c0c0"/>
<rect x="1126" y="662" width="1" height="1" fill="#c0c0c0"/>
<rect x="1130" y="662" width="1" height="1" fill="#c0c0c0"/>
<rect x="1134" y="662" width="1" height="1" fill="#c0c0c0"/>
<rect x="1138" y="661" width="1" height="1" fill="#c0c0c0"/>
<rect x="1142" y="658" width="1" height="4" fill="#c0c0c0"/>
<rect x="1146" y="658" width="1" height="4" fill="#c0c0c0"/>
<rect x="1150" y="659" width="1" height="3" fill="#c0c0c0"/>
<rect x="1154" y="661" width="1" height="1" fill="#c0c0c0"/>
<rect x="1158" y="662" width="1" height="1" fill="#c0c0c0"/>
<rect x="1162" y="662" width="1" height="1" fill="#c0c0c0"/>
<rect x="1166" y="662" width="1" height="1" fill="#c0c0c0"/>
<rect x="1170" y="662" width="1" height="1" fill="#c0c0c0"/>
<rect x="1174" y="662" width="1" height="2" fill="#c0c0c0"/>
<rect x="1178" y="662" width="1" height="1" fill="#c0c0c0"/>
<rect x="1182" y="661" width="1" height="1" fill="#c0c0c0"/>
<rect x="1186" y="662" width="1" height="2" fill="#c0c0c0"/>
<rect x="1190" y="662" width="1" height="7" fill="#c0c0c0"/>
<rect x="1194" y="662" width="1" height="13" fill="#c0c0c0"/>
<rect x="1198" y="662" width="1" height="17" fill="#c0c0c0"/>
<rect x="1202" y="662" width="1" height="21" fill="#c0c0c0"/>
<rect x="1206" y="662" width="1" height="23" fill="#c0c0c0"/>
<rect x="1210" y="662" width="1" height="22" fill="#c0c0c0"/>
<rect x="1214" y="662" width="1" height="21" fill="#c0c0c0"/>
<rect x="1218" y="662" width="1" height="20" fill="#c0c0c0"/>
<rect x="1222" y="662" width="1" height="20" fill="#c0c0c0"/>
<rect x="1226" y="662" width="1" height="19" fill="#c0c0c0"/>
<rect x="1230" y="662" width="1" height="18" fill="#c0c0c0"/>
<rect x="1234" y="662" width="1" height="17" fill="#c0c0c0"/>
<rect x="1238" y="662" width="1" height="16" fill="#c0c0c0"/>
<rect x="1242" y="662" width="1" height="15" fill="#c0c0c0"/>
<rect x="1246" y="662" width="1" height="14" fill="#c0c0c0"/>
<rect x="1250" y="662" width="1" height="13" fill="#c0c0c0"/>
<rect x="1254" y="662" width="1" height="12" fill="#c0c0c0"/>
<rect x="1258" y="662" width="1" height="11" fill="#c0c0c0"/>
<rect x="1262" y="662" width="1" height="11" fill="#c0c0c0"/>
<rect x="1266" y="662" width="1" height="11" fill="#c0c0c0"/>
<rect x="1270" y="662" width="1" height="21" fill="#c0c0c0"/>
<rect x="1274" y="662" width="1" height="31" fill="#c0c0c0"/>
<rect x="1278" y="662" width="1" height="38" fill="#c0c0c0"/>
<polyline points="2.5,676.1 6.5,673.6 10.5,671.3 14.5,668.8 18.5,666.2 22.5,663.7 26.5,661.4 30.5,659.2 34.5,657.0 38.5,654.6 42.5,651.7 46.5,648.3 50.5,644.9 54.5,641.9 58.5,638.9 62.5,636.0 66.5,633.2 70.5,630.7 74.5,628.8 78.5,627.5 82.5,627.0 86.5,626.7 90.5,626.5 94.5,626.5 98.5,626.7 102.5,627.3 106.5,627.9 110.5,628.6 114.5,629.3 118.5,629.8 122.5,630.6 126.5,631.9 130.5,633.2 134.5,634.7 138.5,636.0 142.5,637.1 146.5,638.0 150.5,639.1 154.5,640.3 158.5,640.9 162.5,641.1 166.5,640.9 170.5,640.5 174.5,639.8 178.5,639.0 182.5,638.0 186.5,636.5 190.5,634.8 194.5,633.4 198.5,632.2 202.5,631.4 206.5,631.1 210.5,631.2 214.5,631.5 218.5,632.1 222.5,633.0 226.5,634.1 230.5,635.2 234.5,636.3 238.5,637.5 242.5,638.9 246.5,640.0 250.5,640.5 254.5,640.4 258.5,640.0 262.5,639.2 266.5,638.2 270.5,636.8 274.5,635.1 278.5,633.1 282.5,631.1 286.5,630.1 290.5,629.4 294.5,629.3 298.5,629.9 302.5,631.1 306.5,632.7 310.5,634.4 314.5,636.2 318.5,637.9 322.5,639.5 326.5,641.0 330.5,642.7 334.5,644.1 338.5,645.2 342.5,646.4 346.5,647.3 350.5,647.9 354.5,648.2 358.5,648.0 362.5,647.2 366.5,645.8 370.5,644.1 374.5,642.4 378.5,640.7 382.5,639.3 386.5,638.3 390.5,637.8 394.5,637.9 398.5,638.6 402.5,639.6 406.5,640.7 410.5,641.7 414.5,643.0 418.5,644.4 422.5,645.7 426.5,646.7 430.5,646.9 434.5,646.6 438.5,646.0 442.5,645.3 446.5,644.7 450.5,644.0 454.5,642.9 458.5,641.8 462.5,641.0 466.5,641.0 470.5,641.9 474.5,644.0 478.5,646.9 482.5,650.3 486.5,653.8 490.5,657.5 494.5,660.9 498.5,664.2 502.5,667.1 506.5,669.6 510.5,671.4 514.5,672.8 518.5,673.7 522.5,674.6 526.5,675.6 530.5,676.8 534.5,678.0 538.5,679.5 542.5,680.9 546.5,682.1 550.5,682.9 554.5,683.5 558.5,683.7 562.5,683.4 566.5,682.4 570.5,681.0 574.5,679.1 578.5,676.6 582.5,673.9 586.5,670.9 590.5,667.2 594.5,662.6 598.5,657.7 602.5,653.0 606.5,648.2 610.5,643.6 614.5,639.2 618.5,634.8 622.5,631.0 626.5,628.2 630.5,626.7 634.5,625.9 638.5,625.5 642.5,625.5 646.5,626.0 650.5,627.2 654.5,629.0 658.5,630.8 662.5,633.0 666.5,635.7 670.5,639.1 674.5,642.9 678.5,647.2 682.5,651.5 686.5,655.4 690.5,659.1 694.5,662.6 698.5,665.5 702.5,667.4 706.5,668.6 710.5,668.8 714.5,668.2 718.5,666.9 722.5,665.4 726.5,663.4 730.5,661.0 734.5,658.5 738.5,655.9 742.5,653.4 746.5,651.3 750.5,649.5 754.5,647.4 758.5,645.2 762.5,643.0 766.5,640.8 770.5,638.6 774.5,636.2 778.5,634.0 782.5,632.0 786.5,630.3 790.5,629.8 794.5,630.0 798.5,630.9 802.5,632.2 806.5,633.6 810.5,635.2 814.5,636.6 818.5,637.9 822.5,639.1 826.5,639.6 830.5,640.3 834.5,641.0 838.5,642.1 842.5,643.5 846.5,645.2 850.5,646.9 854.5,648.5 858.5,650.2 862.5,651.8 866.5,652.8 870.5,653.1 874.5,652.7 878.5,651.8 882.5,650.7 886.5,649.6 890.5,648.7 894.5,647.5 898.5,646.6 902.5,645.9 906.5,645.8 910.5,646.6 914.5,648.0 918.5,649.7 922.5,651.7 926.5,654.0 930.5,656.5 934.5,658.9 938.5,661.4 942.5,663.6 946.5,665.4 950.5,666.9 954.5,668.1 958.5,668.9 962.5,669.4 966.5,669.8 970.5,670.0 974.5,669.7 978.5,668.7 982.5,667.4 986.5,665.7 990.5,663.9 994.5,662.1 998.5,660.3 1002.5,658.4 1006.5,656.6 1010.5,655.4 1014.5,654.7 1018.5,654.6 1022.5,655.0 1026.5,655.5 1030.5,656.2 1034.5,657.2 1038.5,658.5 1042.5,659.8 1046.5,661.7 1050.5,664.2 1054.5,666.7 1058.5,669.4 1062.5,672.6 1066.5,676.0 1070.5,678.8 1074.5,681.0 1078.5,682.8 1082.5,683.8 1086.5,684.1 1090.5,683.7 1094.5,682.5 1098.5,680.4 1102.5,677.7 1106.5,675.3 1110.5,673.2 1114.5,671.4 1118.5,669.6 1122.5,667.8 1126.5,666.1 1130.5,664.9 1134.5,664.1 1138.5,663.5 1142.5,662.7 1146.5,662.0 1150.5,661.4 1154.5,661.1 1158.5,660.9 1162.5,661.0 1166.5,660.9 1170.5,661.0 1174.5,661.2 1178.5,661.7 1182.5,662.0 1186.5,662.5 1190.5,663.4 1194.5,664.9 1198.5,666.6 1202.5,668.9 1206.5,671.3 1210.5,673.6 1214.5,675.9 1218.5,678.3 1222.5,680.3 1226.5,681.7 1230.5,682.2 1234.5,682.2 1238.5,681.6 1242.5,680.8 1246.5,679.9 1250.5,679.0 1254.5,678.0 1258.5,677.1 1262.5,676.1 1266.5,675.3 1270.5,675.8 1274.5,677.5 1278.5,680.0" fill="none" stroke="#ff0000" stroke-width="1" stroke-dasharray="3,3"/></g>
<text x="5.8" y="628" font-size="10" fill="#000" stroke="#000" stroke-width="0.2" textLength="66.5" lengthAdjust="spacingAndGlyphs" shape-rendering="auto" >MACD(12,26,9)</text>
<text x="74.5" y="628" font-size="10" fill="#000" stroke="#000" stroke-width="0.2" textLength="41.5" lengthAdjust="spacingAndGlyphs" shape-rendering="auto" >-0.003191</text>
<text x="118.5" y="628" font-size="10" fill="#000" stroke="#000" stroke-width="0.2" textLength="41.5" lengthAdjust="spacingAndGlyphs" shape-rendering="auto" >-0.001510</text>
<rect x="1611" y="662" width="3" height="1" fill="#000"/>
<g clip-path="url(#ax)">
<text x="1615" y="626" font-size="10" fill="#000" stroke="#000" stroke-width="0.2" textLength="38" lengthAdjust="spacingAndGlyphs" shape-rendering="auto" >0.003698</text>
<text x="1615" y="666" font-size="10" fill="#000" stroke="#000" stroke-width="0.2" textLength="17.5" lengthAdjust="spacingAndGlyphs" shape-rendering="auto" >0.00</text>
<text x="1615" y="701.5" font-size="10" fill="#000" stroke="#000" stroke-width="0.2" textLength="37.5" lengthAdjust="spacingAndGlyphs" shape-rendering="auto" >-0.00352</text>
</g>
<rect x="2" y="706" width="1" height="3" fill="#000"/>
<text x="0.8" y="718" font-size="9.6" fill="#000" stroke="#000" stroke-width="0.12" textLength="46.3" lengthAdjust="spacingAndGlyphs" shape-rendering="auto" >5 Apr 2021</text>
<rect x="66" y="706" width="1" height="3" fill="#000"/>
<text x="64.8" y="718" font-size="9.6" fill="#000" stroke="#000" stroke-width="0.12" textLength="49.8" lengthAdjust="spacingAndGlyphs" shape-rendering="auto" >7 Apr 22:00</text>
<rect x="130" y="706" width="1" height="3" fill="#000"/>
<text x="128.8" y="718" font-size="9.6" fill="#000" stroke="#000" stroke-width="0.12" textLength="54.8" lengthAdjust="spacingAndGlyphs" shape-rendering="auto" >12 Apr 15:00</text>
<rect x="194" y="706" width="1" height="3" fill="#000"/>
<text x="192.8" y="718" font-size="9.6" fill="#000" stroke="#000" stroke-width="0.12" textLength="54.8" lengthAdjust="spacingAndGlyphs" shape-rendering="auto" >15 Apr 04:00</text>
<rect x="258" y="706" width="1" height="3" fill="#000"/>
<text x="256.8" y="718" font-size="9.6" fill="#000" stroke="#000" stroke-width="0.12" textLength="54.8" lengthAdjust="spacingAndGlyphs" shape-rendering="auto" >19 Apr 23:00</text>
<rect x="322" y="706" width="1" height="3" fill="#000"/>
<text x="320.8" y="718" font-size="9.6" fill="#000" stroke="#000" stroke-width="0.12" textLength="54.8" lengthAdjust="spacingAndGlyphs" shape-rendering="auto" >22 Apr 14:00</text>
<rect x="386" y="706" width="1" height="3" fill="#000"/>
<text x="384.8" y="718" font-size="9.6" fill="#000" stroke="#000" stroke-width="0.12" textLength="54.8" lengthAdjust="spacingAndGlyphs" shape-rendering="auto" >27 Apr 04:00</text>
<rect x="450" y="706" width="1" height="3" fill="#000"/>
<text x="448.8" y="718" font-size="9.6" fill="#000" stroke="#000" stroke-width="0.12" textLength="54.8" lengthAdjust="spacingAndGlyphs" shape-rendering="auto" >29 Apr 22:00</text>
<rect x="514" y="706" width="1" height="3" fill="#000"/>
<text x="512.8" y="718" font-size="9.6" fill="#000" stroke="#000" stroke-width="0.12" textLength="53.8" lengthAdjust="spacingAndGlyphs" shape-rendering="auto" >4 May 14:00</text>
<rect x="578" y="706" width="1" height="3" fill="#000"/>
<text x="576.8" y="718" font-size="9.6" fill="#000" stroke="#000" stroke-width="0.12" textLength="53.8" lengthAdjust="spacingAndGlyphs" shape-rendering="auto" >7 May 04:00</text>
<rect x="642" y="706" width="1" height="3" fill="#000"/>
<text x="640.8" y="718" font-size="9.6" fill="#000" stroke="#000" stroke-width="0.12" textLength="58.8" lengthAdjust="spacingAndGlyphs" shape-rendering="auto" >11 May 22:00</text>
<rect x="706" y="706" width="1" height="3" fill="#000"/>
<text x="704.8" y="718" font-size="9.6" fill="#000" stroke="#000" stroke-width="0.12" textLength="58.8" lengthAdjust="spacingAndGlyphs" shape-rendering="auto" >14 May 14:00</text>
<rect x="770" y="706" width="1" height="3" fill="#000"/>
<text x="768.8" y="718" font-size="9.6" fill="#000" stroke="#000" stroke-width="0.12" textLength="58.8" lengthAdjust="spacingAndGlyphs" shape-rendering="auto" >19 May 04:00</text>
<rect x="834" y="706" width="1" height="3" fill="#000"/>
<text x="832.8" y="718" font-size="9.6" fill="#000" stroke="#000" stroke-width="0.12" textLength="58.8" lengthAdjust="spacingAndGlyphs" shape-rendering="auto" >21 May 22:00</text>
<rect x="898" y="706" width="1" height="3" fill="#000"/>
<text x="896.8" y="718" font-size="9.6" fill="#000" stroke="#000" stroke-width="0.12" textLength="58.8" lengthAdjust="spacingAndGlyphs" shape-rendering="auto" >26 May 14:00</text>
<rect x="962" y="706" width="1" height="3" fill="#000"/>
<text x="960.8" y="718" font-size="9.6" fill="#000" stroke="#000" stroke-width="0.12" textLength="58.8" lengthAdjust="spacingAndGlyphs" shape-rendering="auto" >31 May 07:00</text>
<rect x="1026" y="706" width="1" height="3" fill="#000"/>
<text x="1024.8" y="718" font-size="9.6" fill="#000" stroke="#000" stroke-width="0.12" textLength="47.8" lengthAdjust="spacingAndGlyphs" shape-rendering="auto" >2 Jun 22:00</text>
<rect x="1090" y="706" width="1" height="3" fill="#000"/>
<text x="1088.8" y="718" font-size="9.6" fill="#000" stroke="#000" stroke-width="0.12" textLength="47.8" lengthAdjust="spacingAndGlyphs" shape-rendering="auto" >7 Jun 15:00</text>
<rect x="1154" y="706" width="1" height="3" fill="#000"/>
<text x="1152.8" y="718" font-size="9.6" fill="#000" stroke="#000" stroke-width="0.12" textLength="52.8" lengthAdjust="spacingAndGlyphs" shape-rendering="auto" >10 Jun 04:00</text>
<rect x="1218" y="706" width="1" height="3" fill="#000"/>
<text x="1216.8" y="718" font-size="9.6" fill="#000" stroke="#000" stroke-width="0.12" textLength="52.8" lengthAdjust="spacingAndGlyphs" shape-rendering="auto" >14 Jun 23:00</text>
<rect x="0" y="726" width="1650" height="1" fill="#e6e6e6"/>
<rect x="0" y="730" width="1650" height="18" fill="#f0f0f0"/>
<rect x="0" y="728" width="1650" height="1" fill="#000"/>
<rect x="196" y="728" width="91" height="19" fill="#fff"/>
<rect x="195" y="728" width="1" height="19" fill="#000"/><rect x="286" y="728" width="1" height="19" fill="#000"/><rect x="195" y="746" width="92" height="1" fill="#000"/>
<rect x="0" y="748" width="1650" height="2" fill="#fcfcfc"/>
<path d="M1629,734 L1629,740.5 L1625.8,737.2 Z M1645,734 L1645,740.5 L1648.2,737.2 Z" fill="#909090" shape-rendering="auto"/>
<text x="12.5" y="743" font-size="12" fill="#6d6d6d" stroke="#6d6d6d" stroke-width="0.08" textLength="67.9" lengthAdjust="spacingAndGlyphs" shape-rendering="auto" >USDCHF,H4</text>
<text x="100.2" y="743" font-size="12" fill="#6d6d6d" stroke="#6d6d6d" stroke-width="0.08" textLength="84.2" lengthAdjust="spacingAndGlyphs" shape-rendering="auto" >USDCNH,Daily</text>
<text x="206.79999999999998" y="743" font-size="12" fill="#000" stroke="#000" stroke-width="0.08" textLength="68.2" lengthAdjust="spacingAndGlyphs" shape-rendering="auto" >EURUSD,H4</text>
<text x="297.59999999999997" y="743" font-size="12" fill="#6d6d6d" stroke="#6d6d6d" stroke-width="0.08" textLength="70.4" lengthAdjust="spacingAndGlyphs" shape-rendering="auto" >AUDUSD,H4</text>
<text x="389.8" y="743" font-size="12" fill="#6d6d6d" stroke="#6d6d6d" stroke-width="0.08" textLength="69.2" lengthAdjust="spacingAndGlyphs" shape-rendering="auto" >USDCAD,H4</text>
<text x="483.2" y="743" font-size="12" fill="#6d6d6d" stroke="#6d6d6d" stroke-width="0.08" textLength="71.2" lengthAdjust="spacingAndGlyphs" shape-rendering="auto" >XAUUSD,M5</text>
<text x="576.2" y="743" font-size="12" fill="#6d6d6d" stroke="#6d6d6d" stroke-width="0.08" textLength="52.2" lengthAdjust="spacingAndGlyphs" shape-rendering="auto" >USOil,H4</text>
<rect x="91" y="731" width="1" height="13" fill="#808080"/>
<rect x="379" y="731" width="1" height="13" fill="#808080"/>
<rect x="471" y="731" width="1" height="13" fill="#808080"/>
<rect x="568" y="731" width="1" height="13" fill="#808080"/>
<rect x="639" y="731" width="1" height="13" fill="#808080"/>
</svg></body></html>
